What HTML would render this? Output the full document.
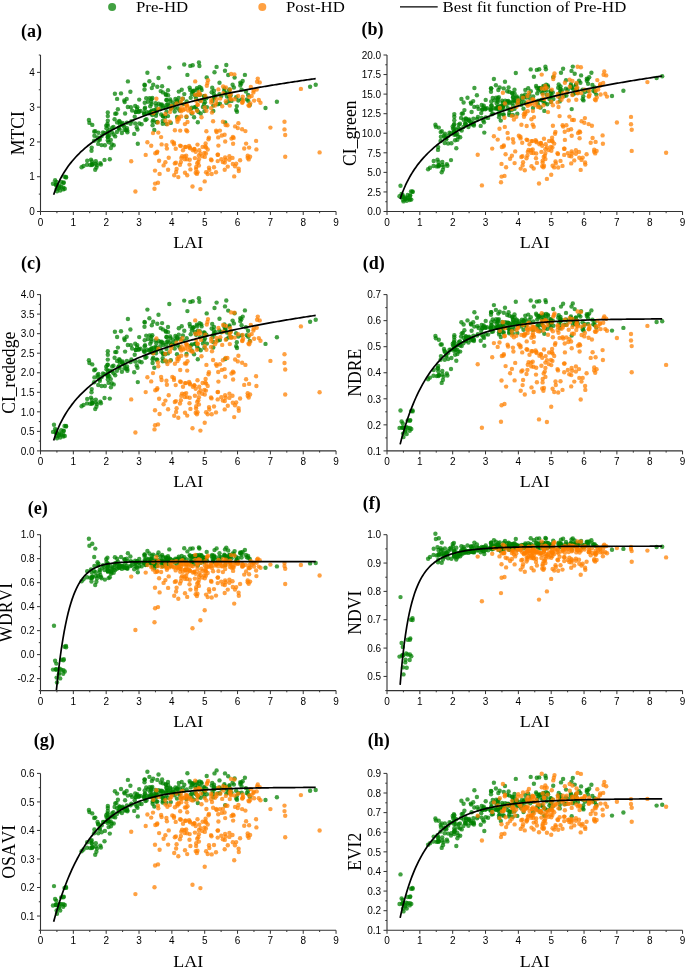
<!DOCTYPE html><html><head><meta charset="utf-8"><style>html,body{margin:0;padding:0;background:#fff;}svg{display:block;will-change:transform}text{font-family:"Liberation Sans",sans-serif;font-kerning:none}.s{font-family:"Liberation Serif",serif}</style></head><body>
<svg width="685" height="967" viewBox="0 0 685 967">
<rect width="685" height="967" fill="#fff"/>
<circle cx="112.1" cy="7.0" r="4" fill="rgba(0,128,0,0.74)"/>
<circle cx="262.3" cy="7.0" r="4" fill="rgba(255,128,0,0.74)"/>
<line x1="400" y1="6.9" x2="437.7" y2="6.9" stroke="#000" stroke-width="1.3"/>
<text class="s" transform="translate(136.0,12.4) scale(1,0.91)" font-size="16.8">Pre-HD</text>
<text class="s" transform="translate(286.0,12.4) scale(1,0.91)" font-size="16.8">Post-HD</text>
<text class="s" transform="translate(442.6,12.4) scale(1,0.91)" font-size="16.8">Best fit function of Pre-HD</text>
<g fill="rgba(0,128,0,0.74)"><circle cx="153.3" cy="120.1" r="2.2"/><circle cx="195.9" cy="106.9" r="2.2"/><circle cx="131.4" cy="121.3" r="2.2"/><circle cx="126.9" cy="122.7" r="2.2"/><circle cx="127.8" cy="107.0" r="2.2"/><circle cx="157.3" cy="86.8" r="2.2"/><circle cx="212.6" cy="101.0" r="2.2"/><circle cx="127.0" cy="128.1" r="2.2"/><circle cx="160.7" cy="104.9" r="2.2"/><circle cx="158.7" cy="103.7" r="2.2"/><circle cx="89.4" cy="122.9" r="2.2"/><circle cx="167.8" cy="104.3" r="2.2"/><circle cx="144.1" cy="112.5" r="2.2"/><circle cx="193.6" cy="91.2" r="2.2"/><circle cx="107.8" cy="125.8" r="2.2"/><circle cx="169.4" cy="105.2" r="2.2"/><circle cx="186.7" cy="101.5" r="2.2"/><circle cx="245.9" cy="91.5" r="2.2"/><circle cx="116.9" cy="132.0" r="2.2"/><circle cx="61.2" cy="186.7" r="2.2"/><circle cx="88.9" cy="120.0" r="2.2"/><circle cx="81.6" cy="167.2" r="2.2"/><circle cx="150.2" cy="106.2" r="2.2"/><circle cx="66.0" cy="176.9" r="2.2"/><circle cx="95.9" cy="163.8" r="2.2"/><circle cx="146.2" cy="98.2" r="2.2"/><circle cx="182.9" cy="98.7" r="2.2"/><circle cx="109.8" cy="129.8" r="2.2"/><circle cx="130.9" cy="107.3" r="2.2"/><circle cx="117.9" cy="109.3" r="2.2"/><circle cx="152.3" cy="98.0" r="2.2"/><circle cx="83.5" cy="166.0" r="2.2"/><circle cx="97.0" cy="165.3" r="2.2"/><circle cx="176.9" cy="100.4" r="2.2"/><circle cx="55.9" cy="184.6" r="2.2"/><circle cx="162.7" cy="120.9" r="2.2"/><circle cx="98.1" cy="140.2" r="2.2"/><circle cx="136.7" cy="127.2" r="2.2"/><circle cx="61.2" cy="181.9" r="2.2"/><circle cx="246.8" cy="99.4" r="2.2"/><circle cx="130.4" cy="91.8" r="2.2"/><circle cx="144.8" cy="85.2" r="2.2"/><circle cx="214.5" cy="72.2" r="2.2"/><circle cx="113.6" cy="134.5" r="2.2"/><circle cx="190.7" cy="109.1" r="2.2"/><circle cx="96.4" cy="167.6" r="2.2"/><circle cx="226.3" cy="65.0" r="2.2"/><circle cx="94.4" cy="135.8" r="2.2"/><circle cx="121.9" cy="133.0" r="2.2"/><circle cx="166.3" cy="124.0" r="2.2"/><circle cx="145.3" cy="120.0" r="2.2"/><circle cx="180.1" cy="102.1" r="2.2"/><circle cx="240.3" cy="82.6" r="2.2"/><circle cx="155.7" cy="109.6" r="2.2"/><circle cx="172.9" cy="102.5" r="2.2"/><circle cx="107.8" cy="140.3" r="2.2"/><circle cx="231.5" cy="100.9" r="2.2"/><circle cx="113.7" cy="145.3" r="2.2"/><circle cx="135.2" cy="123.4" r="2.2"/><circle cx="205.0" cy="102.2" r="2.2"/><circle cx="55.8" cy="184.7" r="2.2"/><circle cx="152.6" cy="125.3" r="2.2"/><circle cx="107.8" cy="120.8" r="2.2"/><circle cx="166.5" cy="99.7" r="2.2"/><circle cx="112.2" cy="127.7" r="2.2"/><circle cx="122.6" cy="122.9" r="2.2"/><circle cx="153.7" cy="110.1" r="2.2"/><circle cx="110.8" cy="140.0" r="2.2"/><circle cx="158.5" cy="78.0" r="2.2"/><circle cx="99.8" cy="139.8" r="2.2"/><circle cx="206.9" cy="107.1" r="2.2"/><circle cx="124.7" cy="102.1" r="2.2"/><circle cx="127.9" cy="81.4" r="2.2"/><circle cx="196.1" cy="98.2" r="2.2"/><circle cx="224.4" cy="88.5" r="2.2"/><circle cx="119.2" cy="120.9" r="2.2"/><circle cx="166.5" cy="105.0" r="2.2"/><circle cx="160.2" cy="109.0" r="2.2"/><circle cx="139.3" cy="123.5" r="2.2"/><circle cx="145.1" cy="107.7" r="2.2"/><circle cx="144.5" cy="84.8" r="2.2"/><circle cx="138.7" cy="112.0" r="2.2"/><circle cx="228.2" cy="75.0" r="2.2"/><circle cx="144.7" cy="102.7" r="2.2"/><circle cx="130.6" cy="123.8" r="2.2"/><circle cx="161.7" cy="104.5" r="2.2"/><circle cx="135.2" cy="105.9" r="2.2"/><circle cx="204.6" cy="96.3" r="2.2"/><circle cx="204.2" cy="99.1" r="2.2"/><circle cx="152.6" cy="121.5" r="2.2"/><circle cx="228.5" cy="101.3" r="2.2"/><circle cx="63.4" cy="187.6" r="2.2"/><circle cx="240.3" cy="85.5" r="2.2"/><circle cx="56.9" cy="185.0" r="2.2"/><circle cx="184.3" cy="94.1" r="2.2"/><circle cx="147.2" cy="112.1" r="2.2"/><circle cx="213.8" cy="97.2" r="2.2"/><circle cx="187.4" cy="74.9" r="2.2"/><circle cx="168.0" cy="90.2" r="2.2"/><circle cx="124.2" cy="126.4" r="2.2"/><circle cx="202.9" cy="106.9" r="2.2"/><circle cx="211.7" cy="92.3" r="2.2"/><circle cx="206.3" cy="98.2" r="2.2"/><circle cx="191.8" cy="93.9" r="2.2"/><circle cx="315.7" cy="84.8" r="2.2"/><circle cx="216.6" cy="66.9" r="2.2"/><circle cx="198.4" cy="112.0" r="2.2"/><circle cx="215.4" cy="96.0" r="2.2"/><circle cx="248.1" cy="95.0" r="2.2"/><circle cx="199.8" cy="94.9" r="2.2"/><circle cx="53.0" cy="183.8" r="2.2"/><circle cx="310.1" cy="86.7" r="2.2"/><circle cx="106.5" cy="128.2" r="2.2"/><circle cx="214.1" cy="98.2" r="2.2"/><circle cx="98.2" cy="143.9" r="2.2"/><circle cx="166.6" cy="100.2" r="2.2"/><circle cx="59.1" cy="187.5" r="2.2"/><circle cx="189.6" cy="87.6" r="2.2"/><circle cx="225.6" cy="92.9" r="2.2"/><circle cx="192.4" cy="91.8" r="2.2"/><circle cx="66.1" cy="177.5" r="2.2"/><circle cx="99.7" cy="138.1" r="2.2"/><circle cx="156.0" cy="115.7" r="2.2"/><circle cx="104.4" cy="133.2" r="2.2"/><circle cx="107.5" cy="132.8" r="2.2"/><circle cx="178.8" cy="91.6" r="2.2"/><circle cx="95.2" cy="169.7" r="2.2"/><circle cx="213.8" cy="94.1" r="2.2"/><circle cx="116.4" cy="113.5" r="2.2"/><circle cx="55.1" cy="180.2" r="2.2"/><circle cx="197.8" cy="122.3" r="2.2"/><circle cx="186.5" cy="117.0" r="2.2"/><circle cx="217.8" cy="104.2" r="2.2"/><circle cx="276.9" cy="101.7" r="2.2"/><circle cx="101.6" cy="145.1" r="2.2"/><circle cx="154.0" cy="113.6" r="2.2"/><circle cx="212.2" cy="87.8" r="2.2"/><circle cx="234.6" cy="77.6" r="2.2"/><circle cx="104.5" cy="159.9" r="2.2"/><circle cx="200.2" cy="100.6" r="2.2"/><circle cx="125.1" cy="113.5" r="2.2"/><circle cx="63.4" cy="182.9" r="2.2"/><circle cx="57.0" cy="191.3" r="2.2"/><circle cx="122.0" cy="124.1" r="2.2"/><circle cx="160.7" cy="91.1" r="2.2"/><circle cx="118.7" cy="127.9" r="2.2"/><circle cx="91.9" cy="165.0" r="2.2"/><circle cx="156.4" cy="113.1" r="2.2"/><circle cx="109.3" cy="135.5" r="2.2"/><circle cx="242.7" cy="81.0" r="2.2"/><circle cx="100.3" cy="163.1" r="2.2"/><circle cx="121.0" cy="93.4" r="2.2"/><circle cx="90.2" cy="165.0" r="2.2"/><circle cx="201.2" cy="88.1" r="2.2"/><circle cx="64.5" cy="176.7" r="2.2"/><circle cx="104.9" cy="145.2" r="2.2"/><circle cx="197.1" cy="110.0" r="2.2"/><circle cx="157.3" cy="122.0" r="2.2"/><circle cx="168.1" cy="95.2" r="2.2"/><circle cx="199.4" cy="66.0" r="2.2"/><circle cx="156.3" cy="105.9" r="2.2"/><circle cx="108.6" cy="142.3" r="2.2"/><circle cx="147.9" cy="101.7" r="2.2"/><circle cx="56.3" cy="182.0" r="2.2"/><circle cx="106.2" cy="125.6" r="2.2"/><circle cx="153.2" cy="84.8" r="2.2"/><circle cx="171.4" cy="107.5" r="2.2"/><circle cx="124.3" cy="100.5" r="2.2"/><circle cx="144.0" cy="113.9" r="2.2"/><circle cx="109.8" cy="159.2" r="2.2"/><circle cx="184.2" cy="64.5" r="2.2"/><circle cx="206.7" cy="77.4" r="2.2"/><circle cx="174.5" cy="107.7" r="2.2"/><circle cx="132.1" cy="110.6" r="2.2"/><circle cx="144.7" cy="108.7" r="2.2"/><circle cx="177.9" cy="108.3" r="2.2"/><circle cx="197.9" cy="94.3" r="2.2"/><circle cx="168.0" cy="116.1" r="2.2"/><circle cx="149.0" cy="113.0" r="2.2"/><circle cx="156.5" cy="122.2" r="2.2"/><circle cx="213.3" cy="105.6" r="2.2"/><circle cx="94.2" cy="131.5" r="2.2"/><circle cx="248.3" cy="100.9" r="2.2"/><circle cx="151.8" cy="88.1" r="2.2"/><circle cx="193.4" cy="90.7" r="2.2"/><circle cx="150.5" cy="112.0" r="2.2"/><circle cx="225.0" cy="93.6" r="2.2"/><circle cx="134.7" cy="116.7" r="2.2"/><circle cx="197.1" cy="89.9" r="2.2"/><circle cx="151.3" cy="101.8" r="2.2"/><circle cx="192.7" cy="65.2" r="2.2"/><circle cx="229.2" cy="96.9" r="2.2"/><circle cx="92.7" cy="164.3" r="2.2"/><circle cx="154.3" cy="130.0" r="2.2"/><circle cx="137.8" cy="143.7" r="2.2"/><circle cx="115.2" cy="113.7" r="2.2"/><circle cx="181.7" cy="89.8" r="2.2"/><circle cx="137.0" cy="109.3" r="2.2"/><circle cx="152.3" cy="115.1" r="2.2"/><circle cx="265.5" cy="108.0" r="2.2"/><circle cx="113.5" cy="126.9" r="2.2"/><circle cx="87.0" cy="164.7" r="2.2"/><circle cx="191.8" cy="107.7" r="2.2"/><circle cx="178.7" cy="97.9" r="2.2"/><circle cx="162.7" cy="123.7" r="2.2"/><circle cx="201.6" cy="90.1" r="2.2"/><circle cx="174.7" cy="111.5" r="2.2"/><circle cx="91.9" cy="161.5" r="2.2"/><circle cx="236.2" cy="110.0" r="2.2"/><circle cx="100.9" cy="164.5" r="2.2"/><circle cx="91.0" cy="159.6" r="2.2"/><circle cx="194.1" cy="117.3" r="2.2"/><circle cx="156.7" cy="111.4" r="2.2"/><circle cx="135.8" cy="112.1" r="2.2"/><circle cx="101.7" cy="136.0" r="2.2"/><circle cx="95.8" cy="161.3" r="2.2"/><circle cx="236.1" cy="97.3" r="2.2"/><circle cx="144.5" cy="89.5" r="2.2"/><circle cx="97.5" cy="137.5" r="2.2"/><circle cx="162.9" cy="92.4" r="2.2"/><circle cx="170.3" cy="101.1" r="2.2"/><circle cx="241.6" cy="89.6" r="2.2"/><circle cx="226.4" cy="102.9" r="2.2"/><circle cx="122.8" cy="125.3" r="2.2"/><circle cx="191.7" cy="113.6" r="2.2"/><circle cx="232.6" cy="84.8" r="2.2"/><circle cx="115.2" cy="136.4" r="2.2"/><circle cx="163.3" cy="116.3" r="2.2"/><circle cx="230.6" cy="95.6" r="2.2"/><circle cx="107.8" cy="137.3" r="2.2"/><circle cx="64.8" cy="188.8" r="2.2"/><circle cx="179.6" cy="110.5" r="2.2"/><circle cx="237.0" cy="111.8" r="2.2"/><circle cx="107.8" cy="116.1" r="2.2"/><circle cx="139.2" cy="99.6" r="2.2"/><circle cx="58.8" cy="188.2" r="2.2"/><circle cx="183.7" cy="104.1" r="2.2"/><circle cx="137.5" cy="129.6" r="2.2"/><circle cx="87.2" cy="160.7" r="2.2"/><circle cx="114.9" cy="93.7" r="2.2"/><circle cx="111.7" cy="144.2" r="2.2"/><circle cx="119.7" cy="124.0" r="2.2"/><circle cx="91.5" cy="150.8" r="2.2"/><circle cx="162.1" cy="86.2" r="2.2"/><circle cx="92.2" cy="164.1" r="2.2"/><circle cx="177.0" cy="117.0" r="2.2"/><circle cx="229.2" cy="90.7" r="2.2"/><circle cx="163.4" cy="107.7" r="2.2"/><circle cx="162.7" cy="105.8" r="2.2"/><circle cx="241.3" cy="83.6" r="2.2"/><circle cx="229.5" cy="89.4" r="2.2"/><circle cx="170.7" cy="108.7" r="2.2"/><circle cx="126.7" cy="98.9" r="2.2"/><circle cx="225.0" cy="70.7" r="2.2"/><circle cx="238.3" cy="100.5" r="2.2"/><circle cx="219.5" cy="82.8" r="2.2"/><circle cx="151.6" cy="110.6" r="2.2"/><circle cx="204.4" cy="111.1" r="2.2"/><circle cx="149.4" cy="81.3" r="2.2"/><circle cx="214.0" cy="90.8" r="2.2"/><circle cx="249.8" cy="104.9" r="2.2"/><circle cx="107.8" cy="135.7" r="2.2"/><circle cx="236.8" cy="106.1" r="2.2"/><circle cx="161.2" cy="114.4" r="2.2"/><circle cx="162.9" cy="116.3" r="2.2"/><circle cx="56.6" cy="188.9" r="2.2"/><circle cx="124.4" cy="129.9" r="2.2"/><circle cx="199.6" cy="86.9" r="2.2"/><circle cx="60.2" cy="190.6" r="2.2"/><circle cx="147.4" cy="72.7" r="2.2"/><circle cx="92.3" cy="124.9" r="2.2"/><circle cx="151.6" cy="111.6" r="2.2"/><circle cx="225.2" cy="122.4" r="2.2"/><circle cx="63.2" cy="189.4" r="2.2"/><circle cx="219.9" cy="103.8" r="2.2"/><circle cx="117.1" cy="122.4" r="2.2"/><circle cx="144.8" cy="114.0" r="2.2"/><circle cx="107.8" cy="131.8" r="2.2"/><circle cx="194.7" cy="107.2" r="2.2"/><circle cx="137.3" cy="107.3" r="2.2"/><circle cx="190.3" cy="65.9" r="2.2"/><circle cx="227.0" cy="96.5" r="2.2"/><circle cx="107.4" cy="123.9" r="2.2"/><circle cx="135.8" cy="112.1" r="2.2"/><circle cx="175.4" cy="99.0" r="2.2"/><circle cx="141.6" cy="124.3" r="2.2"/><circle cx="166.0" cy="94.9" r="2.2"/><circle cx="149.6" cy="98.1" r="2.2"/><circle cx="110.9" cy="148.0" r="2.2"/><circle cx="107.8" cy="136.9" r="2.2"/><circle cx="114.6" cy="119.2" r="2.2"/><circle cx="140.5" cy="111.0" r="2.2"/><circle cx="200.7" cy="113.5" r="2.2"/><circle cx="175.9" cy="103.5" r="2.2"/><circle cx="190.2" cy="90.0" r="2.2"/><circle cx="150.7" cy="113.5" r="2.2"/><circle cx="190.7" cy="97.7" r="2.2"/><circle cx="91.7" cy="147.6" r="2.2"/><circle cx="172.7" cy="105.9" r="2.2"/><circle cx="119.7" cy="129.5" r="2.2"/><circle cx="94.1" cy="140.7" r="2.2"/><circle cx="151.4" cy="99.3" r="2.2"/><circle cx="98.4" cy="132.7" r="2.2"/><circle cx="103.0" cy="132.5" r="2.2"/><circle cx="111.8" cy="132.3" r="2.2"/><circle cx="118.7" cy="128.0" r="2.2"/><circle cx="59.6" cy="185.7" r="2.2"/><circle cx="134.2" cy="133.9" r="2.2"/><circle cx="177.3" cy="101.7" r="2.2"/><circle cx="233.9" cy="87.5" r="2.2"/><circle cx="156.6" cy="110.4" r="2.2"/><circle cx="165.6" cy="94.0" r="2.2"/><circle cx="170.8" cy="122.9" r="2.2"/><circle cx="170.2" cy="99.4" r="2.2"/><circle cx="213.3" cy="110.9" r="2.2"/><circle cx="194.9" cy="95.5" r="2.2"/><circle cx="169.3" cy="67.6" r="2.2"/><circle cx="166.2" cy="107.5" r="2.2"/><circle cx="198.9" cy="62.5" r="2.2"/><circle cx="146.5" cy="119.3" r="2.2"/><circle cx="107.8" cy="112.5" r="2.2"/><circle cx="138.9" cy="111.3" r="2.2"/><circle cx="126.0" cy="130.1" r="2.2"/><circle cx="224.3" cy="90.7" r="2.2"/><circle cx="95.3" cy="131.3" r="2.2"/><circle cx="127.3" cy="130.4" r="2.2"/><circle cx="219.4" cy="94.3" r="2.2"/><circle cx="244.9" cy="74.9" r="2.2"/><circle cx="241.6" cy="99.4" r="2.2"/><circle cx="155.6" cy="103.2" r="2.2"/><circle cx="151.4" cy="104.1" r="2.2"/><circle cx="166.5" cy="111.7" r="2.2"/><circle cx="165.1" cy="117.0" r="2.2"/><circle cx="117.1" cy="98.9" r="2.2"/><circle cx="203.9" cy="96.1" r="2.2"/><circle cx="204.0" cy="104.0" r="2.2"/><circle cx="221.3" cy="96.1" r="2.2"/><circle cx="119.8" cy="121.7" r="2.2"/><circle cx="63.8" cy="182.5" r="2.2"/><circle cx="196.9" cy="88.3" r="2.2"/><circle cx="127.4" cy="132.3" r="2.2"/></g>
<g fill="rgba(255,128,0,0.74)"><circle cx="225.6" cy="159.6" r="2.2"/><circle cx="187.2" cy="106.5" r="2.2"/><circle cx="165.4" cy="120.8" r="2.2"/><circle cx="161.6" cy="144.4" r="2.2"/><circle cx="186.4" cy="116.4" r="2.2"/><circle cx="242.7" cy="96.7" r="2.2"/><circle cx="205.3" cy="95.8" r="2.2"/><circle cx="153.3" cy="113.2" r="2.2"/><circle cx="198.9" cy="159.3" r="2.2"/><circle cx="168.1" cy="169.7" r="2.2"/><circle cx="163.6" cy="165.4" r="2.2"/><circle cx="284.5" cy="129.4" r="2.2"/><circle cx="211.5" cy="160.3" r="2.2"/><circle cx="195.2" cy="81.4" r="2.2"/><circle cx="224.6" cy="134.8" r="2.2"/><circle cx="216.0" cy="172.3" r="2.2"/><circle cx="131.2" cy="161.3" r="2.2"/><circle cx="189.7" cy="159.8" r="2.2"/><circle cx="236.2" cy="163.7" r="2.2"/><circle cx="190.1" cy="148.2" r="2.2"/><circle cx="233.1" cy="143.8" r="2.2"/><circle cx="225.6" cy="125.1" r="2.2"/><circle cx="285.2" cy="135.0" r="2.2"/><circle cx="235.1" cy="126.4" r="2.2"/><circle cx="223.3" cy="93.2" r="2.2"/><circle cx="229.7" cy="95.2" r="2.2"/><circle cx="181.3" cy="158.1" r="2.2"/><circle cx="234.4" cy="74.4" r="2.2"/><circle cx="154.5" cy="188.7" r="2.2"/><circle cx="178.3" cy="177.1" r="2.2"/><circle cx="194.5" cy="149.2" r="2.2"/><circle cx="218.4" cy="89.4" r="2.2"/><circle cx="181.2" cy="111.2" r="2.2"/><circle cx="254.1" cy="100.6" r="2.2"/><circle cx="197.5" cy="172.3" r="2.2"/><circle cx="197.0" cy="110.8" r="2.2"/><circle cx="211.0" cy="159.4" r="2.2"/><circle cx="253.7" cy="90.5" r="2.2"/><circle cx="189.9" cy="108.4" r="2.2"/><circle cx="158.0" cy="182.8" r="2.2"/><circle cx="250.3" cy="103.5" r="2.2"/><circle cx="157.9" cy="122.5" r="2.2"/><circle cx="216.3" cy="103.0" r="2.2"/><circle cx="251.7" cy="96.0" r="2.2"/><circle cx="222.2" cy="106.3" r="2.2"/><circle cx="174.0" cy="144.3" r="2.2"/><circle cx="205.3" cy="146.5" r="2.2"/><circle cx="195.7" cy="151.8" r="2.2"/><circle cx="192.9" cy="150.3" r="2.2"/><circle cx="229.4" cy="156.2" r="2.2"/><circle cx="169.8" cy="121.6" r="2.2"/><circle cx="188.2" cy="110.6" r="2.2"/><circle cx="196.1" cy="169.1" r="2.2"/><circle cx="185.0" cy="109.0" r="2.2"/><circle cx="155.1" cy="183.6" r="2.2"/><circle cx="187.0" cy="105.3" r="2.2"/><circle cx="214.0" cy="167.3" r="2.2"/><circle cx="245.4" cy="131.1" r="2.2"/><circle cx="225.8" cy="101.2" r="2.2"/><circle cx="147.4" cy="142.2" r="2.2"/><circle cx="221.8" cy="135.5" r="2.2"/><circle cx="221.3" cy="159.3" r="2.2"/><circle cx="256.4" cy="149.4" r="2.2"/><circle cx="180.4" cy="109.7" r="2.2"/><circle cx="173.9" cy="142.7" r="2.2"/><circle cx="206.8" cy="85.8" r="2.2"/><circle cx="230.4" cy="98.5" r="2.2"/><circle cx="217.7" cy="161.1" r="2.2"/><circle cx="199.2" cy="150.2" r="2.2"/><circle cx="174.2" cy="175.3" r="2.2"/><circle cx="198.9" cy="155.4" r="2.2"/><circle cx="184.8" cy="159.2" r="2.2"/><circle cx="208.0" cy="80.3" r="2.2"/><circle cx="232.8" cy="163.9" r="2.2"/><circle cx="247.7" cy="157.8" r="2.2"/><circle cx="155.3" cy="153.3" r="2.2"/><circle cx="211.2" cy="99.9" r="2.2"/><circle cx="192.8" cy="112.7" r="2.2"/><circle cx="185.9" cy="104.8" r="2.2"/><circle cx="194.9" cy="158.1" r="2.2"/><circle cx="220.3" cy="98.6" r="2.2"/><circle cx="174.9" cy="130.3" r="2.2"/><circle cx="247.7" cy="155.7" r="2.2"/><circle cx="196.2" cy="167.0" r="2.2"/><circle cx="183.0" cy="150.2" r="2.2"/><circle cx="218.0" cy="154.7" r="2.2"/><circle cx="181.2" cy="116.4" r="2.2"/><circle cx="235.0" cy="166.2" r="2.2"/><circle cx="242.1" cy="129.3" r="2.2"/><circle cx="227.8" cy="166.6" r="2.2"/><circle cx="194.2" cy="148.9" r="2.2"/><circle cx="202.6" cy="146.9" r="2.2"/><circle cx="222.8" cy="162.1" r="2.2"/><circle cx="206.1" cy="172.3" r="2.2"/><circle cx="284.5" cy="121.8" r="2.2"/><circle cx="171.3" cy="108.7" r="2.2"/><circle cx="209.0" cy="167.8" r="2.2"/><circle cx="230.7" cy="93.7" r="2.2"/><circle cx="225.1" cy="157.5" r="2.2"/><circle cx="224.7" cy="169.7" r="2.2"/><circle cx="167.4" cy="124.3" r="2.2"/><circle cx="200.2" cy="94.3" r="2.2"/><circle cx="225.9" cy="87.5" r="2.2"/><circle cx="238.4" cy="123.2" r="2.2"/><circle cx="218.4" cy="145.6" r="2.2"/><circle cx="285.2" cy="156.7" r="2.2"/><circle cx="182.4" cy="98.8" r="2.2"/><circle cx="224.8" cy="162.6" r="2.2"/><circle cx="238.6" cy="168.6" r="2.2"/><circle cx="256.7" cy="89.6" r="2.2"/><circle cx="190.4" cy="169.4" r="2.2"/><circle cx="196.2" cy="100.7" r="2.2"/><circle cx="201.0" cy="101.0" r="2.2"/><circle cx="244.2" cy="148.5" r="2.2"/><circle cx="242.5" cy="102.2" r="2.2"/><circle cx="207.7" cy="174.0" r="2.2"/><circle cx="183.4" cy="110.1" r="2.2"/><circle cx="234.7" cy="99.2" r="2.2"/><circle cx="198.9" cy="165.5" r="2.2"/><circle cx="159.6" cy="173.9" r="2.2"/><circle cx="240.1" cy="160.3" r="2.2"/><circle cx="230.1" cy="89.6" r="2.2"/><circle cx="223.1" cy="86.5" r="2.2"/><circle cx="156.4" cy="98.7" r="2.2"/><circle cx="202.2" cy="156.2" r="2.2"/><circle cx="250.8" cy="86.9" r="2.2"/><circle cx="209.3" cy="169.9" r="2.2"/><circle cx="225.2" cy="141.5" r="2.2"/><circle cx="204.7" cy="181.4" r="2.2"/><circle cx="229.4" cy="159.8" r="2.2"/><circle cx="176.1" cy="172.0" r="2.2"/><circle cx="185.0" cy="147.0" r="2.2"/><circle cx="204.8" cy="156.9" r="2.2"/><circle cx="207.7" cy="149.5" r="2.2"/><circle cx="175.7" cy="148.8" r="2.2"/><circle cx="259.7" cy="82.4" r="2.2"/><circle cx="192.5" cy="186.5" r="2.2"/><circle cx="215.0" cy="105.5" r="2.2"/><circle cx="178.6" cy="117.5" r="2.2"/><circle cx="189.1" cy="146.0" r="2.2"/><circle cx="243.1" cy="100.3" r="2.2"/><circle cx="197.5" cy="144.6" r="2.2"/><circle cx="158.3" cy="132.6" r="2.2"/><circle cx="177.5" cy="121.7" r="2.2"/><circle cx="189.7" cy="147.4" r="2.2"/><circle cx="206.1" cy="147.4" r="2.2"/><circle cx="135.4" cy="191.5" r="2.2"/><circle cx="170.0" cy="112.1" r="2.2"/><circle cx="257.8" cy="78.6" r="2.2"/><circle cx="253.4" cy="92.4" r="2.2"/><circle cx="231.2" cy="99.5" r="2.2"/><circle cx="219.9" cy="130.6" r="2.2"/><circle cx="257.1" cy="81.7" r="2.2"/><circle cx="171.7" cy="106.1" r="2.2"/><circle cx="197.4" cy="104.4" r="2.2"/><circle cx="157.3" cy="151.6" r="2.2"/><circle cx="206.4" cy="131.3" r="2.2"/><circle cx="204.4" cy="152.9" r="2.2"/><circle cx="234.2" cy="176.4" r="2.2"/><circle cx="175.9" cy="162.7" r="2.2"/><circle cx="231.1" cy="74.0" r="2.2"/><circle cx="159.1" cy="160.7" r="2.2"/><circle cx="145.7" cy="154.9" r="2.2"/><circle cx="246.1" cy="143.6" r="2.2"/><circle cx="168.7" cy="157.7" r="2.2"/><circle cx="206.4" cy="110.8" r="2.2"/><circle cx="186.2" cy="155.7" r="2.2"/><circle cx="227.4" cy="125.2" r="2.2"/><circle cx="186.2" cy="130.2" r="2.2"/><circle cx="248.5" cy="105.3" r="2.2"/><circle cx="212.0" cy="112.5" r="2.2"/><circle cx="208.5" cy="139.3" r="2.2"/><circle cx="205.9" cy="153.5" r="2.2"/><circle cx="184.5" cy="156.4" r="2.2"/><circle cx="232.5" cy="157.9" r="2.2"/><circle cx="205.6" cy="143.5" r="2.2"/><circle cx="158.4" cy="108.9" r="2.2"/><circle cx="258.8" cy="100.0" r="2.2"/><circle cx="319.6" cy="152.4" r="2.2"/><circle cx="180.2" cy="130.6" r="2.2"/><circle cx="174.8" cy="163.4" r="2.2"/><circle cx="180.0" cy="164.8" r="2.2"/><circle cx="187.0" cy="159.2" r="2.2"/><circle cx="165.4" cy="162.3" r="2.2"/><circle cx="184.9" cy="124.1" r="2.2"/><circle cx="211.1" cy="108.1" r="2.2"/><circle cx="182.1" cy="156.2" r="2.2"/><circle cx="180.1" cy="145.6" r="2.2"/><circle cx="176.5" cy="103.4" r="2.2"/><circle cx="166.9" cy="148.6" r="2.2"/><circle cx="248.7" cy="159.4" r="2.2"/><circle cx="176.6" cy="168.9" r="2.2"/><circle cx="191.2" cy="112.1" r="2.2"/><circle cx="250.1" cy="156.8" r="2.2"/><circle cx="213.1" cy="121.2" r="2.2"/><circle cx="180.9" cy="146.1" r="2.2"/><circle cx="177.3" cy="119.3" r="2.2"/><circle cx="200.4" cy="189.1" r="2.2"/><circle cx="187.2" cy="131.3" r="2.2"/><circle cx="189.5" cy="164.6" r="2.2"/><circle cx="216.1" cy="130.7" r="2.2"/><circle cx="201.5" cy="117.3" r="2.2"/><circle cx="197.2" cy="163.3" r="2.2"/><circle cx="270.4" cy="127.6" r="2.2"/><circle cx="249.3" cy="97.0" r="2.2"/><circle cx="249.1" cy="147.6" r="2.2"/><circle cx="200.5" cy="153.5" r="2.2"/><circle cx="198.8" cy="92.3" r="2.2"/><circle cx="216.5" cy="99.3" r="2.2"/><circle cx="260.5" cy="102.7" r="2.2"/><circle cx="155.0" cy="170.6" r="2.2"/><circle cx="238.8" cy="171.0" r="2.2"/><circle cx="217.6" cy="154.8" r="2.2"/><circle cx="185.9" cy="147.0" r="2.2"/><circle cx="238.1" cy="96.0" r="2.2"/><circle cx="165.3" cy="114.0" r="2.2"/><circle cx="256.1" cy="140.9" r="2.2"/><circle cx="231.5" cy="138.6" r="2.2"/><circle cx="198.3" cy="162.0" r="2.2"/><circle cx="187.5" cy="122.0" r="2.2"/><circle cx="153.0" cy="133.1" r="2.2"/><circle cx="249.2" cy="106.1" r="2.2"/><circle cx="172.3" cy="141.7" r="2.2"/><circle cx="229.8" cy="105.6" r="2.2"/><circle cx="195.7" cy="172.7" r="2.2"/><circle cx="216.7" cy="132.0" r="2.2"/><circle cx="185.0" cy="172.8" r="2.2"/><circle cx="197.8" cy="104.9" r="2.2"/><circle cx="178.8" cy="119.3" r="2.2"/><circle cx="196.9" cy="173.9" r="2.2"/><circle cx="180.9" cy="101.8" r="2.2"/><circle cx="187.2" cy="175.2" r="2.2"/><circle cx="242.2" cy="102.7" r="2.2"/><circle cx="207.4" cy="83.1" r="2.2"/><circle cx="218.2" cy="137.4" r="2.2"/><circle cx="211.3" cy="102.5" r="2.2"/><circle cx="151.2" cy="145.7" r="2.2"/><circle cx="157.0" cy="152.7" r="2.2"/><circle cx="300.9" cy="88.9" r="2.2"/><circle cx="166.4" cy="145.1" r="2.2"/><circle cx="161.1" cy="137.1" r="2.2"/><circle cx="211.7" cy="174.0" r="2.2"/><circle cx="181.6" cy="107.2" r="2.2"/><circle cx="204.8" cy="107.4" r="2.2"/><circle cx="237.8" cy="128.1" r="2.2"/><circle cx="233.6" cy="137.9" r="2.2"/><circle cx="208.9" cy="137.6" r="2.2"/><circle cx="180.9" cy="162.0" r="2.2"/><circle cx="222.9" cy="121.7" r="2.2"/><circle cx="195.3" cy="94.7" r="2.2"/><circle cx="198.2" cy="94.9" r="2.2"/><circle cx="232.9" cy="137.0" r="2.2"/></g>
<polyline points="53.64,194.71 54.95,191.06 56.27,187.74 57.59,184.68 58.90,181.84 60.22,179.21 61.54,176.74 62.85,174.42 64.17,172.24 65.49,170.18 66.81,168.22 68.12,166.35 69.44,164.58 70.76,162.88 72.07,161.25 73.39,159.69 74.71,158.20 76.02,156.75 77.34,155.37 78.66,154.03 79.97,152.73 81.29,151.48 82.61,150.27 83.92,149.09 85.24,147.95 86.56,146.85 87.88,145.77 89.19,144.72 90.51,143.71 91.83,142.71 93.14,141.75 94.46,140.80 95.78,139.89 97.09,138.99 98.41,138.11 99.73,137.25 101.04,136.41 102.36,135.59 103.68,134.79 105.00,134.00 106.31,133.23 107.63,132.47 108.95,131.73 110.26,131.01 111.58,130.29 112.90,129.59 114.21,128.90 115.53,128.23 116.85,127.56 118.16,126.91 119.48,126.27 120.80,125.64 122.11,125.02 123.43,124.41 124.75,123.81 126.07,123.22 127.38,122.63 128.70,122.06 130.02,121.49 131.33,120.94 132.65,120.39 133.97,119.85 135.28,119.31 136.60,118.79 137.92,118.27 139.23,117.75 140.55,117.25 141.87,116.75 143.19,116.26 144.50,115.77 145.82,115.29 147.14,114.82 148.45,114.35 149.77,113.89 151.09,113.43 152.40,112.98 153.72,112.53 155.04,112.09 156.35,111.65 157.67,111.22 158.99,110.80 160.30,110.37 161.62,109.96 162.94,109.55 164.26,109.14 165.57,108.73 166.89,108.33 168.21,107.94 169.52,107.55 170.84,107.16 172.16,106.78 173.47,106.40 174.79,106.02 176.11,105.65 177.42,105.28 178.74,104.91 180.06,104.55 181.38,104.19 182.69,103.84 184.01,103.49 185.33,103.14 186.64,102.79 187.96,102.45 189.28,102.11 190.59,101.78 191.91,101.44 193.23,101.11 194.54,100.78 195.86,100.46 197.18,100.14 198.50,99.82 199.81,99.50 201.13,99.19 202.45,98.88 203.76,98.57 205.08,98.26 206.40,97.96 207.71,97.65 209.03,97.36 210.35,97.06 211.66,96.76 212.98,96.47 214.30,96.18 215.61,95.89 216.93,95.61 218.25,95.32 219.57,95.04 220.88,94.76 222.20,94.49 223.52,94.21 224.83,93.94 226.15,93.66 227.47,93.39 228.78,93.13 230.10,92.86 231.42,92.60 232.73,92.33 234.05,92.07 235.37,91.82 236.69,91.56 238.00,91.30 239.32,91.05 240.64,90.80 241.95,90.55 243.27,90.30 244.59,90.05 245.90,89.81 247.22,89.56 248.54,89.32 249.85,89.08 251.17,88.84 252.49,88.60 253.80,88.37 255.12,88.13 256.44,87.90 257.76,87.67 259.07,87.44 260.39,87.21 261.71,86.98 263.02,86.75 264.34,86.53 265.66,86.30 266.97,86.08 268.29,85.86 269.61,85.64 270.92,85.42 272.24,85.20 273.56,84.99 274.88,84.77 276.19,84.56 277.51,84.35 278.83,84.14 280.14,83.93 281.46,83.72 282.78,83.51 284.09,83.30 285.41,83.10 286.73,82.89 288.04,82.69 289.36,82.48 290.68,82.28 291.99,82.08 293.31,81.88 294.63,81.69 295.95,81.49 297.26,81.29 298.58,81.10 299.90,80.90 301.21,80.71 302.53,80.52 303.85,80.33 305.16,80.14 306.48,79.95 307.80,79.76 309.11,79.57 310.43,79.38 311.75,79.20 313.07,79.01 314.38,78.83 315.70,78.65" fill="none" stroke="#000" stroke-width="1.7" stroke-linejoin="round"/>
<path d="M40.5,55.0 V211.5 M40.5,211.5 H336.06000000000006" stroke="#333" stroke-width="1.1" fill="none"/>
<path d="M40.50,211.5 v3.5 M73.34,211.5 v3.5 M106.18,211.5 v3.5 M139.02,211.5 v3.5 M171.86,211.5 v3.5 M204.70,211.5 v3.5 M237.54,211.5 v3.5 M270.38,211.5 v3.5 M303.22,211.5 v3.5 M336.06,211.5 v3.5 M56.92,211.5 v1.7 M89.76,211.5 v1.7 M122.60,211.5 v1.7 M155.44,211.5 v1.7 M188.28,211.5 v1.7 M221.12,211.5 v1.7 M253.96,211.5 v1.7 M286.80,211.5 v1.7 M319.64,211.5 v1.7 M40.5,211.50 h-3.5 M40.5,194.11 h-1.7 M40.5,176.72 h-3.5 M40.5,159.33 h-1.7 M40.5,141.94 h-3.5 M40.5,124.56 h-1.7 M40.5,107.17 h-3.5 M40.5,89.78 h-1.7 M40.5,72.39 h-3.5 M40.5,55.00 h-1.7" stroke="#333" stroke-width="1.0" fill="none"/>
<text x="40.50" y="225.6" font-size="10.0" text-anchor="middle">0</text>
<text x="73.34" y="225.6" font-size="10.0" text-anchor="middle">1</text>
<text x="106.18" y="225.6" font-size="10.0" text-anchor="middle">2</text>
<text x="139.02" y="225.6" font-size="10.0" text-anchor="middle">3</text>
<text x="171.86" y="225.6" font-size="10.0" text-anchor="middle">4</text>
<text x="204.70" y="225.6" font-size="10.0" text-anchor="middle">5</text>
<text x="237.54" y="225.6" font-size="10.0" text-anchor="middle">6</text>
<text x="270.38" y="225.6" font-size="10.0" text-anchor="middle">7</text>
<text x="303.22" y="225.6" font-size="10.0" text-anchor="middle">8</text>
<text x="336.06" y="225.6" font-size="10.0" text-anchor="middle">9</text>
<text x="34.70" y="215.20" font-size="10.0" text-anchor="end">0</text>
<text x="34.70" y="180.42" font-size="10.0" text-anchor="end">1</text>
<text x="34.70" y="145.64" font-size="10.0" text-anchor="end">2</text>
<text x="34.70" y="110.87" font-size="10.0" text-anchor="end">3</text>
<text x="34.70" y="76.09" font-size="10.0" text-anchor="end">4</text>
<text class="s" transform="translate(188.3,247.8) scale(1,0.91)" font-size="18" text-anchor="middle">LAI</text>
<text class="s" transform="translate(23.6,133.2) rotate(-90) scale(1,1.07)" x="0" y="0" font-size="17.6" text-anchor="middle">MTCI</text>
<text class="s" x="21.1" y="36.6" font-size="18" font-weight="bold">(a)</text>
<g fill="rgba(0,128,0,0.74)"><circle cx="584.8" cy="92.0" r="2.2"/><circle cx="469.1" cy="119.4" r="2.2"/><circle cx="544.3" cy="110.9" r="2.2"/><circle cx="463.6" cy="119.8" r="2.2"/><circle cx="409.7" cy="200.0" r="2.2"/><circle cx="453.9" cy="124.9" r="2.2"/><circle cx="583.5" cy="100.4" r="2.2"/><circle cx="476.9" cy="95.3" r="2.2"/><circle cx="553.2" cy="77.1" r="2.2"/><circle cx="461.1" cy="117.9" r="2.2"/><circle cx="513.1" cy="97.3" r="2.2"/><circle cx="442.3" cy="161.9" r="2.2"/><circle cx="491.2" cy="101.5" r="2.2"/><circle cx="496.7" cy="103.5" r="2.2"/><circle cx="576.0" cy="84.4" r="2.2"/><circle cx="465.7" cy="118.4" r="2.2"/><circle cx="433.5" cy="166.0" r="2.2"/><circle cx="553.4" cy="99.0" r="2.2"/><circle cx="551.1" cy="91.2" r="2.2"/><circle cx="460.1" cy="129.3" r="2.2"/><circle cx="493.7" cy="108.2" r="2.2"/><circle cx="411.0" cy="191.4" r="2.2"/><circle cx="473.2" cy="101.1" r="2.2"/><circle cx="541.4" cy="91.4" r="2.2"/><circle cx="464.4" cy="110.1" r="2.2"/><circle cx="468.4" cy="127.0" r="2.2"/><circle cx="497.9" cy="98.3" r="2.2"/><circle cx="405.6" cy="198.7" r="2.2"/><circle cx="446.3" cy="139.3" r="2.2"/><circle cx="530.8" cy="91.2" r="2.2"/><circle cx="537.2" cy="93.4" r="2.2"/><circle cx="469.3" cy="121.1" r="2.2"/><circle cx="435.9" cy="126.8" r="2.2"/><circle cx="514.5" cy="108.9" r="2.2"/><circle cx="526.6" cy="97.5" r="2.2"/><circle cx="449.5" cy="132.7" r="2.2"/><circle cx="515.8" cy="73.0" r="2.2"/><circle cx="474.4" cy="88.0" r="2.2"/><circle cx="491.0" cy="91.8" r="2.2"/><circle cx="438.8" cy="127.6" r="2.2"/><circle cx="453.0" cy="128.7" r="2.2"/><circle cx="533.0" cy="107.9" r="2.2"/><circle cx="506.7" cy="104.5" r="2.2"/><circle cx="499.1" cy="117.3" r="2.2"/><circle cx="561.9" cy="90.2" r="2.2"/><circle cx="586.8" cy="78.7" r="2.2"/><circle cx="519.4" cy="98.4" r="2.2"/><circle cx="572.8" cy="66.6" r="2.2"/><circle cx="566.0" cy="80.2" r="2.2"/><circle cx="461.7" cy="113.7" r="2.2"/><circle cx="495.9" cy="85.2" r="2.2"/><circle cx="543.6" cy="87.0" r="2.2"/><circle cx="511.6" cy="109.9" r="2.2"/><circle cx="482.3" cy="109.6" r="2.2"/><circle cx="480.7" cy="125.9" r="2.2"/><circle cx="529.4" cy="94.7" r="2.2"/><circle cx="572.1" cy="87.3" r="2.2"/><circle cx="560.3" cy="91.2" r="2.2"/><circle cx="509.2" cy="101.9" r="2.2"/><circle cx="438.4" cy="162.0" r="2.2"/><circle cx="538.3" cy="90.4" r="2.2"/><circle cx="477.1" cy="118.9" r="2.2"/><circle cx="454.3" cy="128.4" r="2.2"/><circle cx="402.8" cy="195.1" r="2.2"/><circle cx="559.8" cy="101.4" r="2.2"/><circle cx="575.7" cy="85.4" r="2.2"/><circle cx="533.2" cy="96.5" r="2.2"/><circle cx="500.2" cy="106.0" r="2.2"/><circle cx="438.4" cy="166.4" r="2.2"/><circle cx="468.5" cy="120.3" r="2.2"/><circle cx="433.7" cy="161.0" r="2.2"/><circle cx="407.7" cy="198.2" r="2.2"/><circle cx="587.8" cy="79.3" r="2.2"/><circle cx="507.2" cy="91.2" r="2.2"/><circle cx="402.3" cy="196.9" r="2.2"/><circle cx="514.3" cy="100.2" r="2.2"/><circle cx="487.0" cy="108.2" r="2.2"/><circle cx="407.7" cy="194.9" r="2.2"/><circle cx="503.8" cy="114.4" r="2.2"/><circle cx="515.9" cy="100.8" r="2.2"/><circle cx="496.1" cy="97.6" r="2.2"/><circle cx="500.8" cy="120.6" r="2.2"/><circle cx="477.9" cy="116.9" r="2.2"/><circle cx="406.7" cy="200.8" r="2.2"/><circle cx="563.1" cy="68.7" r="2.2"/><circle cx="558.7" cy="84.4" r="2.2"/><circle cx="579.1" cy="80.8" r="2.2"/><circle cx="493.9" cy="79.0" r="2.2"/><circle cx="502.1" cy="100.7" r="2.2"/><circle cx="483.8" cy="105.8" r="2.2"/><circle cx="440.9" cy="136.8" r="2.2"/><circle cx="550.9" cy="102.1" r="2.2"/><circle cx="572.9" cy="94.6" r="2.2"/><circle cx="502.2" cy="105.4" r="2.2"/><circle cx="519.2" cy="101.0" r="2.2"/><circle cx="491.6" cy="105.2" r="2.2"/><circle cx="509.2" cy="115.1" r="2.2"/><circle cx="491.2" cy="105.9" r="2.2"/><circle cx="484.0" cy="122.3" r="2.2"/><circle cx="402.4" cy="196.8" r="2.2"/><circle cx="588.1" cy="83.7" r="2.2"/><circle cx="470.9" cy="124.3" r="2.2"/><circle cx="509.2" cy="113.0" r="2.2"/><circle cx="539.9" cy="87.9" r="2.2"/><circle cx="512.1" cy="92.9" r="2.2"/><circle cx="526.1" cy="103.7" r="2.2"/><circle cx="498.1" cy="106.6" r="2.2"/><circle cx="543.6" cy="101.9" r="2.2"/><circle cx="538.9" cy="88.8" r="2.2"/><circle cx="612.0" cy="96.0" r="2.2"/><circle cx="564.3" cy="96.1" r="2.2"/><circle cx="444.6" cy="137.2" r="2.2"/><circle cx="505.0" cy="81.8" r="2.2"/><circle cx="539.2" cy="69.2" r="2.2"/><circle cx="656.6" cy="78.0" r="2.2"/><circle cx="495.5" cy="108.6" r="2.2"/><circle cx="528.2" cy="88.2" r="2.2"/><circle cx="441.7" cy="172.3" r="2.2"/><circle cx="552.8" cy="92.5" r="2.2"/><circle cx="497.9" cy="101.8" r="2.2"/><circle cx="481.7" cy="105.0" r="2.2"/><circle cx="463.4" cy="127.0" r="2.2"/><circle cx="491.8" cy="114.2" r="2.2"/><circle cx="521.9" cy="95.6" r="2.2"/><circle cx="509.9" cy="103.1" r="2.2"/><circle cx="471.6" cy="112.0" r="2.2"/><circle cx="454.3" cy="124.0" r="2.2"/><circle cx="571.5" cy="87.8" r="2.2"/><circle cx="461.4" cy="99.0" r="2.2"/><circle cx="596.3" cy="94.6" r="2.2"/><circle cx="440.6" cy="141.0" r="2.2"/><circle cx="441.8" cy="131.1" r="2.2"/><circle cx="561.0" cy="72.7" r="2.2"/><circle cx="403.1" cy="199.7" r="2.2"/><circle cx="450.9" cy="133.2" r="2.2"/><circle cx="591.4" cy="72.7" r="2.2"/><circle cx="428.1" cy="169.2" r="2.2"/><circle cx="516.7" cy="96.4" r="2.2"/><circle cx="438.2" cy="147.1" r="2.2"/><circle cx="481.7" cy="118.0" r="2.2"/><circle cx="589.2" cy="77.3" r="2.2"/><circle cx="573.5" cy="89.8" r="2.2"/><circle cx="484.3" cy="132.6" r="2.2"/><circle cx="481.2" cy="113.1" r="2.2"/><circle cx="546.1" cy="84.7" r="2.2"/><circle cx="545.9" cy="69.2" r="2.2"/><circle cx="517.9" cy="102.3" r="2.2"/><circle cx="546.3" cy="90.5" r="2.2"/><circle cx="446.8" cy="164.1" r="2.2"/><circle cx="549.4" cy="99.1" r="2.2"/><circle cx="593.3" cy="90.7" r="2.2"/><circle cx="586.8" cy="80.8" r="2.2"/><circle cx="498.8" cy="97.2" r="2.2"/><circle cx="497.8" cy="100.1" r="2.2"/><circle cx="439.2" cy="165.5" r="2.2"/><circle cx="577.1" cy="88.9" r="2.2"/><circle cx="411.3" cy="199.6" r="2.2"/><circle cx="543.4" cy="85.9" r="2.2"/><circle cx="538.2" cy="105.0" r="2.2"/><circle cx="436.7" cy="166.4" r="2.2"/><circle cx="514.5" cy="89.8" r="2.2"/><circle cx="474.3" cy="106.9" r="2.2"/><circle cx="582.7" cy="99.2" r="2.2"/><circle cx="454.3" cy="116.8" r="2.2"/><circle cx="494.4" cy="100.4" r="2.2"/><circle cx="571.5" cy="70.9" r="2.2"/><circle cx="594.8" cy="91.7" r="2.2"/><circle cx="580.4" cy="82.7" r="2.2"/><circle cx="448.1" cy="143.5" r="2.2"/><circle cx="488.1" cy="117.9" r="2.2"/><circle cx="485.4" cy="108.6" r="2.2"/><circle cx="588.1" cy="91.0" r="2.2"/><circle cx="454.3" cy="132.4" r="2.2"/><circle cx="455.1" cy="140.3" r="2.2"/><circle cx="536.1" cy="86.0" r="2.2"/><circle cx="575.7" cy="90.0" r="2.2"/><circle cx="558.2" cy="87.7" r="2.2"/><circle cx="462.9" cy="113.4" r="2.2"/><circle cx="412.5" cy="191.5" r="2.2"/><circle cx="514.6" cy="93.5" r="2.2"/><circle cx="490.6" cy="108.9" r="2.2"/><circle cx="412.6" cy="191.9" r="2.2"/><circle cx="544.9" cy="103.3" r="2.2"/><circle cx="497.0" cy="107.7" r="2.2"/><circle cx="483.2" cy="120.6" r="2.2"/><circle cx="523.8" cy="97.4" r="2.2"/><circle cx="503.2" cy="106.6" r="2.2"/><circle cx="458.2" cy="136.8" r="2.2"/><circle cx="570.9" cy="84.1" r="2.2"/><circle cx="401.6" cy="193.9" r="2.2"/><circle cx="571.7" cy="109.1" r="2.2"/><circle cx="485.2" cy="109.2" r="2.2"/><circle cx="456.3" cy="148.2" r="2.2"/><circle cx="470.7" cy="121.7" r="2.2"/><circle cx="444.9" cy="133.6" r="2.2"/><circle cx="559.1" cy="94.1" r="2.2"/><circle cx="403.5" cy="201.4" r="2.2"/><circle cx="399.5" cy="196.3" r="2.2"/><circle cx="513.0" cy="100.8" r="2.2"/><circle cx="457.4" cy="139.8" r="2.2"/><circle cx="582.6" cy="89.8" r="2.2"/><circle cx="435.4" cy="124.7" r="2.2"/><circle cx="540.1" cy="88.3" r="2.2"/><circle cx="533.9" cy="76.8" r="2.2"/><circle cx="473.8" cy="124.3" r="2.2"/><circle cx="565.9" cy="88.7" r="2.2"/><circle cx="538.3" cy="100.6" r="2.2"/><circle cx="457.3" cy="133.9" r="2.2"/><circle cx="547.2" cy="104.2" r="2.2"/><circle cx="502.5" cy="109.9" r="2.2"/><circle cx="456.3" cy="129.7" r="2.2"/><circle cx="575.0" cy="93.2" r="2.2"/><circle cx="455.8" cy="134.5" r="2.2"/><circle cx="491.0" cy="88.3" r="2.2"/><circle cx="430.0" cy="167.7" r="2.2"/><circle cx="512.5" cy="93.4" r="2.2"/><circle cx="405.3" cy="199.2" r="2.2"/><circle cx="517.2" cy="103.2" r="2.2"/><circle cx="537.2" cy="101.7" r="2.2"/><circle cx="471.2" cy="103.7" r="2.2"/><circle cx="460.2" cy="137.3" r="2.2"/><circle cx="400.5" cy="185.7" r="2.2"/><circle cx="570.8" cy="85.7" r="2.2"/><circle cx="503.0" cy="114.6" r="2.2"/><circle cx="540.6" cy="107.5" r="2.2"/><circle cx="446.2" cy="138.0" r="2.2"/><circle cx="512.7" cy="102.8" r="2.2"/><circle cx="409.9" cy="198.8" r="2.2"/><circle cx="548.1" cy="86.9" r="2.2"/><circle cx="406.1" cy="197.5" r="2.2"/><circle cx="438.7" cy="165.3" r="2.2"/><circle cx="409.9" cy="195.6" r="2.2"/><circle cx="550.7" cy="93.3" r="2.2"/><circle cx="485.7" cy="99.9" r="2.2"/><circle cx="523.5" cy="108.8" r="2.2"/><circle cx="473.9" cy="125.6" r="2.2"/><circle cx="454.3" cy="132.1" r="2.2"/><circle cx="473.4" cy="118.6" r="2.2"/><circle cx="541.2" cy="100.0" r="2.2"/><circle cx="410.3" cy="195.4" r="2.2"/><circle cx="497.2" cy="108.8" r="2.2"/><circle cx="467.5" cy="97.8" r="2.2"/><circle cx="440.7" cy="132.1" r="2.2"/><circle cx="493.0" cy="113.6" r="2.2"/><circle cx="466.2" cy="124.7" r="2.2"/><circle cx="578.0" cy="92.8" r="2.2"/><circle cx="454.0" cy="132.4" r="2.2"/><circle cx="594.6" cy="87.4" r="2.2"/><circle cx="492.7" cy="98.0" r="2.2"/><circle cx="498.3" cy="90.0" r="2.2"/><circle cx="442.4" cy="164.9" r="2.2"/><circle cx="438.0" cy="149.9" r="2.2"/><circle cx="542.6" cy="93.3" r="2.2"/><circle cx="458.7" cy="124.6" r="2.2"/><circle cx="559.8" cy="97.4" r="2.2"/><circle cx="525.3" cy="89.9" r="2.2"/><circle cx="551.5" cy="95.5" r="2.2"/><circle cx="447.4" cy="165.8" r="2.2"/><circle cx="513.0" cy="105.8" r="2.2"/><circle cx="502.9" cy="107.9" r="2.2"/><circle cx="508.2" cy="101.0" r="2.2"/><circle cx="507.2" cy="101.4" r="2.2"/><circle cx="567.8" cy="89.8" r="2.2"/><circle cx="550.5" cy="96.9" r="2.2"/><circle cx="454.3" cy="134.7" r="2.2"/><circle cx="437.5" cy="159.6" r="2.2"/><circle cx="470.8" cy="102.6" r="2.2"/><circle cx="403.4" cy="197.1" r="2.2"/><circle cx="454.3" cy="131.3" r="2.2"/><circle cx="550.4" cy="91.1" r="2.2"/><circle cx="523.4" cy="96.5" r="2.2"/><circle cx="536.7" cy="87.7" r="2.2"/><circle cx="581.1" cy="75.4" r="2.2"/><circle cx="451.4" cy="143.2" r="2.2"/><circle cx="546.7" cy="94.7" r="2.2"/><circle cx="513.0" cy="97.0" r="2.2"/><circle cx="560.5" cy="86.4" r="2.2"/><circle cx="454.3" cy="120.3" r="2.2"/><circle cx="498.1" cy="107.3" r="2.2"/><circle cx="592.4" cy="84.9" r="2.2"/><circle cx="517.3" cy="113.7" r="2.2"/><circle cx="485.8" cy="117.5" r="2.2"/><circle cx="499.8" cy="113.4" r="2.2"/><circle cx="491.3" cy="109.9" r="2.2"/><circle cx="507.7" cy="108.3" r="2.2"/><circle cx="505.2" cy="100.7" r="2.2"/><circle cx="662.2" cy="76.3" r="2.2"/><circle cx="452.7" cy="126.5" r="2.2"/><circle cx="443.5" cy="166.8" r="2.2"/><circle cx="461.7" cy="130.5" r="2.2"/><circle cx="499.7" cy="87.4" r="2.2"/><circle cx="509.8" cy="109.6" r="2.2"/><circle cx="530.2" cy="98.6" r="2.2"/><circle cx="466.2" cy="120.6" r="2.2"/><circle cx="454.3" cy="114.1" r="2.2"/><circle cx="478.6" cy="108.9" r="2.2"/><circle cx="451.0" cy="160.1" r="2.2"/><circle cx="524.4" cy="102.3" r="2.2"/><circle cx="512.8" cy="115.0" r="2.2"/><circle cx="444.0" cy="135.5" r="2.2"/><circle cx="521.2" cy="104.9" r="2.2"/><circle cx="547.7" cy="85.4" r="2.2"/><circle cx="583.3" cy="96.2" r="2.2"/><circle cx="472.5" cy="124.2" r="2.2"/><circle cx="448.2" cy="135.8" r="2.2"/><circle cx="503.8" cy="88.4" r="2.2"/><circle cx="477.4" cy="106.6" r="2.2"/><circle cx="442.9" cy="169.7" r="2.2"/><circle cx="458.3" cy="128.0" r="2.2"/><circle cx="560.6" cy="91.9" r="2.2"/><circle cx="463.6" cy="102.5" r="2.2"/><circle cx="466.3" cy="118.9" r="2.2"/><circle cx="502.8" cy="102.6" r="2.2"/><circle cx="530.7" cy="69.4" r="2.2"/><circle cx="473.5" cy="122.6" r="2.2"/><circle cx="516.8" cy="97.7" r="2.2"/><circle cx="465.2" cy="123.7" r="2.2"/><circle cx="623.4" cy="90.7" r="2.2"/><circle cx="542.4" cy="99.7" r="2.2"/><circle cx="509.4" cy="109.6" r="2.2"/><circle cx="560.3" cy="88.9" r="2.2"/><circle cx="500.5" cy="108.5" r="2.2"/><circle cx="544.4" cy="90.2" r="2.2"/><circle cx="499.1" cy="114.5" r="2.2"/><circle cx="508.6" cy="87.5" r="2.2"/><circle cx="482.3" cy="109.6" r="2.2"/><circle cx="574.7" cy="73.8" r="2.2"/><circle cx="483.5" cy="107.4" r="2.2"/><circle cx="522.4" cy="98.9" r="2.2"/><circle cx="498.8" cy="109.8" r="2.2"/><circle cx="509.4" cy="91.9" r="2.2"/><circle cx="503.1" cy="105.9" r="2.2"/><circle cx="460.0" cy="123.8" r="2.2"/><circle cx="525.2" cy="94.5" r="2.2"/><circle cx="545.4" cy="66.7" r="2.2"/><circle cx="566.4" cy="95.6" r="2.2"/><circle cx="491.3" cy="88.6" r="2.2"/><circle cx="465.2" cy="123.7" r="2.2"/><circle cx="536.8" cy="69.9" r="2.2"/><circle cx="490.5" cy="109.9" r="2.2"/><circle cx="521.0" cy="102.1" r="2.2"/><circle cx="444.7" cy="143.0" r="2.2"/></g>
<g fill="rgba(255,128,0,0.74)"><circle cx="544.8" cy="155.7" r="2.2"/><circle cx="582.7" cy="157.6" r="2.2"/><circle cx="631.0" cy="124.3" r="2.2"/><circle cx="526.9" cy="104.2" r="2.2"/><circle cx="511.8" cy="108.8" r="2.2"/><circle cx="595.2" cy="153.4" r="2.2"/><circle cx="585.1" cy="162.4" r="2.2"/><circle cx="522.4" cy="156.3" r="2.2"/><circle cx="528.6" cy="150.0" r="2.2"/><circle cx="584.3" cy="122.8" r="2.2"/><circle cx="560.5" cy="160.9" r="2.2"/><circle cx="527.4" cy="155.6" r="2.2"/><circle cx="536.4" cy="102.8" r="2.2"/><circle cx="541.7" cy="74.6" r="2.2"/><circle cx="597.3" cy="80.1" r="2.2"/><circle cx="510.1" cy="158.8" r="2.2"/><circle cx="553.3" cy="79.1" r="2.2"/><circle cx="554.2" cy="167.4" r="2.2"/><circle cx="568.3" cy="130.0" r="2.2"/><circle cx="532.7" cy="124.6" r="2.2"/><circle cx="533.7" cy="168.5" r="2.2"/><circle cx="531.3" cy="152.9" r="2.2"/><circle cx="545.3" cy="86.0" r="2.2"/><circle cx="543.5" cy="105.2" r="2.2"/><circle cx="564.2" cy="154.9" r="2.2"/><circle cx="518.8" cy="135.8" r="2.2"/><circle cx="533.5" cy="153.0" r="2.2"/><circle cx="558.5" cy="107.0" r="2.2"/><circle cx="504.5" cy="175.9" r="2.2"/><circle cx="571.3" cy="156.4" r="2.2"/><circle cx="576.2" cy="88.9" r="2.2"/><circle cx="531.4" cy="119.2" r="2.2"/><circle cx="525.3" cy="114.3" r="2.2"/><circle cx="555.4" cy="132.0" r="2.2"/><circle cx="526.6" cy="139.6" r="2.2"/><circle cx="569.3" cy="155.9" r="2.2"/><circle cx="580.9" cy="67.2" r="2.2"/><circle cx="541.4" cy="151.9" r="2.2"/><circle cx="569.8" cy="86.8" r="2.2"/><circle cx="543.7" cy="157.0" r="2.2"/><circle cx="497.7" cy="139.6" r="2.2"/><circle cx="568.7" cy="100.5" r="2.2"/><circle cx="562.5" cy="165.9" r="2.2"/><circle cx="595.6" cy="141.9" r="2.2"/><circle cx="533.5" cy="99.6" r="2.2"/><circle cx="536.0" cy="158.2" r="2.2"/><circle cx="580.7" cy="169.9" r="2.2"/><circle cx="535.6" cy="140.1" r="2.2"/><circle cx="513.9" cy="119.5" r="2.2"/><circle cx="522.6" cy="165.4" r="2.2"/><circle cx="501.0" cy="182.2" r="2.2"/><circle cx="493.9" cy="136.2" r="2.2"/><circle cx="501.5" cy="163.9" r="2.2"/><circle cx="579.6" cy="138.2" r="2.2"/><circle cx="554.2" cy="143.6" r="2.2"/><circle cx="602.6" cy="135.4" r="2.2"/><circle cx="531.5" cy="103.5" r="2.2"/><circle cx="511.9" cy="115.9" r="2.2"/><circle cx="543.9" cy="98.6" r="2.2"/><circle cx="563.2" cy="126.6" r="2.2"/><circle cx="561.5" cy="99.7" r="2.2"/><circle cx="551.2" cy="174.7" r="2.2"/><circle cx="523.0" cy="97.6" r="2.2"/><circle cx="499.5" cy="128.8" r="2.2"/><circle cx="631.7" cy="150.9" r="2.2"/><circle cx="552.1" cy="137.7" r="2.2"/><circle cx="504.4" cy="117.7" r="2.2"/><circle cx="571.2" cy="163.4" r="2.2"/><circle cx="572.4" cy="80.9" r="2.2"/><circle cx="590.7" cy="142.7" r="2.2"/><circle cx="532.4" cy="141.1" r="2.2"/><circle cx="588.6" cy="124.1" r="2.2"/><circle cx="588.7" cy="96.6" r="2.2"/><circle cx="552.9" cy="105.2" r="2.2"/><circle cx="544.0" cy="165.8" r="2.2"/><circle cx="555.0" cy="133.7" r="2.2"/><circle cx="525.1" cy="112.3" r="2.2"/><circle cx="585.3" cy="164.6" r="2.2"/><circle cx="501.6" cy="176.6" r="2.2"/><circle cx="541.8" cy="88.5" r="2.2"/><circle cx="552.9" cy="125.8" r="2.2"/><circle cx="539.4" cy="144.3" r="2.2"/><circle cx="532.7" cy="149.5" r="2.2"/><circle cx="564.9" cy="139.9" r="2.2"/><circle cx="572.1" cy="119.9" r="2.2"/><circle cx="551.8" cy="89.6" r="2.2"/><circle cx="553.9" cy="76.3" r="2.2"/><circle cx="536.6" cy="142.2" r="2.2"/><circle cx="594.2" cy="151.8" r="2.2"/><circle cx="503.5" cy="146.5" r="2.2"/><circle cx="520.5" cy="138.4" r="2.2"/><circle cx="581.2" cy="93.1" r="2.2"/><circle cx="569.4" cy="116.6" r="2.2"/><circle cx="566.4" cy="125.2" r="2.2"/><circle cx="566.8" cy="92.4" r="2.2"/><circle cx="557.6" cy="102.4" r="2.2"/><circle cx="529.9" cy="104.6" r="2.2"/><circle cx="542.7" cy="94.7" r="2.2"/><circle cx="520.4" cy="136.8" r="2.2"/><circle cx="559.6" cy="116.1" r="2.2"/><circle cx="607.0" cy="96.6" r="2.2"/><circle cx="541.0" cy="143.2" r="2.2"/><circle cx="591.9" cy="125.8" r="2.2"/><circle cx="536.2" cy="153.5" r="2.2"/><circle cx="578.0" cy="133.1" r="2.2"/><circle cx="526.5" cy="158.3" r="2.2"/><circle cx="543.4" cy="167.3" r="2.2"/><circle cx="589.2" cy="90.4" r="2.2"/><circle cx="576.3" cy="99.7" r="2.2"/><circle cx="558.0" cy="154.1" r="2.2"/><circle cx="515.2" cy="151.4" r="2.2"/><circle cx="571.7" cy="135.8" r="2.2"/><circle cx="562.8" cy="97.1" r="2.2"/><circle cx="584.6" cy="89.7" r="2.2"/><circle cx="534.7" cy="105.1" r="2.2"/><circle cx="545.7" cy="144.2" r="2.2"/><circle cx="544.3" cy="99.1" r="2.2"/><circle cx="571.6" cy="151.4" r="2.2"/><circle cx="502.9" cy="92.8" r="2.2"/><circle cx="524.0" cy="116.7" r="2.2"/><circle cx="572.3" cy="95.1" r="2.2"/><circle cx="533.7" cy="126.7" r="2.2"/><circle cx="506.1" cy="167.2" r="2.2"/><circle cx="562.6" cy="125.3" r="2.2"/><circle cx="545.4" cy="159.1" r="2.2"/><circle cx="555.8" cy="163.4" r="2.2"/><circle cx="548.7" cy="150.1" r="2.2"/><circle cx="477.7" cy="154.8" r="2.2"/><circle cx="564.5" cy="148.7" r="2.2"/><circle cx="522.2" cy="142.7" r="2.2"/><circle cx="596.8" cy="97.5" r="2.2"/><circle cx="576.6" cy="83.0" r="2.2"/><circle cx="572.1" cy="153.5" r="2.2"/><circle cx="528.9" cy="92.8" r="2.2"/><circle cx="504.8" cy="126.9" r="2.2"/><circle cx="529.5" cy="144.2" r="2.2"/><circle cx="575.9" cy="150.2" r="2.2"/><circle cx="548.0" cy="112.1" r="2.2"/><circle cx="552.6" cy="165.8" r="2.2"/><circle cx="551.8" cy="140.7" r="2.2"/><circle cx="594.2" cy="149.8" r="2.2"/><circle cx="558.2" cy="167.5" r="2.2"/><circle cx="576.9" cy="92.3" r="2.2"/><circle cx="595.8" cy="90.7" r="2.2"/><circle cx="554.5" cy="73.4" r="2.2"/><circle cx="504.9" cy="103.5" r="2.2"/><circle cx="539.0" cy="183.5" r="2.2"/><circle cx="527.8" cy="151.9" r="2.2"/><circle cx="555.5" cy="161.4" r="2.2"/><circle cx="516.3" cy="116.7" r="2.2"/><circle cx="542.7" cy="160.6" r="2.2"/><circle cx="574.3" cy="160.4" r="2.2"/><circle cx="518.2" cy="100.5" r="2.2"/><circle cx="592.6" cy="138.0" r="2.2"/><circle cx="557.8" cy="96.5" r="2.2"/><circle cx="517.8" cy="103.2" r="2.2"/><circle cx="564.7" cy="131.8" r="2.2"/><circle cx="536.9" cy="162.9" r="2.2"/><circle cx="527.7" cy="105.8" r="2.2"/><circle cx="513.4" cy="142.5" r="2.2"/><circle cx="577.6" cy="66.7" r="2.2"/><circle cx="546.7" cy="88.1" r="2.2"/><circle cx="544.7" cy="88.7" r="2.2"/><circle cx="528.1" cy="101.6" r="2.2"/><circle cx="531.0" cy="150.2" r="2.2"/><circle cx="516.5" cy="106.7" r="2.2"/><circle cx="598.2" cy="89.6" r="2.2"/><circle cx="600.6" cy="94.5" r="2.2"/><circle cx="542.2" cy="145.8" r="2.2"/><circle cx="564.1" cy="148.8" r="2.2"/><circle cx="600.2" cy="83.9" r="2.2"/><circle cx="606.2" cy="75.4" r="2.2"/><circle cx="521.3" cy="157.0" r="2.2"/><circle cx="580.1" cy="132.3" r="2.2"/><circle cx="545.4" cy="153.1" r="2.2"/><circle cx="589.6" cy="94.2" r="2.2"/><circle cx="481.9" cy="185.4" r="2.2"/><circle cx="551.3" cy="150.7" r="2.2"/><circle cx="586.6" cy="154.2" r="2.2"/><circle cx="579.4" cy="131.5" r="2.2"/><circle cx="542.6" cy="162.6" r="2.2"/><circle cx="567.8" cy="153.1" r="2.2"/><circle cx="631.7" cy="129.8" r="2.2"/><circle cx="564.9" cy="82.8" r="2.2"/><circle cx="569.6" cy="79.8" r="2.2"/><circle cx="602.9" cy="143.7" r="2.2"/><circle cx="533.7" cy="100.9" r="2.2"/><circle cx="542.2" cy="166.2" r="2.2"/><circle cx="666.1" cy="152.8" r="2.2"/><circle cx="616.9" cy="122.5" r="2.2"/><circle cx="557.7" cy="93.9" r="2.2"/><circle cx="604.3" cy="71.4" r="2.2"/><circle cx="523.8" cy="114.2" r="2.2"/><circle cx="581.5" cy="159.9" r="2.2"/><circle cx="549.1" cy="141.0" r="2.2"/><circle cx="563.0" cy="93.2" r="2.2"/><circle cx="501.8" cy="147.0" r="2.2"/><circle cx="571.1" cy="129.3" r="2.2"/><circle cx="544.0" cy="138.7" r="2.2"/><circle cx="573.9" cy="120.0" r="2.2"/><circle cx="536.2" cy="141.4" r="2.2"/><circle cx="527.7" cy="111.2" r="2.2"/><circle cx="589.0" cy="96.2" r="2.2"/><circle cx="550.9" cy="146.9" r="2.2"/><circle cx="552.6" cy="141.5" r="2.2"/><circle cx="603.2" cy="82.9" r="2.2"/><circle cx="505.6" cy="154.3" r="2.2"/><circle cx="547.5" cy="95.0" r="2.2"/><circle cx="584.9" cy="118.1" r="2.2"/><circle cx="599.9" cy="85.8" r="2.2"/><circle cx="596.6" cy="150.9" r="2.2"/><circle cx="526.7" cy="126.0" r="2.2"/><circle cx="595.0" cy="99.4" r="2.2"/><circle cx="647.4" cy="82.1" r="2.2"/><circle cx="534.0" cy="117.1" r="2.2"/><circle cx="511.9" cy="155.8" r="2.2"/><circle cx="579.0" cy="151.9" r="2.2"/><circle cx="508.1" cy="138.4" r="2.2"/><circle cx="523.1" cy="162.3" r="2.2"/><circle cx="546.9" cy="178.9" r="2.2"/><circle cx="503.8" cy="145.4" r="2.2"/><circle cx="527.4" cy="96.0" r="2.2"/><circle cx="492.2" cy="148.6" r="2.2"/><circle cx="595.7" cy="100.2" r="2.2"/><circle cx="524.8" cy="170.3" r="2.2"/><circle cx="631.0" cy="116.9" r="2.2"/><circle cx="581.6" cy="121.2" r="2.2"/><circle cx="532.9" cy="111.1" r="2.2"/><circle cx="527.4" cy="140.1" r="2.2"/><circle cx="577.2" cy="87.3" r="2.2"/><circle cx="545.4" cy="149.3" r="2.2"/><circle cx="499.8" cy="108.0" r="2.2"/><circle cx="552.4" cy="147.5" r="2.2"/><circle cx="551.3" cy="101.7" r="2.2"/><circle cx="540.7" cy="142.9" r="2.2"/><circle cx="575.9" cy="153.7" r="2.2"/><circle cx="507.6" cy="132.9" r="2.2"/><circle cx="557.5" cy="153.2" r="2.2"/><circle cx="514.6" cy="163.1" r="2.2"/><circle cx="531.5" cy="166.2" r="2.2"/><circle cx="520.7" cy="168.6" r="2.2"/><circle cx="531.5" cy="141.1" r="2.2"/><circle cx="521.4" cy="124.7" r="2.2"/><circle cx="579.3" cy="157.8" r="2.2"/><circle cx="603.6" cy="74.7" r="2.2"/><circle cx="539.3" cy="107.3" r="2.2"/><circle cx="577.7" cy="93.3" r="2.2"/><circle cx="537.7" cy="106.7" r="2.2"/><circle cx="547.0" cy="147.4" r="2.2"/><circle cx="532.4" cy="99.1" r="2.2"/><circle cx="605.3" cy="93.8" r="2.2"/><circle cx="512.9" cy="139.1" r="2.2"/></g>
<polyline points="400.14,199.12 401.45,195.26 402.77,191.73 404.09,188.48 405.40,185.48 406.72,182.68 408.04,180.07 409.35,177.61 410.67,175.29 411.99,173.10 413.31,171.02 414.62,169.05 415.94,167.16 417.26,165.36 418.57,163.64 419.89,161.99 421.21,160.40 422.52,158.87 423.84,157.40 425.16,155.97 426.47,154.60 427.79,153.27 429.11,151.99 430.42,150.74 431.74,149.53 433.06,148.36 434.38,147.22 435.69,146.11 437.01,145.03 438.33,143.98 439.64,142.95 440.96,141.95 442.28,140.98 443.59,140.02 444.91,139.09 446.23,138.18 447.54,137.29 448.86,136.42 450.18,135.57 451.50,134.74 452.81,133.92 454.13,133.12 455.45,132.33 456.76,131.56 458.08,130.80 459.40,130.06 460.71,129.33 462.03,128.61 463.35,127.91 464.66,127.22 465.98,126.54 467.30,125.87 468.61,125.21 469.93,124.56 471.25,123.92 472.57,123.30 473.88,122.68 475.20,122.07 476.52,121.47 477.83,120.88 479.15,120.30 480.47,119.72 481.78,119.16 483.10,118.60 484.42,118.05 485.73,117.50 487.05,116.97 488.37,116.44 489.69,115.92 491.00,115.40 492.32,114.89 493.64,114.39 494.95,113.89 496.27,113.40 497.59,112.92 498.90,112.44 500.22,111.97 501.54,111.50 502.85,111.03 504.17,110.58 505.49,110.13 506.80,109.68 508.12,109.24 509.44,108.80 510.76,108.37 512.07,107.94 513.39,107.51 514.71,107.09 516.02,106.68 517.34,106.27 518.66,105.86 519.97,105.46 521.29,105.06 522.61,104.66 523.92,104.27 525.24,103.89 526.56,103.50 527.88,103.12 529.19,102.75 530.51,102.37 531.83,102.00 533.14,101.64 534.46,101.27 535.78,100.91 537.09,100.56 538.41,100.20 539.73,99.85 541.04,99.51 542.36,99.16 543.68,98.82 545.00,98.48 546.31,98.15 547.63,97.81 548.95,97.48 550.26,97.15 551.58,96.83 552.90,96.51 554.21,96.19 555.53,95.87 556.85,95.55 558.16,95.24 559.48,94.93 560.80,94.62 562.11,94.32 563.43,94.02 564.75,93.72 566.07,93.42 567.38,93.12 568.70,92.83 570.02,92.53 571.33,92.24 572.65,91.96 573.97,91.67 575.28,91.39 576.60,91.10 577.92,90.82 579.23,90.54 580.55,90.27 581.87,89.99 583.19,89.72 584.50,89.45 585.82,89.18 587.14,88.92 588.45,88.65 589.77,88.39 591.09,88.12 592.40,87.86 593.72,87.61 595.04,87.35 596.35,87.09 597.67,86.84 598.99,86.59 600.30,86.34 601.62,86.09 602.94,85.84 604.26,85.59 605.57,85.35 606.89,85.11 608.21,84.86 609.52,84.62 610.84,84.39 612.16,84.15 613.47,83.91 614.79,83.68 616.11,83.44 617.42,83.21 618.74,82.98 620.06,82.75 621.38,82.52 622.69,82.30 624.01,82.07 625.33,81.85 626.64,81.63 627.96,81.40 629.28,81.18 630.59,80.96 631.91,80.75 633.23,80.53 634.54,80.31 635.86,80.10 637.18,79.88 638.49,79.67 639.81,79.46 641.13,79.25 642.45,79.04 643.76,78.83 645.08,78.63 646.40,78.42 647.71,78.22 649.03,78.01 650.35,77.81 651.66,77.61 652.98,77.41 654.30,77.21 655.61,77.01 656.93,76.81 658.25,76.61 659.57,76.42 660.88,76.22 662.20,76.03" fill="none" stroke="#000" stroke-width="1.7" stroke-linejoin="round"/>
<path d="M387.0,55.0 V211.5 M387.0,211.5 H682.5600000000001" stroke="#333" stroke-width="1.1" fill="none"/>
<path d="M387.00,211.5 v3.5 M419.84,211.5 v3.5 M452.68,211.5 v3.5 M485.52,211.5 v3.5 M518.36,211.5 v3.5 M551.20,211.5 v3.5 M584.04,211.5 v3.5 M616.88,211.5 v3.5 M649.72,211.5 v3.5 M682.56,211.5 v3.5 M403.42,211.5 v1.7 M436.26,211.5 v1.7 M469.10,211.5 v1.7 M501.94,211.5 v1.7 M534.78,211.5 v1.7 M567.62,211.5 v1.7 M600.46,211.5 v1.7 M633.30,211.5 v1.7 M666.14,211.5 v1.7 M387.0,211.50 h-3.5 M387.0,201.72 h-1.7 M387.0,191.94 h-3.5 M387.0,182.16 h-1.7 M387.0,172.38 h-3.5 M387.0,162.59 h-1.7 M387.0,152.81 h-3.5 M387.0,143.03 h-1.7 M387.0,133.25 h-3.5 M387.0,123.47 h-1.7 M387.0,113.69 h-3.5 M387.0,103.91 h-1.7 M387.0,94.12 h-3.5 M387.0,84.34 h-1.7 M387.0,74.56 h-3.5 M387.0,64.78 h-1.7 M387.0,55.00 h-3.5" stroke="#333" stroke-width="1.0" fill="none"/>
<text x="387.00" y="225.6" font-size="10.0" text-anchor="middle">0</text>
<text x="419.84" y="225.6" font-size="10.0" text-anchor="middle">1</text>
<text x="452.68" y="225.6" font-size="10.0" text-anchor="middle">2</text>
<text x="485.52" y="225.6" font-size="10.0" text-anchor="middle">3</text>
<text x="518.36" y="225.6" font-size="10.0" text-anchor="middle">4</text>
<text x="551.20" y="225.6" font-size="10.0" text-anchor="middle">5</text>
<text x="584.04" y="225.6" font-size="10.0" text-anchor="middle">6</text>
<text x="616.88" y="225.6" font-size="10.0" text-anchor="middle">7</text>
<text x="649.72" y="225.6" font-size="10.0" text-anchor="middle">8</text>
<text x="682.56" y="225.6" font-size="10.0" text-anchor="middle">9</text>
<text x="381.20" y="215.20" font-size="10.0" text-anchor="end">0.0</text>
<text x="381.20" y="195.64" font-size="10.0" text-anchor="end">2.5</text>
<text x="381.20" y="176.07" font-size="10.0" text-anchor="end">5.0</text>
<text x="381.20" y="156.51" font-size="10.0" text-anchor="end">7.5</text>
<text x="381.20" y="136.95" font-size="10.0" text-anchor="end">10.0</text>
<text x="381.20" y="117.39" font-size="10.0" text-anchor="end">12.5</text>
<text x="381.20" y="97.83" font-size="10.0" text-anchor="end">15.0</text>
<text x="381.20" y="78.26" font-size="10.0" text-anchor="end">17.5</text>
<text x="381.20" y="58.70" font-size="10.0" text-anchor="end">20.0</text>
<text class="s" transform="translate(534.8,247.8) scale(1,0.91)" font-size="18" text-anchor="middle">LAI</text>
<text class="s" transform="translate(356.0,133.2) rotate(-90) scale(1,1.07)" x="0" y="0" font-size="17.6" text-anchor="middle">CI_green</text>
<text class="s" x="361.5" y="34.7" font-size="18" font-weight="bold">(b)</text>
<g fill="rgba(0,128,0,0.74)"><circle cx="241.6" cy="325.3" r="2.2"/><circle cx="145.3" cy="357.8" r="2.2"/><circle cx="221.3" cy="332.2" r="2.2"/><circle cx="155.7" cy="347.0" r="2.2"/><circle cx="215.4" cy="332.3" r="2.2"/><circle cx="106.2" cy="366.6" r="2.2"/><circle cx="117.9" cy="347.6" r="2.2"/><circle cx="166.5" cy="348.9" r="2.2"/><circle cx="192.4" cy="328.2" r="2.2"/><circle cx="126.9" cy="361.0" r="2.2"/><circle cx="214.5" cy="308.0" r="2.2"/><circle cx="108.6" cy="382.9" r="2.2"/><circle cx="229.2" cy="326.6" r="2.2"/><circle cx="127.0" cy="366.5" r="2.2"/><circle cx="219.5" cy="318.7" r="2.2"/><circle cx="199.6" cy="323.2" r="2.2"/><circle cx="97.5" cy="375.1" r="2.2"/><circle cx="165.6" cy="330.9" r="2.2"/><circle cx="214.1" cy="334.4" r="2.2"/><circle cx="91.9" cy="403.7" r="2.2"/><circle cx="236.8" cy="342.2" r="2.2"/><circle cx="201.6" cy="326.4" r="2.2"/><circle cx="126.7" cy="336.8" r="2.2"/><circle cx="195.9" cy="343.6" r="2.2"/><circle cx="162.9" cy="353.7" r="2.2"/><circle cx="211.7" cy="328.5" r="2.2"/><circle cx="192.7" cy="301.2" r="2.2"/><circle cx="63.2" cy="436.5" r="2.2"/><circle cx="219.4" cy="330.5" r="2.2"/><circle cx="117.1" cy="337.0" r="2.2"/><circle cx="213.3" cy="342.0" r="2.2"/><circle cx="97.0" cy="404.1" r="2.2"/><circle cx="154.3" cy="367.8" r="2.2"/><circle cx="204.4" cy="347.7" r="2.2"/><circle cx="167.8" cy="341.3" r="2.2"/><circle cx="144.8" cy="351.7" r="2.2"/><circle cx="57.0" cy="438.2" r="2.2"/><circle cx="107.8" cy="370.8" r="2.2"/><circle cx="56.9" cy="432.9" r="2.2"/><circle cx="115.2" cy="375.3" r="2.2"/><circle cx="203.9" cy="332.5" r="2.2"/><circle cx="132.1" cy="348.5" r="2.2"/><circle cx="193.6" cy="327.6" r="2.2"/><circle cx="184.2" cy="300.6" r="2.2"/><circle cx="162.7" cy="361.2" r="2.2"/><circle cx="150.5" cy="349.5" r="2.2"/><circle cx="160.7" cy="328.1" r="2.2"/><circle cx="56.3" cy="430.4" r="2.2"/><circle cx="171.4" cy="344.6" r="2.2"/><circle cx="151.3" cy="339.2" r="2.2"/><circle cx="98.1" cy="377.3" r="2.2"/><circle cx="217.8" cy="340.6" r="2.2"/><circle cx="83.5" cy="404.9" r="2.2"/><circle cx="100.9" cy="403.2" r="2.2"/><circle cx="236.1" cy="333.3" r="2.2"/><circle cx="190.2" cy="326.4" r="2.2"/><circle cx="63.4" cy="435.0" r="2.2"/><circle cx="191.8" cy="330.4" r="2.2"/><circle cx="161.2" cy="351.8" r="2.2"/><circle cx="99.8" cy="380.9" r="2.2"/><circle cx="144.0" cy="351.6" r="2.2"/><circle cx="156.6" cy="347.8" r="2.2"/><circle cx="191.8" cy="344.4" r="2.2"/><circle cx="160.2" cy="346.3" r="2.2"/><circle cx="130.6" cy="362.0" r="2.2"/><circle cx="152.3" cy="335.3" r="2.2"/><circle cx="140.5" cy="348.8" r="2.2"/><circle cx="156.5" cy="359.8" r="2.2"/><circle cx="245.9" cy="327.3" r="2.2"/><circle cx="163.4" cy="344.9" r="2.2"/><circle cx="265.5" cy="343.9" r="2.2"/><circle cx="150.7" cy="351.0" r="2.2"/><circle cx="107.8" cy="376.0" r="2.2"/><circle cx="87.0" cy="403.4" r="2.2"/><circle cx="216.6" cy="302.6" r="2.2"/><circle cx="139.2" cy="337.1" r="2.2"/><circle cx="61.2" cy="434.3" r="2.2"/><circle cx="194.9" cy="332.0" r="2.2"/><circle cx="153.3" cy="357.7" r="2.2"/><circle cx="116.4" cy="352.0" r="2.2"/><circle cx="137.5" cy="367.7" r="2.2"/><circle cx="226.3" cy="300.5" r="2.2"/><circle cx="91.0" cy="397.6" r="2.2"/><circle cx="107.8" cy="364.7" r="2.2"/><circle cx="127.4" cy="370.8" r="2.2"/><circle cx="238.3" cy="336.5" r="2.2"/><circle cx="157.3" cy="323.7" r="2.2"/><circle cx="225.6" cy="329.0" r="2.2"/><circle cx="175.4" cy="335.9" r="2.2"/><circle cx="60.2" cy="437.6" r="2.2"/><circle cx="206.9" cy="343.6" r="2.2"/><circle cx="87.2" cy="398.9" r="2.2"/><circle cx="107.8" cy="354.8" r="2.2"/><circle cx="242.7" cy="316.6" r="2.2"/><circle cx="91.9" cy="399.8" r="2.2"/><circle cx="136.7" cy="365.4" r="2.2"/><circle cx="147.4" cy="309.6" r="2.2"/><circle cx="170.3" cy="338.1" r="2.2"/><circle cx="153.2" cy="321.8" r="2.2"/><circle cx="66.0" cy="425.9" r="2.2"/><circle cx="196.1" cy="334.7" r="2.2"/><circle cx="177.0" cy="354.2" r="2.2"/><circle cx="146.5" cy="357.1" r="2.2"/><circle cx="160.7" cy="342.1" r="2.2"/><circle cx="111.7" cy="383.3" r="2.2"/><circle cx="248.1" cy="330.8" r="2.2"/><circle cx="54.0" cy="424.7" r="2.2"/><circle cx="63.8" cy="430.7" r="2.2"/><circle cx="227.0" cy="332.6" r="2.2"/><circle cx="178.7" cy="334.7" r="2.2"/><circle cx="103.0" cy="373.5" r="2.2"/><circle cx="169.4" cy="342.3" r="2.2"/><circle cx="174.5" cy="344.7" r="2.2"/><circle cx="130.9" cy="345.2" r="2.2"/><circle cx="176.9" cy="337.3" r="2.2"/><circle cx="145.1" cy="345.3" r="2.2"/><circle cx="214.0" cy="326.9" r="2.2"/><circle cx="166.5" cy="336.7" r="2.2"/><circle cx="166.5" cy="342.1" r="2.2"/><circle cx="228.5" cy="337.4" r="2.2"/><circle cx="134.2" cy="372.2" r="2.2"/><circle cx="126.0" cy="368.5" r="2.2"/><circle cx="113.7" cy="384.4" r="2.2"/><circle cx="91.5" cy="392.3" r="2.2"/><circle cx="127.8" cy="345.0" r="2.2"/><circle cx="122.8" cy="363.8" r="2.2"/><circle cx="121.0" cy="331.3" r="2.2"/><circle cx="112.2" cy="366.5" r="2.2"/><circle cx="193.4" cy="327.1" r="2.2"/><circle cx="197.1" cy="326.2" r="2.2"/><circle cx="169.3" cy="304.0" r="2.2"/><circle cx="213.3" cy="347.5" r="2.2"/><circle cx="94.2" cy="370.2" r="2.2"/><circle cx="225.0" cy="306.4" r="2.2"/><circle cx="63.4" cy="431.0" r="2.2"/><circle cx="107.8" cy="374.8" r="2.2"/><circle cx="180.1" cy="338.9" r="2.2"/><circle cx="113.6" cy="373.3" r="2.2"/><circle cx="124.4" cy="368.4" r="2.2"/><circle cx="56.6" cy="436.2" r="2.2"/><circle cx="162.7" cy="343.0" r="2.2"/><circle cx="162.7" cy="358.3" r="2.2"/><circle cx="204.0" cy="340.5" r="2.2"/><circle cx="204.6" cy="332.7" r="2.2"/><circle cx="104.9" cy="386.0" r="2.2"/><circle cx="240.3" cy="318.3" r="2.2"/><circle cx="197.8" cy="359.2" r="2.2"/><circle cx="131.4" cy="359.4" r="2.2"/><circle cx="88.9" cy="360.3" r="2.2"/><circle cx="248.3" cy="336.8" r="2.2"/><circle cx="205.0" cy="338.6" r="2.2"/><circle cx="183.7" cy="340.9" r="2.2"/><circle cx="106.5" cy="369.2" r="2.2"/><circle cx="121.9" cy="371.7" r="2.2"/><circle cx="95.3" cy="369.5" r="2.2"/><circle cx="191.7" cy="350.4" r="2.2"/><circle cx="59.6" cy="433.4" r="2.2"/><circle cx="96.4" cy="406.7" r="2.2"/><circle cx="172.9" cy="339.4" r="2.2"/><circle cx="186.7" cy="338.2" r="2.2"/><circle cx="107.8" cy="376.4" r="2.2"/><circle cx="206.3" cy="334.6" r="2.2"/><circle cx="200.2" cy="337.1" r="2.2"/><circle cx="166.2" cy="344.7" r="2.2"/><circle cx="158.5" cy="314.8" r="2.2"/><circle cx="231.5" cy="337.1" r="2.2"/><circle cx="113.5" cy="365.7" r="2.2"/><circle cx="95.9" cy="402.4" r="2.2"/><circle cx="155.6" cy="340.5" r="2.2"/><circle cx="233.9" cy="323.4" r="2.2"/><circle cx="135.2" cy="343.7" r="2.2"/><circle cx="146.2" cy="335.6" r="2.2"/><circle cx="153.7" cy="347.6" r="2.2"/><circle cx="114.9" cy="331.8" r="2.2"/><circle cx="179.6" cy="347.5" r="2.2"/><circle cx="184.3" cy="330.7" r="2.2"/><circle cx="190.7" cy="334.3" r="2.2"/><circle cx="198.9" cy="298.3" r="2.2"/><circle cx="81.6" cy="406.2" r="2.2"/><circle cx="186.5" cy="354.0" r="2.2"/><circle cx="107.8" cy="351.2" r="2.2"/><circle cx="178.8" cy="328.3" r="2.2"/><circle cx="104.4" cy="374.1" r="2.2"/><circle cx="125.1" cy="351.6" r="2.2"/><circle cx="144.1" cy="350.2" r="2.2"/><circle cx="202.9" cy="343.4" r="2.2"/><circle cx="95.8" cy="399.6" r="2.2"/><circle cx="92.7" cy="402.9" r="2.2"/><circle cx="90.2" cy="403.7" r="2.2"/><circle cx="66.1" cy="426.5" r="2.2"/><circle cx="116.9" cy="370.7" r="2.2"/><circle cx="156.4" cy="350.6" r="2.2"/><circle cx="151.4" cy="336.6" r="2.2"/><circle cx="139.3" cy="361.5" r="2.2"/><circle cx="110.8" cy="379.1" r="2.2"/><circle cx="119.7" cy="368.1" r="2.2"/><circle cx="111.8" cy="371.2" r="2.2"/><circle cx="194.7" cy="343.9" r="2.2"/><circle cx="55.9" cy="432.6" r="2.2"/><circle cx="124.7" cy="340.1" r="2.2"/><circle cx="152.6" cy="359.2" r="2.2"/><circle cx="197.1" cy="346.7" r="2.2"/><circle cx="89.4" cy="363.0" r="2.2"/><circle cx="107.4" cy="364.9" r="2.2"/><circle cx="119.2" cy="359.3" r="2.2"/><circle cx="151.6" cy="349.1" r="2.2"/><circle cx="156.7" cy="348.8" r="2.2"/><circle cx="189.6" cy="324.0" r="2.2"/><circle cx="187.4" cy="311.1" r="2.2"/><circle cx="149.4" cy="318.3" r="2.2"/><circle cx="200.7" cy="350.3" r="2.2"/><circle cx="138.7" cy="349.8" r="2.2"/><circle cx="249.8" cy="340.9" r="2.2"/><circle cx="213.8" cy="330.3" r="2.2"/><circle cx="104.5" cy="398.0" r="2.2"/><circle cx="219.9" cy="340.0" r="2.2"/><circle cx="166.6" cy="337.2" r="2.2"/><circle cx="246.8" cy="335.3" r="2.2"/><circle cx="117.1" cy="360.9" r="2.2"/><circle cx="151.8" cy="325.2" r="2.2"/><circle cx="190.7" cy="345.8" r="2.2"/><circle cx="101.7" cy="377.0" r="2.2"/><circle cx="147.2" cy="349.7" r="2.2"/><circle cx="234.6" cy="313.3" r="2.2"/><circle cx="174.7" cy="348.6" r="2.2"/><circle cx="170.2" cy="336.4" r="2.2"/><circle cx="156.0" cy="353.2" r="2.2"/><circle cx="212.6" cy="337.3" r="2.2"/><circle cx="58.8" cy="435.6" r="2.2"/><circle cx="98.4" cy="374.0" r="2.2"/><circle cx="53.0" cy="431.9" r="2.2"/><circle cx="177.9" cy="345.3" r="2.2"/><circle cx="162.1" cy="323.1" r="2.2"/><circle cx="190.3" cy="301.9" r="2.2"/><circle cx="156.3" cy="343.2" r="2.2"/><circle cx="94.1" cy="382.2" r="2.2"/><circle cx="206.7" cy="313.4" r="2.2"/><circle cx="149.0" cy="350.6" r="2.2"/><circle cx="101.6" cy="386.0" r="2.2"/><circle cx="124.2" cy="364.8" r="2.2"/><circle cx="122.0" cy="362.5" r="2.2"/><circle cx="152.3" cy="352.7" r="2.2"/><circle cx="107.5" cy="373.6" r="2.2"/><circle cx="147.9" cy="339.1" r="2.2"/><circle cx="225.0" cy="329.7" r="2.2"/><circle cx="55.1" cy="428.9" r="2.2"/><circle cx="92.2" cy="402.7" r="2.2"/><circle cx="95.2" cy="409.1" r="2.2"/><circle cx="127.9" cy="319.0" r="2.2"/><circle cx="198.4" cy="348.7" r="2.2"/><circle cx="107.8" cy="379.5" r="2.2"/><circle cx="225.2" cy="359.0" r="2.2"/><circle cx="154.0" cy="351.1" r="2.2"/><circle cx="134.7" cy="354.7" r="2.2"/><circle cx="197.9" cy="330.7" r="2.2"/><circle cx="55.8" cy="432.7" r="2.2"/><circle cx="144.5" cy="326.7" r="2.2"/><circle cx="149.6" cy="335.5" r="2.2"/><circle cx="64.5" cy="425.9" r="2.2"/><circle cx="229.5" cy="325.4" r="2.2"/><circle cx="201.2" cy="324.3" r="2.2"/><circle cx="194.1" cy="354.2" r="2.2"/><circle cx="241.3" cy="319.3" r="2.2"/><circle cx="150.2" cy="343.7" r="2.2"/><circle cx="199.4" cy="301.8" r="2.2"/><circle cx="168.1" cy="332.1" r="2.2"/><circle cx="166.3" cy="361.5" r="2.2"/><circle cx="94.4" cy="377.4" r="2.2"/><circle cx="109.8" cy="370.6" r="2.2"/><circle cx="158.7" cy="340.9" r="2.2"/><circle cx="135.8" cy="350.0" r="2.2"/><circle cx="168.0" cy="327.0" r="2.2"/><circle cx="236.2" cy="346.2" r="2.2"/><circle cx="165.1" cy="354.3" r="2.2"/><circle cx="130.4" cy="329.5" r="2.2"/><circle cx="244.9" cy="310.4" r="2.2"/><circle cx="115.2" cy="352.1" r="2.2"/><circle cx="213.8" cy="333.5" r="2.2"/><circle cx="118.7" cy="366.5" r="2.2"/><circle cx="99.7" cy="379.3" r="2.2"/><circle cx="232.6" cy="320.6" r="2.2"/><circle cx="151.4" cy="341.5" r="2.2"/><circle cx="91.7" cy="389.1" r="2.2"/><circle cx="64.8" cy="436.0" r="2.2"/><circle cx="162.9" cy="329.4" r="2.2"/><circle cx="212.2" cy="323.9" r="2.2"/><circle cx="114.6" cy="357.8" r="2.2"/><circle cx="110.9" cy="387.2" r="2.2"/><circle cx="196.9" cy="324.6" r="2.2"/><circle cx="157.3" cy="359.6" r="2.2"/><circle cx="168.0" cy="353.4" r="2.2"/><circle cx="310.1" cy="321.7" r="2.2"/><circle cx="276.9" cy="337.3" r="2.2"/><circle cx="100.3" cy="401.6" r="2.2"/><circle cx="237.0" cy="348.0" r="2.2"/><circle cx="109.3" cy="376.2" r="2.2"/><circle cx="137.3" cy="345.1" r="2.2"/><circle cx="124.3" cy="338.5" r="2.2"/><circle cx="181.7" cy="326.3" r="2.2"/><circle cx="135.8" cy="350.0" r="2.2"/><circle cx="204.2" cy="335.5" r="2.2"/><circle cx="98.2" cy="385.0" r="2.2"/><circle cx="166.0" cy="331.8" r="2.2"/><circle cx="119.7" cy="362.5" r="2.2"/><circle cx="161.7" cy="341.7" r="2.2"/><circle cx="144.8" cy="322.4" r="2.2"/><circle cx="224.4" cy="324.5" r="2.2"/><circle cx="170.8" cy="360.3" r="2.2"/><circle cx="127.3" cy="368.9" r="2.2"/><circle cx="172.7" cy="342.9" r="2.2"/><circle cx="152.6" cy="363.0" r="2.2"/><circle cx="177.3" cy="338.6" r="2.2"/><circle cx="144.7" cy="346.3" r="2.2"/><circle cx="170.7" cy="345.8" r="2.2"/><circle cx="92.3" cy="364.4" r="2.2"/><circle cx="199.8" cy="331.3" r="2.2"/><circle cx="230.6" cy="331.6" r="2.2"/><circle cx="107.8" cy="359.6" r="2.2"/><circle cx="182.9" cy="335.4" r="2.2"/><circle cx="137.8" cy="382.1" r="2.2"/><circle cx="224.3" cy="326.7" r="2.2"/><circle cx="144.5" cy="321.9" r="2.2"/><circle cx="122.6" cy="361.4" r="2.2"/><circle cx="175.9" cy="340.4" r="2.2"/><circle cx="241.6" cy="335.4" r="2.2"/><circle cx="141.6" cy="362.3" r="2.2"/><circle cx="109.8" cy="398.6" r="2.2"/><circle cx="138.9" cy="349.1" r="2.2"/><circle cx="315.7" cy="319.7" r="2.2"/><circle cx="163.3" cy="353.7" r="2.2"/><circle cx="119.8" cy="360.2" r="2.2"/><circle cx="135.2" cy="361.5" r="2.2"/><circle cx="229.2" cy="333.0" r="2.2"/><circle cx="228.2" cy="310.6" r="2.2"/><circle cx="151.6" cy="348.1" r="2.2"/><circle cx="118.7" cy="366.6" r="2.2"/><circle cx="144.7" cy="340.2" r="2.2"/><circle cx="226.4" cy="339.1" r="2.2"/><circle cx="137.0" cy="347.1" r="2.2"/><circle cx="59.1" cy="435.0" r="2.2"/><circle cx="61.2" cy="430.2" r="2.2"/><circle cx="240.3" cy="321.2" r="2.2"/></g>
<g fill="rgba(255,128,0,0.74)"><circle cx="177.3" cy="358.7" r="2.2"/><circle cx="204.8" cy="346.3" r="2.2"/><circle cx="168.1" cy="409.2" r="2.2"/><circle cx="253.4" cy="330.5" r="2.2"/><circle cx="198.9" cy="392.8" r="2.2"/><circle cx="200.4" cy="430.6" r="2.2"/><circle cx="257.8" cy="316.6" r="2.2"/><circle cx="221.8" cy="369.9" r="2.2"/><circle cx="208.5" cy="374.3" r="2.2"/><circle cx="284.5" cy="363.0" r="2.2"/><circle cx="235.1" cy="359.5" r="2.2"/><circle cx="205.6" cy="379.0" r="2.2"/><circle cx="197.8" cy="343.9" r="2.2"/><circle cx="238.8" cy="410.8" r="2.2"/><circle cx="231.1" cy="312.4" r="2.2"/><circle cx="194.5" cy="385.6" r="2.2"/><circle cx="175.9" cy="401.1" r="2.2"/><circle cx="248.5" cy="343.6" r="2.2"/><circle cx="183.0" cy="386.7" r="2.2"/><circle cx="163.6" cy="404.2" r="2.2"/><circle cx="186.4" cy="355.6" r="2.2"/><circle cx="184.5" cy="393.9" r="2.2"/><circle cx="240.1" cy="398.5" r="2.2"/><circle cx="256.4" cy="386.0" r="2.2"/><circle cx="243.1" cy="338.6" r="2.2"/><circle cx="174.2" cy="415.7" r="2.2"/><circle cx="197.2" cy="401.9" r="2.2"/><circle cx="227.8" cy="405.8" r="2.2"/><circle cx="205.9" cy="390.6" r="2.2"/><circle cx="224.7" cy="409.4" r="2.2"/><circle cx="213.1" cy="360.0" r="2.2"/><circle cx="172.3" cy="376.9" r="2.2"/><circle cx="153.0" cy="373.1" r="2.2"/><circle cx="259.7" cy="320.4" r="2.2"/><circle cx="176.6" cy="408.3" r="2.2"/><circle cx="198.3" cy="400.3" r="2.2"/><circle cx="180.1" cy="381.4" r="2.2"/><circle cx="217.7" cy="399.4" r="2.2"/><circle cx="231.5" cy="373.5" r="2.2"/><circle cx="211.0" cy="397.4" r="2.2"/><circle cx="209.0" cy="407.1" r="2.2"/><circle cx="256.7" cy="327.7" r="2.2"/><circle cx="222.8" cy="400.6" r="2.2"/><circle cx="230.4" cy="337.0" r="2.2"/><circle cx="154.5" cy="429.4" r="2.2"/><circle cx="247.7" cy="395.7" r="2.2"/><circle cx="194.2" cy="385.3" r="2.2"/><circle cx="199.2" cy="386.7" r="2.2"/><circle cx="182.4" cy="338.1" r="2.2"/><circle cx="207.7" cy="414.2" r="2.2"/><circle cx="249.3" cy="335.2" r="2.2"/><circle cx="195.7" cy="412.8" r="2.2"/><circle cx="165.3" cy="353.7" r="2.2"/><circle cx="214.0" cy="406.5" r="2.2"/><circle cx="131.2" cy="399.4" r="2.2"/><circle cx="166.9" cy="384.8" r="2.2"/><circle cx="183.4" cy="349.4" r="2.2"/><circle cx="191.2" cy="351.3" r="2.2"/><circle cx="247.7" cy="393.2" r="2.2"/><circle cx="155.3" cy="390.2" r="2.2"/><circle cx="232.9" cy="371.7" r="2.2"/><circle cx="204.4" cy="389.9" r="2.2"/><circle cx="182.1" cy="393.6" r="2.2"/><circle cx="216.0" cy="412.4" r="2.2"/><circle cx="197.5" cy="380.3" r="2.2"/><circle cx="218.0" cy="392.0" r="2.2"/><circle cx="189.1" cy="381.9" r="2.2"/><circle cx="258.8" cy="338.1" r="2.2"/><circle cx="206.8" cy="324.6" r="2.2"/><circle cx="180.2" cy="370.0" r="2.2"/><circle cx="211.1" cy="346.9" r="2.2"/><circle cx="187.2" cy="345.7" r="2.2"/><circle cx="216.7" cy="365.8" r="2.2"/><circle cx="237.8" cy="361.4" r="2.2"/><circle cx="225.9" cy="326.0" r="2.2"/><circle cx="224.8" cy="401.1" r="2.2"/><circle cx="147.4" cy="377.3" r="2.2"/><circle cx="189.7" cy="397.8" r="2.2"/><circle cx="233.1" cy="379.5" r="2.2"/><circle cx="206.4" cy="364.9" r="2.2"/><circle cx="245.4" cy="364.9" r="2.2"/><circle cx="238.4" cy="355.8" r="2.2"/><circle cx="155.0" cy="410.2" r="2.2"/><circle cx="159.1" cy="398.8" r="2.2"/><circle cx="175.7" cy="385.1" r="2.2"/><circle cx="196.1" cy="408.6" r="2.2"/><circle cx="189.7" cy="383.5" r="2.2"/><circle cx="206.4" cy="349.7" r="2.2"/><circle cx="187.0" cy="397.1" r="2.2"/><circle cx="211.7" cy="414.3" r="2.2"/><circle cx="284.5" cy="354.3" r="2.2"/><circle cx="249.1" cy="383.9" r="2.2"/><circle cx="180.0" cy="403.5" r="2.2"/><circle cx="244.2" cy="384.9" r="2.2"/><circle cx="190.1" cy="384.4" r="2.2"/><circle cx="242.1" cy="362.8" r="2.2"/><circle cx="253.7" cy="328.6" r="2.2"/><circle cx="216.3" cy="341.7" r="2.2"/><circle cx="171.7" cy="345.6" r="2.2"/><circle cx="285.2" cy="369.5" r="2.2"/><circle cx="248.7" cy="397.5" r="2.2"/><circle cx="157.9" cy="362.4" r="2.2"/><circle cx="221.3" cy="397.3" r="2.2"/><circle cx="158.4" cy="348.8" r="2.2"/><circle cx="186.2" cy="393.1" r="2.2"/><circle cx="254.1" cy="338.8" r="2.2"/><circle cx="234.7" cy="337.6" r="2.2"/><circle cx="202.2" cy="393.7" r="2.2"/><circle cx="238.6" cy="408.1" r="2.2"/><circle cx="270.4" cy="360.9" r="2.2"/><circle cx="197.4" cy="343.4" r="2.2"/><circle cx="204.8" cy="394.5" r="2.2"/><circle cx="189.9" cy="347.5" r="2.2"/><circle cx="250.1" cy="394.5" r="2.2"/><circle cx="170.0" cy="351.7" r="2.2"/><circle cx="232.5" cy="395.7" r="2.2"/><circle cx="173.9" cy="378.0" r="2.2"/><circle cx="161.1" cy="377.0" r="2.2"/><circle cx="186.2" cy="363.6" r="2.2"/><circle cx="216.5" cy="338.0" r="2.2"/><circle cx="225.8" cy="339.7" r="2.2"/><circle cx="176.1" cy="411.9" r="2.2"/><circle cx="167.4" cy="364.0" r="2.2"/><circle cx="197.0" cy="349.8" r="2.2"/><circle cx="192.8" cy="351.8" r="2.2"/><circle cx="220.3" cy="337.2" r="2.2"/><circle cx="196.2" cy="406.2" r="2.2"/><circle cx="192.5" cy="428.2" r="2.2"/><circle cx="242.5" cy="340.5" r="2.2"/><circle cx="231.2" cy="337.9" r="2.2"/><circle cx="232.8" cy="402.7" r="2.2"/><circle cx="209.3" cy="409.5" r="2.2"/><circle cx="135.4" cy="432.5" r="2.2"/><circle cx="180.9" cy="400.3" r="2.2"/><circle cx="195.3" cy="333.8" r="2.2"/><circle cx="211.2" cy="338.7" r="2.2"/><circle cx="319.6" cy="392.3" r="2.2"/><circle cx="234.2" cy="417.1" r="2.2"/><circle cx="201.5" cy="356.3" r="2.2"/><circle cx="225.1" cy="395.3" r="2.2"/><circle cx="195.7" cy="388.7" r="2.2"/><circle cx="180.9" cy="341.1" r="2.2"/><circle cx="185.0" cy="348.3" r="2.2"/><circle cx="157.0" cy="389.6" r="2.2"/><circle cx="230.7" cy="332.1" r="2.2"/><circle cx="225.6" cy="397.7" r="2.2"/><circle cx="171.3" cy="348.3" r="2.2"/><circle cx="151.2" cy="381.4" r="2.2"/><circle cx="225.6" cy="357.9" r="2.2"/><circle cx="174.8" cy="402.0" r="2.2"/><circle cx="206.1" cy="383.6" r="2.2"/><circle cx="246.1" cy="379.3" r="2.2"/><circle cx="185.9" cy="344.0" r="2.2"/><circle cx="223.1" cy="325.0" r="2.2"/><circle cx="156.4" cy="338.5" r="2.2"/><circle cx="235.0" cy="405.3" r="2.2"/><circle cx="227.4" cy="358.0" r="2.2"/><circle cx="190.4" cy="408.9" r="2.2"/><circle cx="180.9" cy="382.0" r="2.2"/><circle cx="184.8" cy="397.1" r="2.2"/><circle cx="222.9" cy="360.3" r="2.2"/><circle cx="208.0" cy="319.1" r="2.2"/><circle cx="229.4" cy="393.8" r="2.2"/><circle cx="260.5" cy="340.8" r="2.2"/><circle cx="153.3" cy="353.2" r="2.2"/><circle cx="236.2" cy="402.5" r="2.2"/><circle cx="242.2" cy="341.0" r="2.2"/><circle cx="157.3" cy="388.3" r="2.2"/><circle cx="174.9" cy="363.7" r="2.2"/><circle cx="187.2" cy="415.6" r="2.2"/><circle cx="249.2" cy="344.3" r="2.2"/><circle cx="169.8" cy="361.2" r="2.2"/><circle cx="208.9" cy="372.3" r="2.2"/><circle cx="174.0" cy="379.9" r="2.2"/><circle cx="165.4" cy="400.6" r="2.2"/><circle cx="177.5" cy="361.1" r="2.2"/><circle cx="205.3" cy="334.7" r="2.2"/><circle cx="181.3" cy="395.9" r="2.2"/><circle cx="257.1" cy="319.8" r="2.2"/><circle cx="176.5" cy="342.8" r="2.2"/><circle cx="224.6" cy="369.1" r="2.2"/><circle cx="185.0" cy="383.1" r="2.2"/><circle cx="218.2" cy="372.0" r="2.2"/><circle cx="180.4" cy="349.1" r="2.2"/><circle cx="155.1" cy="425.2" r="2.2"/><circle cx="165.4" cy="360.5" r="2.2"/><circle cx="206.1" cy="412.3" r="2.2"/><circle cx="185.0" cy="412.8" r="2.2"/><circle cx="229.8" cy="344.1" r="2.2"/><circle cx="300.9" cy="326.4" r="2.2"/><circle cx="218.4" cy="328.0" r="2.2"/><circle cx="250.8" cy="325.0" r="2.2"/><circle cx="205.3" cy="382.5" r="2.2"/><circle cx="212.0" cy="351.3" r="2.2"/><circle cx="198.9" cy="404.4" r="2.2"/><circle cx="197.5" cy="412.3" r="2.2"/><circle cx="216.1" cy="364.3" r="2.2"/><circle cx="233.6" cy="372.6" r="2.2"/><circle cx="202.6" cy="383.0" r="2.2"/><circle cx="159.6" cy="414.0" r="2.2"/><circle cx="185.9" cy="383.1" r="2.2"/><circle cx="161.6" cy="380.0" r="2.2"/><circle cx="168.7" cy="395.3" r="2.2"/><circle cx="194.9" cy="395.8" r="2.2"/><circle cx="178.6" cy="356.9" r="2.2"/><circle cx="181.2" cy="350.6" r="2.2"/><circle cx="189.5" cy="403.3" r="2.2"/><circle cx="198.8" cy="331.3" r="2.2"/><circle cx="184.9" cy="363.4" r="2.2"/><circle cx="215.0" cy="344.3" r="2.2"/><circle cx="178.3" cy="417.8" r="2.2"/><circle cx="229.4" cy="397.9" r="2.2"/><circle cx="192.9" cy="386.8" r="2.2"/><circle cx="200.2" cy="333.3" r="2.2"/><circle cx="251.7" cy="334.1" r="2.2"/><circle cx="187.0" cy="344.5" r="2.2"/><circle cx="145.7" cy="392.1" r="2.2"/><circle cx="181.2" cy="355.8" r="2.2"/><circle cx="195.2" cy="320.4" r="2.2"/><circle cx="211.3" cy="341.2" r="2.2"/><circle cx="230.1" cy="328.1" r="2.2"/><circle cx="222.2" cy="344.9" r="2.2"/><circle cx="201.0" cy="339.9" r="2.2"/><circle cx="225.2" cy="376.8" r="2.2"/><circle cx="218.4" cy="381.6" r="2.2"/><circle cx="217.6" cy="392.1" r="2.2"/><circle cx="187.2" cy="370.6" r="2.2"/><circle cx="211.5" cy="398.4" r="2.2"/><circle cx="285.2" cy="394.5" r="2.2"/><circle cx="178.8" cy="358.8" r="2.2"/><circle cx="196.2" cy="339.7" r="2.2"/><circle cx="242.7" cy="335.0" r="2.2"/><circle cx="229.7" cy="333.7" r="2.2"/><circle cx="207.7" cy="386.0" r="2.2"/><circle cx="196.9" cy="414.2" r="2.2"/><circle cx="200.5" cy="390.5" r="2.2"/><circle cx="234.4" cy="312.8" r="2.2"/><circle cx="198.2" cy="333.9" r="2.2"/><circle cx="207.4" cy="321.9" r="2.2"/><circle cx="166.4" cy="380.8" r="2.2"/><circle cx="187.5" cy="361.3" r="2.2"/><circle cx="181.6" cy="346.5" r="2.2"/><circle cx="219.9" cy="364.2" r="2.2"/><circle cx="158.3" cy="366.3" r="2.2"/><circle cx="238.1" cy="334.3" r="2.2"/><circle cx="188.2" cy="349.8" r="2.2"/><circle cx="223.3" cy="331.7" r="2.2"/><circle cx="256.1" cy="376.2" r="2.2"/><circle cx="198.9" cy="397.3" r="2.2"/><circle cx="158.0" cy="424.4" r="2.2"/><circle cx="204.7" cy="422.8" r="2.2"/><circle cx="250.3" cy="341.7" r="2.2"/></g>
<polyline points="53.64,440.43 54.95,436.50 56.27,432.91 57.59,429.62 58.90,426.56 60.22,423.72 61.54,421.07 62.85,418.57 64.17,416.22 65.49,413.99 66.81,411.88 68.12,409.87 69.44,407.96 70.76,406.13 72.07,404.38 73.39,402.70 74.71,401.08 76.02,399.53 77.34,398.03 78.66,396.59 79.97,395.20 81.29,393.85 82.61,392.54 83.92,391.28 85.24,390.05 86.56,388.85 87.88,387.70 89.19,386.57 90.51,385.47 91.83,384.40 93.14,383.36 94.46,382.35 95.78,381.35 97.09,380.39 98.41,379.44 99.73,378.52 101.04,377.61 102.36,376.73 103.68,375.86 105.00,375.01 106.31,374.18 107.63,373.37 108.95,372.57 110.26,371.79 111.58,371.02 112.90,370.26 114.21,369.52 115.53,368.80 116.85,368.08 118.16,367.38 119.48,366.69 120.80,366.01 122.11,365.34 123.43,364.68 124.75,364.03 126.07,363.39 127.38,362.77 128.70,362.15 130.02,361.54 131.33,360.94 132.65,360.35 133.97,359.76 135.28,359.19 136.60,358.62 137.92,358.06 139.23,357.51 140.55,356.96 141.87,356.43 143.19,355.90 144.50,355.37 145.82,354.86 147.14,354.34 148.45,353.84 149.77,353.34 151.09,352.85 152.40,352.36 153.72,351.88 155.04,351.41 156.35,350.94 157.67,350.47 158.99,350.01 160.30,349.56 161.62,349.11 162.94,348.66 164.26,348.22 165.57,347.79 166.89,347.36 168.21,346.93 169.52,346.51 170.84,346.09 172.16,345.68 173.47,345.27 174.79,344.87 176.11,344.47 177.42,344.07 178.74,343.67 180.06,343.28 181.38,342.90 182.69,342.52 184.01,342.14 185.33,341.76 186.64,341.39 187.96,341.02 189.28,340.66 190.59,340.29 191.91,339.93 193.23,339.58 194.54,339.23 195.86,338.88 197.18,338.53 198.50,338.18 199.81,337.84 201.13,337.50 202.45,337.17 203.76,336.84 205.08,336.51 206.40,336.18 207.71,335.85 209.03,335.53 210.35,335.21 211.66,334.89 212.98,334.58 214.30,334.27 215.61,333.96 216.93,333.65 218.25,333.34 219.57,333.04 220.88,332.74 222.20,332.44 223.52,332.14 224.83,331.85 226.15,331.55 227.47,331.26 228.78,330.97 230.10,330.69 231.42,330.40 232.73,330.12 234.05,329.84 235.37,329.56 236.69,329.28 238.00,329.01 239.32,328.74 240.64,328.47 241.95,328.20 243.27,327.93 244.59,327.66 245.90,327.40 247.22,327.13 248.54,326.87 249.85,326.61 251.17,326.36 252.49,326.10 253.80,325.85 255.12,325.59 256.44,325.34 257.76,325.09 259.07,324.84 260.39,324.60 261.71,324.35 263.02,324.11 264.34,323.86 265.66,323.62 266.97,323.38 268.29,323.14 269.61,322.91 270.92,322.67 272.24,322.44 273.56,322.20 274.88,321.97 276.19,321.74 277.51,321.51 278.83,321.29 280.14,321.06 281.46,320.83 282.78,320.61 284.09,320.39 285.41,320.17 286.73,319.95 288.04,319.73 289.36,319.51 290.68,319.29 291.99,319.08 293.31,318.86 294.63,318.65 295.95,318.43 297.26,318.22 298.58,318.01 299.90,317.80 301.21,317.60 302.53,317.39 303.85,317.18 305.16,316.98 306.48,316.77 307.80,316.57 309.11,316.37 310.43,316.17 311.75,315.97 313.07,315.77 314.38,315.57 315.70,315.37" fill="none" stroke="#000" stroke-width="1.7" stroke-linejoin="round"/>
<path d="M40.5,294.6 V450.9 M40.5,450.9 H336.06000000000006" stroke="#333" stroke-width="1.1" fill="none"/>
<path d="M40.50,450.9 v3.5 M73.34,450.9 v3.5 M106.18,450.9 v3.5 M139.02,450.9 v3.5 M171.86,450.9 v3.5 M204.70,450.9 v3.5 M237.54,450.9 v3.5 M270.38,450.9 v3.5 M303.22,450.9 v3.5 M336.06,450.9 v3.5 M56.92,450.9 v1.7 M89.76,450.9 v1.7 M122.60,450.9 v1.7 M155.44,450.9 v1.7 M188.28,450.9 v1.7 M221.12,450.9 v1.7 M253.96,450.9 v1.7 M286.80,450.9 v1.7 M319.64,450.9 v1.7 M40.5,450.90 h-3.5 M40.5,441.13 h-1.7 M40.5,431.36 h-3.5 M40.5,421.59 h-1.7 M40.5,411.82 h-3.5 M40.5,402.06 h-1.7 M40.5,392.29 h-3.5 M40.5,382.52 h-1.7 M40.5,372.75 h-3.5 M40.5,362.98 h-1.7 M40.5,353.21 h-3.5 M40.5,343.44 h-1.7 M40.5,333.68 h-3.5 M40.5,323.91 h-1.7 M40.5,314.14 h-3.5 M40.5,304.37 h-1.7 M40.5,294.60 h-3.5" stroke="#333" stroke-width="1.0" fill="none"/>
<text x="40.50" y="465.0" font-size="10.0" text-anchor="middle">0</text>
<text x="73.34" y="465.0" font-size="10.0" text-anchor="middle">1</text>
<text x="106.18" y="465.0" font-size="10.0" text-anchor="middle">2</text>
<text x="139.02" y="465.0" font-size="10.0" text-anchor="middle">3</text>
<text x="171.86" y="465.0" font-size="10.0" text-anchor="middle">4</text>
<text x="204.70" y="465.0" font-size="10.0" text-anchor="middle">5</text>
<text x="237.54" y="465.0" font-size="10.0" text-anchor="middle">6</text>
<text x="270.38" y="465.0" font-size="10.0" text-anchor="middle">7</text>
<text x="303.22" y="465.0" font-size="10.0" text-anchor="middle">8</text>
<text x="336.06" y="465.0" font-size="10.0" text-anchor="middle">9</text>
<text x="34.70" y="454.60" font-size="10.0" text-anchor="end">0.0</text>
<text x="34.70" y="435.06" font-size="10.0" text-anchor="end">0.5</text>
<text x="34.70" y="415.52" font-size="10.0" text-anchor="end">1.0</text>
<text x="34.70" y="395.99" font-size="10.0" text-anchor="end">1.5</text>
<text x="34.70" y="376.45" font-size="10.0" text-anchor="end">2.0</text>
<text x="34.70" y="356.91" font-size="10.0" text-anchor="end">2.5</text>
<text x="34.70" y="337.38" font-size="10.0" text-anchor="end">3.0</text>
<text x="34.70" y="317.84" font-size="10.0" text-anchor="end">3.5</text>
<text x="34.70" y="298.30" font-size="10.0" text-anchor="end">4.0</text>
<text class="s" transform="translate(188.3,487.2) scale(1,0.91)" font-size="18" text-anchor="middle">LAI</text>
<text class="s" transform="translate(14.9,372.8) rotate(-90) scale(1,1.07)" x="0" y="0" font-size="17.6" text-anchor="middle">CI_rededge</text>
<text class="s" x="21.1" y="268.5" font-size="18" font-weight="bold">(c)</text>
<g fill="rgba(0,128,0,0.74)"><circle cx="502.1" cy="322.0" r="2.2"/><circle cx="512.5" cy="317.1" r="2.2"/><circle cx="563.1" cy="303.8" r="2.2"/><circle cx="500.5" cy="327.8" r="2.2"/><circle cx="576.0" cy="317.4" r="2.2"/><circle cx="512.7" cy="324.3" r="2.2"/><circle cx="491.6" cy="325.0" r="2.2"/><circle cx="530.7" cy="300.5" r="2.2"/><circle cx="521.2" cy="326.6" r="2.2"/><circle cx="540.1" cy="316.0" r="2.2"/><circle cx="509.2" cy="333.3" r="2.2"/><circle cx="440.7" cy="344.5" r="2.2"/><circle cx="483.5" cy="326.6" r="2.2"/><circle cx="460.0" cy="341.3" r="2.2"/><circle cx="407.7" cy="420.5" r="2.2"/><circle cx="517.9" cy="324.3" r="2.2"/><circle cx="509.8" cy="329.2" r="2.2"/><circle cx="437.5" cy="368.5" r="2.2"/><circle cx="589.2" cy="313.6" r="2.2"/><circle cx="560.3" cy="320.6" r="2.2"/><circle cx="451.4" cy="358.0" r="2.2"/><circle cx="570.8" cy="317.7" r="2.2"/><circle cx="490.5" cy="328.5" r="2.2"/><circle cx="447.4" cy="375.5" r="2.2"/><circle cx="438.4" cy="371.2" r="2.2"/><circle cx="502.5" cy="329.0" r="2.2"/><circle cx="583.5" cy="330.5" r="2.2"/><circle cx="403.4" cy="427.6" r="2.2"/><circle cx="594.6" cy="321.9" r="2.2"/><circle cx="454.3" cy="350.9" r="2.2"/><circle cx="485.4" cy="327.5" r="2.2"/><circle cx="458.3" cy="344.9" r="2.2"/><circle cx="503.2" cy="326.5" r="2.2"/><circle cx="400.5" cy="410.5" r="2.2"/><circle cx="623.4" cy="327.9" r="2.2"/><circle cx="497.0" cy="327.1" r="2.2"/><circle cx="406.7" cy="434.1" r="2.2"/><circle cx="476.9" cy="317.7" r="2.2"/><circle cx="503.1" cy="326.0" r="2.2"/><circle cx="567.8" cy="320.5" r="2.2"/><circle cx="497.8" cy="321.3" r="2.2"/><circle cx="473.4" cy="335.6" r="2.2"/><circle cx="572.8" cy="303.4" r="2.2"/><circle cx="577.1" cy="320.9" r="2.2"/><circle cx="444.0" cy="349.0" r="2.2"/><circle cx="473.9" cy="341.0" r="2.2"/><circle cx="485.2" cy="327.9" r="2.2"/><circle cx="548.1" cy="315.8" r="2.2"/><circle cx="495.5" cy="327.7" r="2.2"/><circle cx="575.0" cy="323.9" r="2.2"/><circle cx="401.6" cy="421.4" r="2.2"/><circle cx="411.3" cy="429.0" r="2.2"/><circle cx="454.3" cy="337.3" r="2.2"/><circle cx="566.4" cy="324.7" r="2.2"/><circle cx="470.7" cy="338.2" r="2.2"/><circle cx="592.4" cy="319.8" r="2.2"/><circle cx="594.8" cy="325.3" r="2.2"/><circle cx="466.3" cy="336.6" r="2.2"/><circle cx="491.2" cy="325.5" r="2.2"/><circle cx="503.0" cy="332.6" r="2.2"/><circle cx="584.8" cy="324.2" r="2.2"/><circle cx="468.4" cy="342.5" r="2.2"/><circle cx="543.6" cy="326.7" r="2.2"/><circle cx="402.8" cy="423.5" r="2.2"/><circle cx="538.3" cy="317.4" r="2.2"/><circle cx="433.5" cy="375.7" r="2.2"/><circle cx="538.2" cy="328.4" r="2.2"/><circle cx="482.3" cy="328.3" r="2.2"/><circle cx="461.7" cy="333.4" r="2.2"/><circle cx="438.7" cy="374.9" r="2.2"/><circle cx="503.8" cy="312.7" r="2.2"/><circle cx="582.7" cy="329.4" r="2.2"/><circle cx="525.3" cy="315.6" r="2.2"/><circle cx="440.9" cy="356.1" r="2.2"/><circle cx="442.3" cy="371.0" r="2.2"/><circle cx="446.8" cy="373.5" r="2.2"/><circle cx="454.0" cy="348.4" r="2.2"/><circle cx="483.8" cy="325.4" r="2.2"/><circle cx="467.5" cy="320.4" r="2.2"/><circle cx="543.6" cy="315.4" r="2.2"/><circle cx="588.1" cy="323.9" r="2.2"/><circle cx="493.0" cy="331.4" r="2.2"/><circle cx="541.4" cy="318.4" r="2.2"/><circle cx="451.0" cy="369.0" r="2.2"/><circle cx="511.6" cy="329.6" r="2.2"/><circle cx="441.7" cy="382.9" r="2.2"/><circle cx="526.6" cy="321.5" r="2.2"/><circle cx="549.4" cy="325.3" r="2.2"/><circle cx="453.0" cy="345.5" r="2.2"/><circle cx="560.6" cy="321.2" r="2.2"/><circle cx="402.3" cy="427.8" r="2.2"/><circle cx="519.4" cy="321.5" r="2.2"/><circle cx="509.4" cy="315.8" r="2.2"/><circle cx="454.3" cy="348.3" r="2.2"/><circle cx="438.8" cy="339.7" r="2.2"/><circle cx="460.1" cy="345.5" r="2.2"/><circle cx="477.4" cy="326.3" r="2.2"/><circle cx="454.3" cy="349.2" r="2.2"/><circle cx="502.9" cy="327.5" r="2.2"/><circle cx="483.2" cy="336.7" r="2.2"/><circle cx="530.8" cy="317.2" r="2.2"/><circle cx="550.5" cy="323.8" r="2.2"/><circle cx="439.2" cy="375.2" r="2.2"/><circle cx="469.3" cy="337.9" r="2.2"/><circle cx="409.9" cy="428.0" r="2.2"/><circle cx="586.8" cy="314.3" r="2.2"/><circle cx="514.6" cy="317.3" r="2.2"/><circle cx="503.8" cy="332.5" r="2.2"/><circle cx="505.2" cy="322.1" r="2.2"/><circle cx="470.8" cy="323.7" r="2.2"/><circle cx="506.7" cy="325.1" r="2.2"/><circle cx="409.7" cy="430.7" r="2.2"/><circle cx="450.9" cy="349.7" r="2.2"/><circle cx="523.5" cy="329.8" r="2.2"/><circle cx="449.5" cy="349.7" r="2.2"/><circle cx="578.0" cy="324.0" r="2.2"/><circle cx="517.2" cy="325.0" r="2.2"/><circle cx="558.7" cy="315.2" r="2.2"/><circle cx="474.3" cy="326.6" r="2.2"/><circle cx="474.4" cy="312.3" r="2.2"/><circle cx="572.9" cy="324.7" r="2.2"/><circle cx="499.8" cy="331.5" r="2.2"/><circle cx="481.7" cy="334.8" r="2.2"/><circle cx="464.4" cy="330.2" r="2.2"/><circle cx="471.6" cy="330.8" r="2.2"/><circle cx="553.2" cy="309.0" r="2.2"/><circle cx="453.9" cy="342.2" r="2.2"/><circle cx="581.1" cy="311.1" r="2.2"/><circle cx="550.9" cy="327.8" r="2.2"/><circle cx="472.5" cy="339.9" r="2.2"/><circle cx="454.3" cy="346.1" r="2.2"/><circle cx="399.5" cy="427.9" r="2.2"/><circle cx="596.3" cy="327.6" r="2.2"/><circle cx="406.1" cy="427.1" r="2.2"/><circle cx="457.4" cy="354.1" r="2.2"/><circle cx="454.3" cy="335.3" r="2.2"/><circle cx="550.7" cy="321.0" r="2.2"/><circle cx="500.2" cy="325.9" r="2.2"/><circle cx="574.7" cy="309.1" r="2.2"/><circle cx="448.2" cy="352.7" r="2.2"/><circle cx="465.7" cy="336.3" r="2.2"/><circle cx="570.9" cy="316.5" r="2.2"/><circle cx="435.4" cy="336.0" r="2.2"/><circle cx="523.8" cy="321.2" r="2.2"/><circle cx="559.8" cy="328.3" r="2.2"/><circle cx="514.5" cy="314.5" r="2.2"/><circle cx="551.5" cy="322.8" r="2.2"/><circle cx="513.1" cy="320.1" r="2.2"/><circle cx="460.2" cy="351.6" r="2.2"/><circle cx="478.6" cy="328.0" r="2.2"/><circle cx="545.4" cy="300.1" r="2.2"/><circle cx="440.6" cy="359.7" r="2.2"/><circle cx="438.4" cy="376.1" r="2.2"/><circle cx="566.0" cy="312.9" r="2.2"/><circle cx="512.1" cy="316.7" r="2.2"/><circle cx="456.3" cy="360.7" r="2.2"/><circle cx="533.9" cy="306.5" r="2.2"/><circle cx="591.4" cy="310.4" r="2.2"/><circle cx="525.2" cy="319.1" r="2.2"/><circle cx="455.8" cy="349.7" r="2.2"/><circle cx="438.0" cy="368.3" r="2.2"/><circle cx="571.5" cy="306.5" r="2.2"/><circle cx="583.3" cy="327.3" r="2.2"/><circle cx="546.3" cy="318.4" r="2.2"/><circle cx="442.4" cy="374.5" r="2.2"/><circle cx="435.9" cy="338.2" r="2.2"/><circle cx="513.0" cy="319.8" r="2.2"/><circle cx="546.7" cy="321.6" r="2.2"/><circle cx="524.4" cy="324.9" r="2.2"/><circle cx="463.6" cy="337.7" r="2.2"/><circle cx="477.9" cy="334.1" r="2.2"/><circle cx="561.0" cy="306.6" r="2.2"/><circle cx="491.0" cy="312.1" r="2.2"/><circle cx="508.2" cy="322.6" r="2.2"/><circle cx="588.1" cy="318.4" r="2.2"/><circle cx="454.3" cy="340.0" r="2.2"/><circle cx="552.8" cy="320.7" r="2.2"/><circle cx="436.7" cy="376.1" r="2.2"/><circle cx="551.1" cy="319.5" r="2.2"/><circle cx="559.8" cy="325.3" r="2.2"/><circle cx="523.4" cy="320.5" r="2.2"/><circle cx="498.1" cy="326.2" r="2.2"/><circle cx="575.7" cy="321.6" r="2.2"/><circle cx="433.7" cy="370.1" r="2.2"/><circle cx="491.8" cy="331.9" r="2.2"/><circle cx="463.6" cy="324.5" r="2.2"/><circle cx="546.1" cy="313.9" r="2.2"/><circle cx="542.6" cy="320.0" r="2.2"/><circle cx="579.1" cy="315.0" r="2.2"/><circle cx="491.3" cy="312.3" r="2.2"/><circle cx="484.0" cy="337.9" r="2.2"/><circle cx="454.3" cy="349.0" r="2.2"/><circle cx="571.5" cy="319.4" r="2.2"/><circle cx="522.4" cy="322.1" r="2.2"/><circle cx="536.8" cy="301.6" r="2.2"/><circle cx="498.8" cy="328.7" r="2.2"/><circle cx="582.6" cy="322.3" r="2.2"/><circle cx="560.3" cy="318.9" r="2.2"/><circle cx="481.7" cy="324.9" r="2.2"/><circle cx="444.9" cy="351.9" r="2.2"/><circle cx="507.2" cy="315.0" r="2.2"/><circle cx="497.9" cy="322.6" r="2.2"/><circle cx="587.8" cy="315.0" r="2.2"/><circle cx="481.2" cy="331.0" r="2.2"/><circle cx="509.4" cy="329.2" r="2.2"/><circle cx="509.2" cy="331.7" r="2.2"/><circle cx="402.4" cy="427.6" r="2.2"/><circle cx="509.9" cy="324.3" r="2.2"/><circle cx="538.3" cy="325.1" r="2.2"/><circle cx="466.2" cy="337.9" r="2.2"/><circle cx="465.2" cy="340.4" r="2.2"/><circle cx="539.2" cy="301.3" r="2.2"/><circle cx="550.4" cy="319.3" r="2.2"/><circle cx="526.1" cy="326.2" r="2.2"/><circle cx="412.5" cy="410.4" r="2.2"/><circle cx="499.7" cy="311.7" r="2.2"/><circle cx="403.5" cy="437.1" r="2.2"/><circle cx="443.5" cy="376.6" r="2.2"/><circle cx="491.0" cy="314.8" r="2.2"/><circle cx="498.3" cy="313.6" r="2.2"/><circle cx="470.9" cy="340.2" r="2.2"/><circle cx="505.0" cy="307.7" r="2.2"/><circle cx="573.5" cy="321.1" r="2.2"/><circle cx="491.2" cy="322.2" r="2.2"/><circle cx="471.2" cy="324.5" r="2.2"/><circle cx="461.4" cy="322.2" r="2.2"/><circle cx="498.1" cy="326.8" r="2.2"/><circle cx="456.3" cy="345.6" r="2.2"/><circle cx="494.4" cy="321.4" r="2.2"/><circle cx="458.7" cy="342.2" r="2.2"/><circle cx="516.8" cy="320.7" r="2.2"/><circle cx="515.8" cy="301.8" r="2.2"/><circle cx="405.6" cy="430.1" r="2.2"/><circle cx="461.7" cy="346.1" r="2.2"/><circle cx="444.6" cy="351.0" r="2.2"/><circle cx="452.7" cy="343.8" r="2.2"/><circle cx="492.7" cy="319.5" r="2.2"/><circle cx="412.6" cy="411.4" r="2.2"/><circle cx="612.0" cy="330.6" r="2.2"/><circle cx="586.8" cy="316.0" r="2.2"/><circle cx="498.8" cy="319.1" r="2.2"/><circle cx="485.8" cy="334.3" r="2.2"/><circle cx="428.1" cy="379.3" r="2.2"/><circle cx="536.7" cy="315.1" r="2.2"/><circle cx="469.1" cy="336.6" r="2.2"/><circle cx="499.1" cy="332.3" r="2.2"/><circle cx="547.2" cy="328.9" r="2.2"/><circle cx="495.9" cy="309.9" r="2.2"/><circle cx="529.4" cy="319.7" r="2.2"/><circle cx="473.2" cy="322.3" r="2.2"/><circle cx="458.2" cy="351.6" r="2.2"/><circle cx="499.1" cy="334.4" r="2.2"/><circle cx="500.8" cy="337.0" r="2.2"/><circle cx="411.0" cy="411.1" r="2.2"/><circle cx="502.8" cy="323.4" r="2.2"/><circle cx="497.2" cy="327.9" r="2.2"/><circle cx="493.7" cy="327.3" r="2.2"/><circle cx="482.3" cy="328.3" r="2.2"/><circle cx="410.3" cy="420.1" r="2.2"/><circle cx="513.0" cy="322.8" r="2.2"/><circle cx="521.9" cy="319.6" r="2.2"/><circle cx="528.2" cy="314.6" r="2.2"/><circle cx="488.1" cy="334.6" r="2.2"/><circle cx="515.9" cy="323.0" r="2.2"/><circle cx="575.7" cy="318.0" r="2.2"/><circle cx="517.3" cy="332.9" r="2.2"/><circle cx="461.1" cy="336.6" r="2.2"/><circle cx="544.4" cy="317.9" r="2.2"/><circle cx="462.9" cy="332.9" r="2.2"/><circle cx="463.4" cy="343.2" r="2.2"/><circle cx="487.0" cy="327.2" r="2.2"/><circle cx="455.1" cy="354.7" r="2.2"/><circle cx="553.4" cy="325.7" r="2.2"/><circle cx="468.5" cy="337.4" r="2.2"/><circle cx="537.2" cy="319.5" r="2.2"/><circle cx="444.7" cy="359.8" r="2.2"/><circle cx="405.3" cy="431.4" r="2.2"/><circle cx="407.7" cy="427.7" r="2.2"/><circle cx="484.3" cy="345.8" r="2.2"/><circle cx="547.7" cy="314.7" r="2.2"/><circle cx="580.4" cy="316.6" r="2.2"/><circle cx="662.2" cy="321.3" r="2.2"/><circle cx="409.9" cy="420.8" r="2.2"/><circle cx="593.3" cy="324.3" r="2.2"/><circle cx="656.6" cy="322.0" r="2.2"/><circle cx="465.2" cy="340.4" r="2.2"/><circle cx="507.7" cy="328.1" r="2.2"/><circle cx="477.1" cy="335.6" r="2.2"/><circle cx="565.9" cy="319.4" r="2.2"/><circle cx="513.0" cy="326.6" r="2.2"/><circle cx="473.5" cy="338.7" r="2.2"/><circle cx="454.3" cy="342.8" r="2.2"/><circle cx="446.3" cy="356.2" r="2.2"/><circle cx="533.2" cy="321.4" r="2.2"/><circle cx="537.2" cy="325.9" r="2.2"/><circle cx="493.9" cy="305.1" r="2.2"/><circle cx="496.7" cy="323.8" r="2.2"/><circle cx="442.9" cy="379.9" r="2.2"/><circle cx="480.7" cy="340.8" r="2.2"/><circle cx="541.2" cy="325.0" r="2.2"/><circle cx="519.2" cy="323.4" r="2.2"/><circle cx="438.2" cy="365.9" r="2.2"/><circle cx="507.2" cy="322.8" r="2.2"/><circle cx="497.9" cy="319.9" r="2.2"/><circle cx="502.2" cy="325.5" r="2.2"/><circle cx="446.2" cy="355.1" r="2.2"/><circle cx="530.2" cy="322.7" r="2.2"/><circle cx="514.3" cy="322.4" r="2.2"/><circle cx="509.2" cy="323.3" r="2.2"/><circle cx="561.9" cy="320.1" r="2.2"/><circle cx="485.7" cy="320.9" r="2.2"/><circle cx="545.9" cy="302.1" r="2.2"/><circle cx="448.1" cy="359.1" r="2.2"/><circle cx="403.1" cy="433.6" r="2.2"/><circle cx="543.4" cy="314.5" r="2.2"/><circle cx="559.1" cy="322.6" r="2.2"/><circle cx="441.8" cy="344.5" r="2.2"/><circle cx="538.9" cy="316.2" r="2.2"/><circle cx="508.6" cy="312.3" r="2.2"/><circle cx="542.4" cy="324.9" r="2.2"/><circle cx="457.3" cy="349.6" r="2.2"/><circle cx="512.8" cy="333.5" r="2.2"/><circle cx="491.3" cy="328.5" r="2.2"/><circle cx="514.5" cy="329.1" r="2.2"/><circle cx="466.2" cy="341.0" r="2.2"/><circle cx="572.1" cy="319.1" r="2.2"/><circle cx="490.6" cy="327.7" r="2.2"/><circle cx="533.0" cy="330.1" r="2.2"/><circle cx="558.2" cy="317.7" r="2.2"/><circle cx="539.9" cy="315.7" r="2.2"/><circle cx="430.0" cy="377.6" r="2.2"/><circle cx="496.1" cy="319.3" r="2.2"/><circle cx="516.7" cy="319.7" r="2.2"/><circle cx="540.6" cy="330.7" r="2.2"/><circle cx="473.8" cy="339.9" r="2.2"/><circle cx="536.1" cy="313.8" r="2.2"/><circle cx="571.7" cy="335.6" r="2.2"/><circle cx="544.9" cy="327.9" r="2.2"/><circle cx="560.5" cy="317.0" r="2.2"/><circle cx="564.3" cy="324.8" r="2.2"/><circle cx="521.0" cy="324.5" r="2.2"/><circle cx="544.3" cy="333.7" r="2.2"/></g>
<g fill="rgba(255,128,0,0.74)"><circle cx="542.2" cy="357.8" r="2.2"/><circle cx="531.3" cy="366.4" r="2.2"/><circle cx="525.1" cy="333.6" r="2.2"/><circle cx="505.6" cy="366.1" r="2.2"/><circle cx="571.6" cy="367.9" r="2.2"/><circle cx="557.5" cy="369.1" r="2.2"/><circle cx="554.2" cy="392.0" r="2.2"/><circle cx="508.1" cy="346.5" r="2.2"/><circle cx="521.3" cy="371.5" r="2.2"/><circle cx="575.9" cy="371.5" r="2.2"/><circle cx="527.4" cy="369.9" r="2.2"/><circle cx="529.9" cy="329.5" r="2.2"/><circle cx="536.0" cy="374.6" r="2.2"/><circle cx="607.0" cy="330.8" r="2.2"/><circle cx="542.7" cy="379.0" r="2.2"/><circle cx="520.7" cy="390.7" r="2.2"/><circle cx="545.4" cy="362.6" r="2.2"/><circle cx="513.4" cy="351.5" r="2.2"/><circle cx="501.6" cy="405.3" r="2.2"/><circle cx="527.4" cy="349.8" r="2.2"/><circle cx="522.2" cy="352.4" r="2.2"/><circle cx="555.0" cy="344.8" r="2.2"/><circle cx="602.9" cy="360.0" r="2.2"/><circle cx="559.6" cy="337.9" r="2.2"/><circle cx="564.9" cy="319.6" r="2.2"/><circle cx="574.3" cy="381.6" r="2.2"/><circle cx="571.1" cy="341.5" r="2.2"/><circle cx="580.1" cy="345.2" r="2.2"/><circle cx="492.2" cy="357.2" r="2.2"/><circle cx="531.5" cy="351.2" r="2.2"/><circle cx="549.1" cy="352.5" r="2.2"/><circle cx="596.6" cy="369.2" r="2.2"/><circle cx="555.8" cy="385.0" r="2.2"/><circle cx="577.6" cy="311.5" r="2.2"/><circle cx="543.4" cy="390.7" r="2.2"/><circle cx="507.6" cy="344.8" r="2.2"/><circle cx="515.2" cy="362.9" r="2.2"/><circle cx="532.7" cy="335.3" r="2.2"/><circle cx="631.7" cy="346.1" r="2.2"/><circle cx="535.6" cy="350.4" r="2.2"/><circle cx="598.2" cy="326.1" r="2.2"/><circle cx="527.7" cy="330.0" r="2.2"/><circle cx="589.2" cy="325.8" r="2.2"/><circle cx="516.5" cy="330.1" r="2.2"/><circle cx="545.7" cy="356.1" r="2.2"/><circle cx="526.6" cy="349.2" r="2.2"/><circle cx="526.7" cy="341.4" r="2.2"/><circle cx="533.5" cy="326.8" r="2.2"/><circle cx="580.9" cy="312.0" r="2.2"/><circle cx="532.4" cy="326.5" r="2.2"/><circle cx="577.7" cy="326.5" r="2.2"/><circle cx="595.2" cy="372.7" r="2.2"/><circle cx="566.8" cy="325.1" r="2.2"/><circle cx="563.2" cy="338.5" r="2.2"/><circle cx="631.0" cy="334.0" r="2.2"/><circle cx="572.4" cy="319.0" r="2.2"/><circle cx="533.7" cy="327.5" r="2.2"/><circle cx="603.2" cy="322.8" r="2.2"/><circle cx="541.7" cy="313.2" r="2.2"/><circle cx="571.3" cy="375.1" r="2.2"/><circle cx="504.8" cy="335.7" r="2.2"/><circle cx="511.9" cy="368.9" r="2.2"/><circle cx="588.7" cy="329.3" r="2.2"/><circle cx="532.7" cy="361.8" r="2.2"/><circle cx="552.1" cy="348.9" r="2.2"/><circle cx="569.8" cy="322.2" r="2.2"/><circle cx="516.3" cy="335.7" r="2.2"/><circle cx="552.4" cy="360.9" r="2.2"/><circle cx="511.9" cy="335.2" r="2.2"/><circle cx="616.9" cy="338.0" r="2.2"/><circle cx="548.7" cy="364.1" r="2.2"/><circle cx="524.0" cy="336.0" r="2.2"/><circle cx="631.0" cy="340.5" r="2.2"/><circle cx="569.3" cy="374.2" r="2.2"/><circle cx="572.1" cy="333.6" r="2.2"/><circle cx="564.5" cy="363.5" r="2.2"/><circle cx="531.5" cy="387.4" r="2.2"/><circle cx="579.4" cy="344.3" r="2.2"/><circle cx="600.6" cy="329.1" r="2.2"/><circle cx="504.9" cy="328.2" r="2.2"/><circle cx="528.9" cy="322.8" r="2.2"/><circle cx="571.7" cy="348.3" r="2.2"/><circle cx="554.5" cy="313.4" r="2.2"/><circle cx="544.0" cy="387.9" r="2.2"/><circle cx="562.8" cy="327.4" r="2.2"/><circle cx="597.3" cy="320.7" r="2.2"/><circle cx="585.1" cy="386.0" r="2.2"/><circle cx="569.6" cy="318.2" r="2.2"/><circle cx="528.6" cy="362.1" r="2.2"/><circle cx="532.9" cy="333.3" r="2.2"/><circle cx="647.4" cy="325.9" r="2.2"/><circle cx="546.7" cy="321.2" r="2.2"/><circle cx="506.1" cy="386.6" r="2.2"/><circle cx="666.1" cy="364.9" r="2.2"/><circle cx="531.5" cy="328.9" r="2.2"/><circle cx="572.1" cy="370.8" r="2.2"/><circle cx="576.2" cy="323.9" r="2.2"/><circle cx="539.4" cy="355.7" r="2.2"/><circle cx="525.3" cy="334.7" r="2.2"/><circle cx="514.6" cy="380.4" r="2.2"/><circle cx="576.6" cy="320.6" r="2.2"/><circle cx="523.8" cy="334.6" r="2.2"/><circle cx="551.3" cy="365.1" r="2.2"/><circle cx="558.0" cy="370.4" r="2.2"/><circle cx="520.4" cy="345.6" r="2.2"/><circle cx="518.8" cy="344.5" r="2.2"/><circle cx="576.3" cy="330.0" r="2.2"/><circle cx="568.7" cy="329.8" r="2.2"/><circle cx="550.9" cy="359.9" r="2.2"/><circle cx="504.5" cy="404.0" r="2.2"/><circle cx="595.8" cy="326.5" r="2.2"/><circle cx="536.2" cy="367.7" r="2.2"/><circle cx="578.0" cy="345.8" r="2.2"/><circle cx="546.9" cy="422.0" r="2.2"/><circle cx="581.5" cy="381.6" r="2.2"/><circle cx="499.8" cy="330.8" r="2.2"/><circle cx="563.0" cy="325.2" r="2.2"/><circle cx="501.5" cy="380.5" r="2.2"/><circle cx="579.6" cy="351.5" r="2.2"/><circle cx="575.9" cy="366.5" r="2.2"/><circle cx="603.6" cy="318.2" r="2.2"/><circle cx="545.4" cy="376.9" r="2.2"/><circle cx="595.7" cy="331.9" r="2.2"/><circle cx="536.2" cy="352.0" r="2.2"/><circle cx="529.5" cy="354.7" r="2.2"/><circle cx="545.4" cy="367.9" r="2.2"/><circle cx="541.4" cy="365.8" r="2.2"/><circle cx="544.8" cy="371.6" r="2.2"/><circle cx="564.2" cy="372.3" r="2.2"/><circle cx="501.8" cy="356.0" r="2.2"/><circle cx="501.0" cy="421.7" r="2.2"/><circle cx="588.6" cy="337.7" r="2.2"/><circle cx="552.6" cy="388.8" r="2.2"/><circle cx="602.6" cy="350.1" r="2.2"/><circle cx="547.5" cy="325.1" r="2.2"/><circle cx="493.9" cy="343.1" r="2.2"/><circle cx="557.6" cy="330.0" r="2.2"/><circle cx="592.6" cy="352.3" r="2.2"/><circle cx="579.3" cy="377.9" r="2.2"/><circle cx="533.5" cy="366.7" r="2.2"/><circle cx="577.2" cy="323.1" r="2.2"/><circle cx="518.2" cy="326.7" r="2.2"/><circle cx="541.8" cy="321.1" r="2.2"/><circle cx="562.6" cy="337.3" r="2.2"/><circle cx="527.8" cy="364.7" r="2.2"/><circle cx="605.3" cy="329.1" r="2.2"/><circle cx="566.4" cy="337.5" r="2.2"/><circle cx="542.6" cy="382.4" r="2.2"/><circle cx="527.7" cy="333.1" r="2.2"/><circle cx="534.7" cy="330.0" r="2.2"/><circle cx="521.4" cy="334.9" r="2.2"/><circle cx="555.4" cy="343.1" r="2.2"/><circle cx="503.5" cy="355.5" r="2.2"/><circle cx="526.9" cy="329.1" r="2.2"/><circle cx="554.2" cy="356.0" r="2.2"/><circle cx="552.9" cy="331.3" r="2.2"/><circle cx="497.7" cy="346.9" r="2.2"/><circle cx="564.9" cy="352.4" r="2.2"/><circle cx="557.7" cy="325.2" r="2.2"/><circle cx="604.3" cy="316.4" r="2.2"/><circle cx="600.2" cy="323.1" r="2.2"/><circle cx="572.3" cy="327.1" r="2.2"/><circle cx="580.7" cy="399.5" r="2.2"/><circle cx="528.1" cy="327.7" r="2.2"/><circle cx="555.5" cy="381.5" r="2.2"/><circle cx="531.0" cy="362.7" r="2.2"/><circle cx="589.0" cy="329.1" r="2.2"/><circle cx="540.7" cy="354.1" r="2.2"/><circle cx="527.4" cy="324.5" r="2.2"/><circle cx="590.7" cy="357.9" r="2.2"/><circle cx="557.8" cy="326.7" r="2.2"/><circle cx="520.5" cy="347.3" r="2.2"/><circle cx="477.7" cy="364.2" r="2.2"/><circle cx="569.4" cy="338.9" r="2.2"/><circle cx="481.9" cy="427.7" r="2.2"/><circle cx="564.1" cy="363.6" r="2.2"/><circle cx="567.8" cy="370.0" r="2.2"/><circle cx="551.2" cy="406.8" r="2.2"/><circle cx="544.3" cy="327.2" r="2.2"/><circle cx="584.6" cy="325.0" r="2.2"/><circle cx="576.9" cy="325.9" r="2.2"/><circle cx="552.9" cy="337.2" r="2.2"/><circle cx="568.3" cy="342.0" r="2.2"/><circle cx="536.6" cy="353.0" r="2.2"/><circle cx="523.1" cy="380.0" r="2.2"/><circle cx="534.0" cy="336.7" r="2.2"/><circle cx="531.4" cy="337.8" r="2.2"/><circle cx="542.7" cy="324.6" r="2.2"/><circle cx="591.9" cy="339.5" r="2.2"/><circle cx="606.2" cy="318.8" r="2.2"/><circle cx="526.5" cy="374.0" r="2.2"/><circle cx="595.0" cy="331.4" r="2.2"/><circle cx="536.9" cy="382.3" r="2.2"/><circle cx="584.3" cy="336.4" r="2.2"/><circle cx="585.3" cy="389.9" r="2.2"/><circle cx="551.8" cy="352.3" r="2.2"/><circle cx="595.6" cy="357.2" r="2.2"/><circle cx="558.5" cy="332.7" r="2.2"/><circle cx="510.1" cy="373.2" r="2.2"/><circle cx="589.6" cy="328.0" r="2.2"/><circle cx="596.8" cy="330.4" r="2.2"/><circle cx="552.6" cy="353.4" r="2.2"/><circle cx="571.2" cy="386.4" r="2.2"/><circle cx="599.9" cy="324.1" r="2.2"/><circle cx="512.9" cy="347.6" r="2.2"/><circle cx="553.3" cy="316.6" r="2.2"/><circle cx="522.4" cy="370.5" r="2.2"/><circle cx="533.7" cy="342.1" r="2.2"/><circle cx="544.0" cy="349.5" r="2.2"/><circle cx="543.7" cy="373.4" r="2.2"/><circle cx="584.9" cy="332.9" r="2.2"/><circle cx="511.8" cy="331.2" r="2.2"/><circle cx="543.5" cy="330.6" r="2.2"/><circle cx="533.7" cy="392.0" r="2.2"/><circle cx="581.6" cy="335.0" r="2.2"/><circle cx="537.7" cy="331.1" r="2.2"/><circle cx="558.2" cy="392.5" r="2.2"/><circle cx="561.5" cy="328.8" r="2.2"/><circle cx="562.5" cy="389.9" r="2.2"/><circle cx="560.5" cy="381.2" r="2.2"/><circle cx="542.2" cy="388.5" r="2.2"/><circle cx="536.4" cy="328.8" r="2.2"/><circle cx="586.6" cy="373.2" r="2.2"/><circle cx="502.9" cy="322.2" r="2.2"/><circle cx="548.0" cy="334.8" r="2.2"/><circle cx="517.8" cy="328.2" r="2.2"/><circle cx="524.8" cy="394.5" r="2.2"/><circle cx="594.2" cy="367.4" r="2.2"/><circle cx="582.7" cy="377.9" r="2.2"/><circle cx="544.7" cy="321.4" r="2.2"/><circle cx="539.3" cy="331.5" r="2.2"/><circle cx="579.0" cy="369.1" r="2.2"/><circle cx="504.4" cy="336.2" r="2.2"/><circle cx="522.6" cy="385.1" r="2.2"/><circle cx="594.2" cy="370.4" r="2.2"/><circle cx="551.3" cy="329.2" r="2.2"/><circle cx="553.9" cy="315.0" r="2.2"/><circle cx="631.7" cy="372.2" r="2.2"/><circle cx="541.0" cy="354.5" r="2.2"/><circle cx="499.5" cy="342.5" r="2.2"/><circle cx="539.0" cy="419.4" r="2.2"/><circle cx="581.2" cy="326.6" r="2.2"/><circle cx="547.0" cy="360.3" r="2.2"/><circle cx="532.4" cy="351.3" r="2.2"/><circle cx="545.3" cy="319.9" r="2.2"/><circle cx="564.7" cy="343.5" r="2.2"/><circle cx="503.8" cy="354.2" r="2.2"/><circle cx="551.8" cy="322.4" r="2.2"/><circle cx="523.0" cy="325.2" r="2.2"/><circle cx="513.9" cy="337.3" r="2.2"/><circle cx="573.9" cy="333.7" r="2.2"/><circle cx="543.9" cy="326.9" r="2.2"/></g>
<polyline points="400.14,444.37 401.45,439.30 402.77,434.50 404.09,429.95 405.40,425.62 406.72,421.50 408.04,417.58 409.35,413.84 410.67,410.27 411.99,406.86 413.31,403.61 414.62,400.49 415.94,397.51 417.26,394.66 418.57,391.93 419.89,389.31 421.21,386.80 422.52,384.39 423.84,382.08 425.16,379.86 426.47,377.73 427.79,375.68 429.11,373.71 430.42,371.82 431.74,370.00 433.06,368.25 434.38,366.57 435.69,364.95 437.01,363.39 438.33,361.89 439.64,360.45 440.96,359.06 442.28,357.72 443.59,356.42 444.91,355.18 446.23,353.98 447.54,352.82 448.86,351.71 450.18,350.63 451.50,349.59 452.81,348.59 454.13,347.62 455.45,346.69 456.76,345.79 458.08,344.92 459.40,344.08 460.71,343.27 462.03,342.49 463.35,341.73 464.66,341.00 465.98,340.30 467.30,339.62 468.61,338.96 469.93,338.32 471.25,337.71 472.57,337.11 473.88,336.54 475.20,335.98 476.52,335.44 477.83,334.92 479.15,334.42 480.47,333.93 481.78,333.46 483.10,333.01 484.42,332.57 485.73,332.14 487.05,331.73 488.37,331.33 489.69,330.94 491.00,330.57 492.32,330.21 493.64,329.86 494.95,329.52 496.27,329.19 497.59,328.87 498.90,328.56 500.22,328.27 501.54,327.98 502.85,327.70 504.17,327.43 505.49,327.16 506.80,326.91 508.12,326.66 509.44,326.43 510.76,326.19 512.07,325.97 513.39,325.75 514.71,325.54 516.02,325.34 517.34,325.14 518.66,324.95 519.97,324.76 521.29,324.58 522.61,324.41 523.92,324.24 525.24,324.08 526.56,323.92 527.88,323.76 529.19,323.61 530.51,323.47 531.83,323.33 533.14,323.19 534.46,323.06 535.78,322.93 537.09,322.81 538.41,322.68 539.73,322.57 541.04,322.45 542.36,322.34 543.68,322.24 545.00,322.13 546.31,322.03 547.63,321.93 548.95,321.84 550.26,321.75 551.58,321.66 552.90,321.57 554.21,321.49 555.53,321.40 556.85,321.33 558.16,321.25 559.48,321.17 560.80,321.10 562.11,321.03 563.43,320.96 564.75,320.90 566.07,320.83 567.38,320.77 568.70,320.71 570.02,320.65 571.33,320.59 572.65,320.54 573.97,320.48 575.28,320.43 576.60,320.38 577.92,320.33 579.23,320.28 580.55,320.23 581.87,320.19 583.19,320.14 584.50,320.10 585.82,320.06 587.14,320.02 588.45,319.98 589.77,319.94 591.09,319.90 592.40,319.87 593.72,319.83 595.04,319.80 596.35,319.77 597.67,319.73 598.99,319.70 600.30,319.67 601.62,319.64 602.94,319.61 604.26,319.59 605.57,319.56 606.89,319.53 608.21,319.51 609.52,319.48 610.84,319.46 612.16,319.44 613.47,319.41 614.79,319.39 616.11,319.37 617.42,319.35 618.74,319.33 620.06,319.31 621.38,319.29 622.69,319.27 624.01,319.25 625.33,319.23 626.64,319.22 627.96,319.20 629.28,319.18 630.59,319.17 631.91,319.15 633.23,319.14 634.54,319.12 635.86,319.11 637.18,319.09 638.49,319.08 639.81,319.07 641.13,319.06 642.45,319.04 643.76,319.03 645.08,319.02 646.40,319.01 647.71,319.00 649.03,318.99 650.35,318.98 651.66,318.97 652.98,318.96 654.30,318.95 655.61,318.94 656.93,318.93 658.25,318.92 659.57,318.91 660.88,318.90 662.20,318.89" fill="none" stroke="#000" stroke-width="1.7" stroke-linejoin="round"/>
<path d="M387.0,294.6 V450.9 M387.0,450.9 H682.5600000000001" stroke="#333" stroke-width="1.1" fill="none"/>
<path d="M387.00,450.9 v3.5 M419.84,450.9 v3.5 M452.68,450.9 v3.5 M485.52,450.9 v3.5 M518.36,450.9 v3.5 M551.20,450.9 v3.5 M584.04,450.9 v3.5 M616.88,450.9 v3.5 M649.72,450.9 v3.5 M682.56,450.9 v3.5 M403.42,450.9 v1.7 M436.26,450.9 v1.7 M469.10,450.9 v1.7 M501.94,450.9 v1.7 M534.78,450.9 v1.7 M567.62,450.9 v1.7 M600.46,450.9 v1.7 M633.30,450.9 v1.7 M666.14,450.9 v1.7 M387.0,450.90 h-3.5 M387.0,437.88 h-1.7 M387.0,424.85 h-3.5 M387.0,411.82 h-1.7 M387.0,398.80 h-3.5 M387.0,385.77 h-1.7 M387.0,372.75 h-3.5 M387.0,359.72 h-1.7 M387.0,346.70 h-3.5 M387.0,333.67 h-1.7 M387.0,320.65 h-3.5 M387.0,307.62 h-1.7 M387.0,294.60 h-3.5" stroke="#333" stroke-width="1.0" fill="none"/>
<text x="387.00" y="465.0" font-size="10.0" text-anchor="middle">0</text>
<text x="419.84" y="465.0" font-size="10.0" text-anchor="middle">1</text>
<text x="452.68" y="465.0" font-size="10.0" text-anchor="middle">2</text>
<text x="485.52" y="465.0" font-size="10.0" text-anchor="middle">3</text>
<text x="518.36" y="465.0" font-size="10.0" text-anchor="middle">4</text>
<text x="551.20" y="465.0" font-size="10.0" text-anchor="middle">5</text>
<text x="584.04" y="465.0" font-size="10.0" text-anchor="middle">6</text>
<text x="616.88" y="465.0" font-size="10.0" text-anchor="middle">7</text>
<text x="649.72" y="465.0" font-size="10.0" text-anchor="middle">8</text>
<text x="682.56" y="465.0" font-size="10.0" text-anchor="middle">9</text>
<text x="381.20" y="454.60" font-size="10.0" text-anchor="end">0.1</text>
<text x="381.20" y="428.55" font-size="10.0" text-anchor="end">0.2</text>
<text x="381.20" y="402.50" font-size="10.0" text-anchor="end">0.3</text>
<text x="381.20" y="376.45" font-size="10.0" text-anchor="end">0.4</text>
<text x="381.20" y="350.40" font-size="10.0" text-anchor="end">0.5</text>
<text x="381.20" y="324.35" font-size="10.0" text-anchor="end">0.6</text>
<text x="381.20" y="298.30" font-size="10.0" text-anchor="end">0.7</text>
<text class="s" transform="translate(534.8,487.2) scale(1,0.91)" font-size="18" text-anchor="middle">LAI</text>
<text class="s" transform="translate(361.3,372.8) rotate(-90) scale(1,1.07)" x="0" y="0" font-size="17.6" text-anchor="middle">NDRE</text>
<text class="s" x="362.7" y="268.5" font-size="18" font-weight="bold">(d)</text>
<g fill="rgba(0,128,0,0.74)"><circle cx="202.9" cy="560.8" r="2.2"/><circle cx="150.2" cy="561.0" r="2.2"/><circle cx="136.7" cy="567.2" r="2.2"/><circle cx="106.5" cy="562.0" r="2.2"/><circle cx="135.8" cy="562.6" r="2.2"/><circle cx="83.5" cy="579.3" r="2.2"/><circle cx="98.2" cy="575.7" r="2.2"/><circle cx="165.6" cy="557.4" r="2.2"/><circle cx="186.5" cy="564.2" r="2.2"/><circle cx="192.4" cy="556.5" r="2.2"/><circle cx="110.8" cy="571.4" r="2.2"/><circle cx="98.1" cy="565.6" r="2.2"/><circle cx="149.4" cy="553.5" r="2.2"/><circle cx="55.8" cy="669.6" r="2.2"/><circle cx="144.5" cy="555.9" r="2.2"/><circle cx="121.0" cy="557.0" r="2.2"/><circle cx="61.2" cy="669.7" r="2.2"/><circle cx="127.4" cy="568.7" r="2.2"/><circle cx="139.2" cy="558.9" r="2.2"/><circle cx="232.6" cy="553.4" r="2.2"/><circle cx="104.4" cy="566.5" r="2.2"/><circle cx="95.3" cy="548.6" r="2.2"/><circle cx="200.7" cy="562.9" r="2.2"/><circle cx="91.7" cy="578.0" r="2.2"/><circle cx="151.6" cy="562.6" r="2.2"/><circle cx="91.0" cy="569.4" r="2.2"/><circle cx="172.7" cy="560.9" r="2.2"/><circle cx="160.7" cy="556.5" r="2.2"/><circle cx="191.8" cy="557.1" r="2.2"/><circle cx="114.9" cy="557.2" r="2.2"/><circle cx="94.4" cy="565.9" r="2.2"/><circle cx="204.2" cy="558.4" r="2.2"/><circle cx="229.2" cy="557.1" r="2.2"/><circle cx="140.5" cy="562.4" r="2.2"/><circle cx="177.3" cy="559.6" r="2.2"/><circle cx="192.7" cy="548.4" r="2.2"/><circle cx="156.0" cy="563.9" r="2.2"/><circle cx="206.3" cy="558.1" r="2.2"/><circle cx="175.4" cy="558.8" r="2.2"/><circle cx="130.6" cy="566.1" r="2.2"/><circle cx="107.8" cy="570.9" r="2.2"/><circle cx="95.2" cy="585.0" r="2.2"/><circle cx="144.5" cy="554.5" r="2.2"/><circle cx="166.3" cy="566.4" r="2.2"/><circle cx="63.2" cy="673.8" r="2.2"/><circle cx="91.9" cy="572.4" r="2.2"/><circle cx="66.1" cy="647.2" r="2.2"/><circle cx="225.6" cy="556.0" r="2.2"/><circle cx="112.2" cy="567.6" r="2.2"/><circle cx="213.3" cy="560.2" r="2.2"/><circle cx="135.2" cy="560.8" r="2.2"/><circle cx="91.9" cy="577.7" r="2.2"/><circle cx="111.8" cy="569.0" r="2.2"/><circle cx="152.6" cy="566.8" r="2.2"/><circle cx="122.0" cy="566.2" r="2.2"/><circle cx="236.8" cy="559.7" r="2.2"/><circle cx="197.1" cy="555.8" r="2.2"/><circle cx="113.5" cy="567.3" r="2.2"/><circle cx="179.6" cy="562.3" r="2.2"/><circle cx="117.1" cy="565.8" r="2.2"/><circle cx="127.9" cy="553.3" r="2.2"/><circle cx="155.6" cy="560.1" r="2.2"/><circle cx="56.9" cy="669.4" r="2.2"/><circle cx="113.6" cy="569.6" r="2.2"/><circle cx="162.9" cy="556.9" r="2.2"/><circle cx="57.0" cy="682.4" r="2.2"/><circle cx="169.3" cy="549.4" r="2.2"/><circle cx="118.7" cy="567.4" r="2.2"/><circle cx="63.4" cy="670.1" r="2.2"/><circle cx="170.8" cy="566.1" r="2.2"/><circle cx="153.7" cy="562.2" r="2.2"/><circle cx="92.2" cy="576.4" r="2.2"/><circle cx="130.4" cy="556.5" r="2.2"/><circle cx="63.4" cy="660.2" r="2.2"/><circle cx="137.5" cy="567.9" r="2.2"/><circle cx="241.6" cy="557.5" r="2.2"/><circle cx="184.3" cy="557.3" r="2.2"/><circle cx="158.5" cy="552.5" r="2.2"/><circle cx="119.7" cy="566.2" r="2.2"/><circle cx="58.8" cy="674.6" r="2.2"/><circle cx="64.5" cy="646.8" r="2.2"/><circle cx="87.0" cy="577.2" r="2.2"/><circle cx="56.6" cy="677.6" r="2.2"/><circle cx="219.4" cy="556.6" r="2.2"/><circle cx="177.9" cy="561.6" r="2.2"/><circle cx="147.9" cy="559.6" r="2.2"/><circle cx="119.2" cy="565.3" r="2.2"/><circle cx="122.8" cy="566.6" r="2.2"/><circle cx="184.2" cy="548.3" r="2.2"/><circle cx="213.3" cy="561.8" r="2.2"/><circle cx="221.3" cy="557.1" r="2.2"/><circle cx="144.8" cy="554.6" r="2.2"/><circle cx="149.6" cy="558.6" r="2.2"/><circle cx="204.6" cy="557.6" r="2.2"/><circle cx="139.3" cy="566.1" r="2.2"/><circle cx="149.0" cy="563.0" r="2.2"/><circle cx="214.5" cy="550.1" r="2.2"/><circle cx="215.4" cy="557.3" r="2.2"/><circle cx="226.4" cy="559.0" r="2.2"/><circle cx="156.7" cy="562.6" r="2.2"/><circle cx="126.7" cy="558.6" r="2.2"/><circle cx="240.3" cy="553.3" r="2.2"/><circle cx="163.3" cy="564.1" r="2.2"/><circle cx="154.0" cy="563.2" r="2.2"/><circle cx="153.2" cy="554.6" r="2.2"/><circle cx="155.7" cy="562.1" r="2.2"/><circle cx="183.7" cy="560.3" r="2.2"/><circle cx="64.8" cy="671.5" r="2.2"/><circle cx="214.0" cy="555.7" r="2.2"/><circle cx="174.5" cy="561.5" r="2.2"/><circle cx="217.8" cy="559.7" r="2.2"/><circle cx="124.7" cy="559.6" r="2.2"/><circle cx="244.9" cy="550.0" r="2.2"/><circle cx="170.3" cy="559.5" r="2.2"/><circle cx="203.9" cy="557.5" r="2.2"/><circle cx="165.1" cy="564.3" r="2.2"/><circle cx="118.7" cy="567.5" r="2.2"/><circle cx="238.3" cy="557.9" r="2.2"/><circle cx="168.0" cy="564.0" r="2.2"/><circle cx="116.9" cy="568.7" r="2.2"/><circle cx="153.3" cy="565.2" r="2.2"/><circle cx="214.1" cy="557.9" r="2.2"/><circle cx="122.6" cy="565.9" r="2.2"/><circle cx="135.2" cy="566.1" r="2.2"/><circle cx="55.1" cy="660.8" r="2.2"/><circle cx="249.8" cy="558.9" r="2.2"/><circle cx="99.8" cy="571.8" r="2.2"/><circle cx="151.4" cy="558.9" r="2.2"/><circle cx="167.8" cy="560.5" r="2.2"/><circle cx="88.9" cy="538.7" r="2.2"/><circle cx="107.8" cy="570.4" r="2.2"/><circle cx="141.6" cy="566.4" r="2.2"/><circle cx="213.8" cy="556.7" r="2.2"/><circle cx="144.8" cy="563.3" r="2.2"/><circle cx="200.2" cy="559.0" r="2.2"/><circle cx="107.8" cy="563.4" r="2.2"/><circle cx="124.4" cy="568.0" r="2.2"/><circle cx="121.9" cy="568.9" r="2.2"/><circle cx="107.8" cy="571.8" r="2.2"/><circle cx="178.8" cy="556.6" r="2.2"/><circle cx="126.9" cy="565.8" r="2.2"/><circle cx="116.4" cy="563.1" r="2.2"/><circle cx="114.6" cy="564.9" r="2.2"/><circle cx="124.2" cy="566.9" r="2.2"/><circle cx="137.3" cy="561.2" r="2.2"/><circle cx="92.7" cy="576.7" r="2.2"/><circle cx="310.1" cy="563.4" r="2.2"/><circle cx="195.9" cy="561.0" r="2.2"/><circle cx="204.4" cy="562.1" r="2.2"/><circle cx="91.5" cy="581.5" r="2.2"/><circle cx="138.9" cy="562.4" r="2.2"/><circle cx="161.2" cy="563.5" r="2.2"/><circle cx="98.4" cy="563.7" r="2.2"/><circle cx="199.8" cy="557.3" r="2.2"/><circle cx="108.6" cy="578.1" r="2.2"/><circle cx="156.6" cy="562.3" r="2.2"/><circle cx="172.9" cy="559.9" r="2.2"/><circle cx="229.5" cy="554.9" r="2.2"/><circle cx="107.5" cy="567.3" r="2.2"/><circle cx="106.2" cy="559.1" r="2.2"/><circle cx="212.6" cy="558.8" r="2.2"/><circle cx="127.8" cy="561.1" r="2.2"/><circle cx="191.7" cy="563.0" r="2.2"/><circle cx="107.8" cy="564.5" r="2.2"/><circle cx="229.2" cy="555.3" r="2.2"/><circle cx="117.1" cy="558.7" r="2.2"/><circle cx="144.7" cy="561.7" r="2.2"/><circle cx="151.8" cy="555.6" r="2.2"/><circle cx="117.9" cy="561.8" r="2.2"/><circle cx="94.2" cy="557.0" r="2.2"/><circle cx="225.0" cy="549.4" r="2.2"/><circle cx="107.8" cy="565.9" r="2.2"/><circle cx="181.7" cy="556.0" r="2.2"/><circle cx="163.4" cy="561.5" r="2.2"/><circle cx="171.4" cy="561.4" r="2.2"/><circle cx="248.1" cy="555.9" r="2.2"/><circle cx="224.4" cy="554.8" r="2.2"/><circle cx="135.8" cy="562.7" r="2.2"/><circle cx="162.1" cy="555.0" r="2.2"/><circle cx="175.9" cy="560.2" r="2.2"/><circle cx="197.8" cy="565.6" r="2.2"/><circle cx="97.0" cy="578.3" r="2.2"/><circle cx="90.2" cy="577.7" r="2.2"/><circle cx="225.0" cy="556.3" r="2.2"/><circle cx="138.7" cy="562.7" r="2.2"/><circle cx="115.2" cy="570.1" r="2.2"/><circle cx="265.5" cy="567.8" r="2.2"/><circle cx="194.9" cy="557.5" r="2.2"/><circle cx="66.0" cy="645.9" r="2.2"/><circle cx="101.7" cy="568.4" r="2.2"/><circle cx="109.8" cy="577.3" r="2.2"/><circle cx="56.3" cy="663.6" r="2.2"/><circle cx="230.6" cy="556.7" r="2.2"/><circle cx="96.4" cy="581.8" r="2.2"/><circle cx="246.8" cy="557.3" r="2.2"/><circle cx="228.2" cy="550.5" r="2.2"/><circle cx="115.2" cy="563.2" r="2.2"/><circle cx="156.4" cy="563.1" r="2.2"/><circle cx="92.3" cy="543.8" r="2.2"/><circle cx="126.0" cy="568.0" r="2.2"/><circle cx="219.5" cy="553.2" r="2.2"/><circle cx="204.0" cy="559.9" r="2.2"/><circle cx="156.3" cy="560.9" r="2.2"/><circle cx="54.0" cy="625.8" r="2.2"/><circle cx="228.5" cy="558.5" r="2.2"/><circle cx="276.9" cy="566.4" r="2.2"/><circle cx="166.5" cy="559.1" r="2.2"/><circle cx="178.7" cy="558.5" r="2.2"/><circle cx="162.9" cy="564.1" r="2.2"/><circle cx="224.3" cy="555.4" r="2.2"/><circle cx="240.3" cy="552.5" r="2.2"/><circle cx="216.6" cy="548.4" r="2.2"/><circle cx="212.2" cy="554.9" r="2.2"/><circle cx="176.9" cy="559.2" r="2.2"/><circle cx="190.2" cy="555.9" r="2.2"/><circle cx="161.7" cy="560.5" r="2.2"/><circle cx="170.2" cy="559.0" r="2.2"/><circle cx="186.7" cy="559.5" r="2.2"/><circle cx="89.4" cy="545.7" r="2.2"/><circle cx="125.1" cy="563.0" r="2.2"/><circle cx="150.5" cy="562.7" r="2.2"/><circle cx="248.3" cy="557.7" r="2.2"/><circle cx="87.2" cy="571.2" r="2.2"/><circle cx="137.8" cy="572.2" r="2.2"/><circle cx="99.7" cy="570.0" r="2.2"/><circle cx="236.1" cy="557.0" r="2.2"/><circle cx="236.2" cy="560.9" r="2.2"/><circle cx="144.7" cy="559.9" r="2.2"/><circle cx="234.6" cy="551.1" r="2.2"/><circle cx="107.8" cy="569.2" r="2.2"/><circle cx="226.3" cy="547.6" r="2.2"/><circle cx="95.8" cy="572.2" r="2.2"/><circle cx="55.9" cy="669.2" r="2.2"/><circle cx="201.6" cy="555.8" r="2.2"/><circle cx="152.3" cy="563.7" r="2.2"/><circle cx="190.7" cy="558.3" r="2.2"/><circle cx="174.7" cy="562.6" r="2.2"/><circle cx="107.8" cy="570.7" r="2.2"/><circle cx="104.5" cy="570.0" r="2.2"/><circle cx="166.6" cy="559.2" r="2.2"/><circle cx="151.3" cy="559.7" r="2.2"/><circle cx="225.2" cy="565.0" r="2.2"/><circle cx="177.0" cy="564.3" r="2.2"/><circle cx="190.3" cy="548.7" r="2.2"/><circle cx="237.0" cy="561.4" r="2.2"/><circle cx="127.3" cy="568.1" r="2.2"/><circle cx="154.3" cy="568.2" r="2.2"/><circle cx="113.7" cy="572.8" r="2.2"/><circle cx="109.8" cy="565.2" r="2.2"/><circle cx="60.2" cy="678.4" r="2.2"/><circle cx="194.1" cy="564.1" r="2.2"/><circle cx="53.0" cy="669.6" r="2.2"/><circle cx="160.2" cy="561.9" r="2.2"/><circle cx="134.2" cy="569.2" r="2.2"/><circle cx="151.4" cy="560.4" r="2.2"/><circle cx="145.3" cy="565.1" r="2.2"/><circle cx="119.7" cy="567.9" r="2.2"/><circle cx="196.1" cy="558.3" r="2.2"/><circle cx="145.1" cy="561.4" r="2.2"/><circle cx="241.6" cy="554.5" r="2.2"/><circle cx="59.1" cy="672.9" r="2.2"/><circle cx="109.3" cy="571.1" r="2.2"/><circle cx="103.0" cy="565.2" r="2.2"/><circle cx="219.9" cy="559.5" r="2.2"/><circle cx="127.0" cy="567.4" r="2.2"/><circle cx="147.4" cy="550.9" r="2.2"/><circle cx="201.2" cy="555.2" r="2.2"/><circle cx="147.2" cy="562.7" r="2.2"/><circle cx="81.6" cy="581.2" r="2.2"/><circle cx="59.6" cy="668.7" r="2.2"/><circle cx="132.1" cy="562.2" r="2.2"/><circle cx="189.6" cy="555.2" r="2.2"/><circle cx="130.9" cy="561.1" r="2.2"/><circle cx="131.4" cy="565.4" r="2.2"/><circle cx="315.7" cy="563.0" r="2.2"/><circle cx="111.7" cy="572.6" r="2.2"/><circle cx="146.2" cy="558.5" r="2.2"/><circle cx="162.7" cy="560.9" r="2.2"/><circle cx="193.4" cy="556.1" r="2.2"/><circle cx="107.4" cy="557.7" r="2.2"/><circle cx="198.4" cy="562.5" r="2.2"/><circle cx="151.6" cy="562.3" r="2.2"/><circle cx="197.1" cy="561.9" r="2.2"/><circle cx="95.9" cy="575.9" r="2.2"/><circle cx="206.9" cy="560.8" r="2.2"/><circle cx="134.7" cy="564.0" r="2.2"/><circle cx="166.2" cy="561.4" r="2.2"/><circle cx="100.3" cy="574.9" r="2.2"/><circle cx="101.6" cy="578.2" r="2.2"/><circle cx="152.3" cy="558.5" r="2.2"/><circle cx="213.8" cy="557.7" r="2.2"/><circle cx="119.8" cy="565.5" r="2.2"/><circle cx="107.8" cy="567.4" r="2.2"/><circle cx="182.9" cy="558.7" r="2.2"/><circle cx="160.7" cy="560.6" r="2.2"/><circle cx="205.0" cy="559.4" r="2.2"/><circle cx="158.7" cy="560.3" r="2.2"/><circle cx="170.7" cy="561.8" r="2.2"/><circle cx="166.5" cy="560.7" r="2.2"/><circle cx="110.9" cy="573.8" r="2.2"/><circle cx="137.0" cy="561.8" r="2.2"/><circle cx="94.1" cy="571.1" r="2.2"/><circle cx="168.1" cy="557.7" r="2.2"/><circle cx="227.0" cy="557.1" r="2.2"/><circle cx="166.5" cy="562.7" r="2.2"/><circle cx="168.0" cy="556.2" r="2.2"/><circle cx="199.6" cy="554.9" r="2.2"/><circle cx="169.4" cy="560.7" r="2.2"/><circle cx="144.1" cy="562.9" r="2.2"/><circle cx="61.2" cy="659.7" r="2.2"/><circle cx="152.6" cy="565.6" r="2.2"/><circle cx="241.3" cy="552.7" r="2.2"/><circle cx="63.8" cy="659.3" r="2.2"/><circle cx="146.5" cy="564.9" r="2.2"/><circle cx="198.9" cy="547.5" r="2.2"/><circle cx="191.8" cy="561.3" r="2.2"/><circle cx="245.9" cy="555.0" r="2.2"/><circle cx="162.7" cy="566.3" r="2.2"/><circle cx="211.7" cy="556.2" r="2.2"/><circle cx="231.5" cy="558.3" r="2.2"/><circle cx="97.5" cy="562.3" r="2.2"/><circle cx="206.7" cy="551.9" r="2.2"/><circle cx="187.4" cy="551.4" r="2.2"/><circle cx="124.3" cy="559.1" r="2.2"/><circle cx="199.4" cy="548.5" r="2.2"/><circle cx="162.7" cy="565.5" r="2.2"/><circle cx="194.7" cy="561.1" r="2.2"/><circle cx="104.9" cy="579.6" r="2.2"/><circle cx="150.7" cy="563.2" r="2.2"/><circle cx="144.0" cy="563.3" r="2.2"/><circle cx="100.9" cy="577.0" r="2.2"/><circle cx="242.7" cy="551.9" r="2.2"/><circle cx="157.3" cy="565.8" r="2.2"/><circle cx="197.9" cy="557.1" r="2.2"/><circle cx="193.6" cy="556.2" r="2.2"/><circle cx="190.7" cy="561.7" r="2.2"/><circle cx="156.5" cy="565.9" r="2.2"/><circle cx="180.1" cy="559.7" r="2.2"/><circle cx="196.9" cy="555.3" r="2.2"/><circle cx="233.9" cy="554.2" r="2.2"/><circle cx="157.3" cy="555.2" r="2.2"/><circle cx="166.0" cy="557.6" r="2.2"/></g>
<g fill="rgba(255,128,0,0.74)"><circle cx="216.0" cy="595.6" r="2.2"/><circle cx="171.7" cy="561.8" r="2.2"/><circle cx="284.5" cy="563.1" r="2.2"/><circle cx="155.3" cy="572.1" r="2.2"/><circle cx="200.5" cy="575.3" r="2.2"/><circle cx="230.1" cy="560.8" r="2.2"/><circle cx="180.9" cy="581.0" r="2.2"/><circle cx="190.1" cy="571.0" r="2.2"/><circle cx="131.2" cy="576.6" r="2.2"/><circle cx="216.7" cy="564.0" r="2.2"/><circle cx="285.2" cy="568.8" r="2.2"/><circle cx="246.1" cy="571.5" r="2.2"/><circle cx="174.0" cy="567.6" r="2.2"/><circle cx="185.9" cy="562.7" r="2.2"/><circle cx="174.9" cy="561.8" r="2.2"/><circle cx="208.0" cy="555.7" r="2.2"/><circle cx="217.7" cy="583.1" r="2.2"/><circle cx="240.1" cy="584.0" r="2.2"/><circle cx="159.6" cy="592.4" r="2.2"/><circle cx="217.6" cy="577.6" r="2.2"/><circle cx="197.4" cy="563.6" r="2.2"/><circle cx="189.1" cy="569.5" r="2.2"/><circle cx="158.0" cy="607.1" r="2.2"/><circle cx="154.5" cy="622.2" r="2.2"/><circle cx="155.1" cy="608.3" r="2.2"/><circle cx="225.9" cy="559.7" r="2.2"/><circle cx="206.1" cy="571.5" r="2.2"/><circle cx="173.9" cy="566.7" r="2.2"/><circle cx="227.8" cy="589.6" r="2.2"/><circle cx="165.3" cy="564.0" r="2.2"/><circle cx="192.8" cy="566.3" r="2.2"/><circle cx="186.2" cy="576.0" r="2.2"/><circle cx="157.3" cy="571.1" r="2.2"/><circle cx="157.9" cy="566.3" r="2.2"/><circle cx="227.4" cy="562.1" r="2.2"/><circle cx="198.8" cy="559.3" r="2.2"/><circle cx="206.4" cy="563.2" r="2.2"/><circle cx="205.9" cy="575.8" r="2.2"/><circle cx="187.2" cy="596.9" r="2.2"/><circle cx="158.3" cy="561.8" r="2.2"/><circle cx="234.7" cy="564.7" r="2.2"/><circle cx="151.2" cy="567.0" r="2.2"/><circle cx="224.7" cy="593.0" r="2.2"/><circle cx="206.1" cy="594.6" r="2.2"/><circle cx="187.2" cy="563.5" r="2.2"/><circle cx="208.5" cy="566.9" r="2.2"/><circle cx="207.4" cy="556.6" r="2.2"/><circle cx="180.9" cy="561.1" r="2.2"/><circle cx="208.9" cy="566.1" r="2.2"/><circle cx="230.4" cy="564.1" r="2.2"/><circle cx="178.8" cy="567.4" r="2.2"/><circle cx="159.1" cy="578.2" r="2.2"/><circle cx="180.1" cy="568.7" r="2.2"/><circle cx="229.4" cy="579.6" r="2.2"/><circle cx="229.7" cy="562.9" r="2.2"/><circle cx="204.4" cy="575.2" r="2.2"/><circle cx="189.7" cy="570.4" r="2.2"/><circle cx="209.3" cy="591.7" r="2.2"/><circle cx="196.2" cy="587.3" r="2.2"/><circle cx="218.4" cy="571.1" r="2.2"/><circle cx="232.8" cy="587.0" r="2.2"/><circle cx="204.7" cy="610.2" r="2.2"/><circle cx="174.2" cy="595.7" r="2.2"/><circle cx="211.0" cy="580.9" r="2.2"/><circle cx="218.0" cy="577.5" r="2.2"/><circle cx="194.5" cy="571.9" r="2.2"/><circle cx="175.9" cy="581.3" r="2.2"/><circle cx="222.9" cy="572.1" r="2.2"/><circle cx="242.1" cy="564.1" r="2.2"/><circle cx="176.1" cy="591.5" r="2.2"/><circle cx="184.5" cy="576.5" r="2.2"/><circle cx="195.7" cy="594.2" r="2.2"/><circle cx="184.9" cy="569.7" r="2.2"/><circle cx="202.2" cy="577.6" r="2.2"/><circle cx="183.4" cy="564.4" r="2.2"/><circle cx="168.1" cy="587.9" r="2.2"/><circle cx="222.8" cy="584.4" r="2.2"/><circle cx="147.4" cy="565.0" r="2.2"/><circle cx="206.8" cy="557.6" r="2.2"/><circle cx="198.3" cy="582.4" r="2.2"/><circle cx="257.8" cy="558.7" r="2.2"/><circle cx="177.5" cy="568.1" r="2.2"/><circle cx="195.3" cy="559.9" r="2.2"/><circle cx="214.0" cy="589.1" r="2.2"/><circle cx="186.2" cy="562.1" r="2.2"/><circle cx="232.5" cy="581.2" r="2.2"/><circle cx="182.1" cy="576.1" r="2.2"/><circle cx="209.0" cy="589.2" r="2.2"/><circle cx="254.1" cy="566.6" r="2.2"/><circle cx="251.7" cy="564.7" r="2.2"/><circle cx="225.6" cy="582.3" r="2.2"/><circle cx="249.1" cy="574.3" r="2.2"/><circle cx="176.5" cy="561.2" r="2.2"/><circle cx="253.4" cy="563.5" r="2.2"/><circle cx="183.0" cy="571.8" r="2.2"/><circle cx="200.2" cy="560.2" r="2.2"/><circle cx="220.3" cy="563.4" r="2.2"/><circle cx="182.4" cy="560.2" r="2.2"/><circle cx="212.0" cy="567.9" r="2.2"/><circle cx="190.4" cy="589.6" r="2.2"/><circle cx="194.2" cy="571.7" r="2.2"/><circle cx="155.0" cy="587.8" r="2.2"/><circle cx="260.5" cy="567.8" r="2.2"/><circle cx="253.7" cy="562.8" r="2.2"/><circle cx="180.4" cy="564.0" r="2.2"/><circle cx="231.2" cy="564.6" r="2.2"/><circle cx="200.4" cy="620.2" r="2.2"/><circle cx="207.7" cy="597.1" r="2.2"/><circle cx="180.2" cy="571.7" r="2.2"/><circle cx="215.0" cy="565.5" r="2.2"/><circle cx="172.3" cy="566.1" r="2.2"/><circle cx="229.4" cy="582.7" r="2.2"/><circle cx="196.1" cy="589.7" r="2.2"/><circle cx="242.5" cy="566.4" r="2.2"/><circle cx="242.7" cy="564.4" r="2.2"/><circle cx="218.4" cy="559.9" r="2.2"/><circle cx="177.3" cy="567.2" r="2.2"/><circle cx="223.1" cy="559.1" r="2.2"/><circle cx="242.2" cy="566.5" r="2.2"/><circle cx="205.6" cy="569.0" r="2.2"/><circle cx="211.3" cy="564.1" r="2.2"/><circle cx="256.4" cy="576.1" r="2.2"/><circle cx="181.2" cy="566.6" r="2.2"/><circle cx="185.9" cy="569.9" r="2.2"/><circle cx="153.0" cy="569.6" r="2.2"/><circle cx="211.7" cy="597.5" r="2.2"/><circle cx="236.2" cy="587.1" r="2.2"/><circle cx="237.8" cy="563.4" r="2.2"/><circle cx="232.9" cy="567.1" r="2.2"/><circle cx="225.8" cy="564.8" r="2.2"/><circle cx="207.7" cy="573.0" r="2.2"/><circle cx="250.1" cy="581.6" r="2.2"/><circle cx="235.1" cy="562.7" r="2.2"/><circle cx="157.0" cy="571.8" r="2.2"/><circle cx="188.2" cy="565.1" r="2.2"/><circle cx="233.1" cy="570.9" r="2.2"/><circle cx="202.6" cy="570.9" r="2.2"/><circle cx="189.7" cy="579.7" r="2.2"/><circle cx="156.4" cy="557.3" r="2.2"/><circle cx="198.9" cy="576.7" r="2.2"/><circle cx="187.0" cy="579.0" r="2.2"/><circle cx="243.1" cy="565.7" r="2.2"/><circle cx="197.5" cy="569.2" r="2.2"/><circle cx="257.1" cy="559.8" r="2.2"/><circle cx="204.8" cy="578.3" r="2.2"/><circle cx="231.1" cy="555.1" r="2.2"/><circle cx="197.2" cy="583.5" r="2.2"/><circle cx="319.6" cy="575.5" r="2.2"/><circle cx="284.5" cy="566.1" r="2.2"/><circle cx="244.2" cy="574.6" r="2.2"/><circle cx="238.1" cy="563.8" r="2.2"/><circle cx="187.2" cy="572.6" r="2.2"/><circle cx="145.7" cy="572.6" r="2.2"/><circle cx="198.9" cy="580.0" r="2.2"/><circle cx="195.2" cy="554.9" r="2.2"/><circle cx="158.4" cy="561.3" r="2.2"/><circle cx="194.9" cy="578.6" r="2.2"/><circle cx="249.2" cy="568.3" r="2.2"/><circle cx="205.3" cy="561.1" r="2.2"/><circle cx="211.5" cy="581.8" r="2.2"/><circle cx="196.9" cy="596.0" r="2.2"/><circle cx="161.1" cy="572.0" r="2.2"/><circle cx="191.2" cy="565.9" r="2.2"/><circle cx="135.4" cy="630.0" r="2.2"/><circle cx="225.1" cy="580.4" r="2.2"/><circle cx="196.2" cy="562.1" r="2.2"/><circle cx="248.5" cy="567.9" r="2.2"/><circle cx="235.0" cy="589.6" r="2.2"/><circle cx="225.6" cy="562.0" r="2.2"/><circle cx="199.2" cy="572.9" r="2.2"/><circle cx="201.5" cy="568.8" r="2.2"/><circle cx="186.4" cy="567.0" r="2.2"/><circle cx="211.1" cy="566.2" r="2.2"/><circle cx="163.6" cy="582.9" r="2.2"/><circle cx="168.7" cy="576.4" r="2.2"/><circle cx="181.3" cy="577.7" r="2.2"/><circle cx="166.4" cy="567.6" r="2.2"/><circle cx="153.3" cy="562.3" r="2.2"/><circle cx="180.9" cy="569.1" r="2.2"/><circle cx="219.9" cy="563.6" r="2.2"/><circle cx="181.6" cy="563.2" r="2.2"/><circle cx="184.8" cy="578.8" r="2.2"/><circle cx="198.2" cy="560.2" r="2.2"/><circle cx="216.1" cy="563.4" r="2.2"/><circle cx="221.3" cy="581.6" r="2.2"/><circle cx="197.8" cy="563.8" r="2.2"/><circle cx="175.7" cy="570.4" r="2.2"/><circle cx="256.7" cy="562.7" r="2.2"/><circle cx="185.0" cy="564.2" r="2.2"/><circle cx="245.4" cy="564.9" r="2.2"/><circle cx="187.5" cy="569.2" r="2.2"/><circle cx="234.4" cy="555.5" r="2.2"/><circle cx="201.0" cy="562.7" r="2.2"/><circle cx="250.8" cy="561.3" r="2.2"/><circle cx="300.9" cy="565.0" r="2.2"/><circle cx="161.6" cy="566.9" r="2.2"/><circle cx="185.0" cy="593.3" r="2.2"/><circle cx="176.6" cy="587.7" r="2.2"/><circle cx="195.7" cy="573.8" r="2.2"/><circle cx="225.2" cy="569.0" r="2.2"/><circle cx="181.2" cy="564.6" r="2.2"/><circle cx="222.2" cy="566.4" r="2.2"/><circle cx="165.4" cy="566.5" r="2.2"/><circle cx="213.1" cy="571.2" r="2.2"/><circle cx="216.5" cy="563.4" r="2.2"/><circle cx="170.0" cy="563.8" r="2.2"/><circle cx="198.9" cy="585.9" r="2.2"/><circle cx="247.7" cy="582.3" r="2.2"/><circle cx="285.2" cy="584.0" r="2.2"/><circle cx="197.5" cy="593.8" r="2.2"/><circle cx="224.6" cy="565.6" r="2.2"/><circle cx="206.4" cy="566.8" r="2.2"/><circle cx="167.4" cy="568.0" r="2.2"/><circle cx="174.8" cy="581.9" r="2.2"/><circle cx="250.3" cy="567.4" r="2.2"/><circle cx="178.3" cy="598.8" r="2.2"/><circle cx="224.8" cy="585.0" r="2.2"/><circle cx="178.6" cy="566.7" r="2.2"/><circle cx="223.3" cy="561.6" r="2.2"/><circle cx="218.2" cy="566.4" r="2.2"/><circle cx="187.0" cy="563.0" r="2.2"/><circle cx="185.0" cy="569.9" r="2.2"/><circle cx="211.2" cy="563.2" r="2.2"/><circle cx="233.6" cy="567.5" r="2.2"/><circle cx="238.6" cy="592.8" r="2.2"/><circle cx="216.3" cy="564.7" r="2.2"/><circle cx="189.5" cy="584.2" r="2.2"/><circle cx="169.8" cy="567.3" r="2.2"/><circle cx="204.8" cy="565.4" r="2.2"/><circle cx="192.9" cy="572.5" r="2.2"/><circle cx="234.2" cy="603.6" r="2.2"/><circle cx="249.3" cy="564.9" r="2.2"/><circle cx="238.4" cy="561.9" r="2.2"/><circle cx="171.3" cy="562.7" r="2.2"/><circle cx="166.9" cy="569.7" r="2.2"/><circle cx="189.9" cy="564.4" r="2.2"/><circle cx="229.8" cy="566.7" r="2.2"/><circle cx="270.4" cy="564.6" r="2.2"/><circle cx="230.7" cy="562.4" r="2.2"/><circle cx="238.8" cy="595.8" r="2.2"/><circle cx="259.7" cy="560.2" r="2.2"/><circle cx="231.5" cy="567.8" r="2.2"/><circle cx="221.8" cy="565.7" r="2.2"/><circle cx="248.7" cy="583.8" r="2.2"/><circle cx="258.8" cy="566.6" r="2.2"/><circle cx="205.3" cy="570.8" r="2.2"/><circle cx="165.4" cy="580.1" r="2.2"/><circle cx="197.0" cy="565.9" r="2.2"/><circle cx="180.0" cy="583.6" r="2.2"/><circle cx="256.1" cy="570.5" r="2.2"/><circle cx="247.7" cy="580.4" r="2.2"/><circle cx="192.5" cy="628.2" r="2.2"/></g>
<polyline points="56.36,690.60 57.59,678.82 58.90,667.36 60.22,657.01 61.54,647.68 62.85,639.26 64.17,631.66 65.49,624.81 66.81,618.62 68.12,613.04 69.44,608.01 70.76,603.47 72.07,599.37 73.39,595.67 74.71,592.34 76.02,589.33 77.34,586.61 78.66,584.16 79.97,581.95 81.29,579.96 82.61,578.16 83.92,576.54 85.24,575.07 86.56,573.75 87.88,572.56 89.19,571.49 90.51,570.52 91.83,569.64 93.14,568.85 94.46,568.14 95.78,567.49 97.09,566.91 98.41,566.39 99.73,565.92 101.04,565.49 102.36,565.11 103.68,564.76 105.00,564.45 106.31,564.17 107.63,563.91 108.95,563.68 110.26,563.48 111.58,563.29 112.90,563.12 114.21,562.97 115.53,562.83 116.85,562.71 118.16,562.59 119.48,562.49 120.80,562.40 122.11,562.32 123.43,562.25 124.75,562.18 126.07,562.12 127.38,562.06 128.70,562.02 130.02,561.97 131.33,561.93 132.65,561.90 133.97,561.86 135.28,561.83 136.60,561.81 137.92,561.78 139.23,561.76 140.55,561.74 141.87,561.72 143.19,561.71 144.50,561.69 145.82,561.68 147.14,561.67 148.45,561.66 149.77,561.65 151.09,561.64 152.40,561.63 153.72,561.63 155.04,561.62 156.35,561.61 157.67,561.61 158.99,561.61 160.30,561.60 161.62,561.60 162.94,561.59 164.26,561.59 165.57,561.59 166.89,561.59 168.21,561.58 169.52,561.58 170.84,561.58 172.16,561.58 173.47,561.58 174.79,561.58 176.11,561.57 177.42,561.57 178.74,561.57 180.06,561.57 181.38,561.57 182.69,561.57 184.01,561.57 185.33,561.57 186.64,561.57 187.96,561.57 189.28,561.57 190.59,561.57 191.91,561.57 193.23,561.57 194.54,561.57 195.86,561.57 197.18,561.56 198.50,561.56 199.81,561.56 201.13,561.56 202.45,561.56 203.76,561.56 205.08,561.56 206.40,561.56 207.71,561.56 209.03,561.56 210.35,561.56 211.66,561.56 212.98,561.56 214.30,561.56 215.61,561.56 216.93,561.56 218.25,561.56 219.57,561.56 220.88,561.56 222.20,561.56 223.52,561.56 224.83,561.56 226.15,561.56 227.47,561.56 228.78,561.56 230.10,561.56 231.42,561.56 232.73,561.56 234.05,561.56 235.37,561.56 236.69,561.56 238.00,561.56 239.32,561.56 240.64,561.56 241.95,561.56 243.27,561.56 244.59,561.56 245.90,561.56 247.22,561.56 248.54,561.56 249.85,561.56 251.17,561.56 252.49,561.56 253.80,561.56 255.12,561.56 256.44,561.56 257.76,561.56 259.07,561.56 260.39,561.56 261.71,561.56 263.02,561.56 264.34,561.56 265.66,561.56 266.97,561.56 268.29,561.56 269.61,561.56 270.92,561.56 272.24,561.56 273.56,561.56 274.88,561.56 276.19,561.56 277.51,561.56 278.83,561.56 280.14,561.56 281.46,561.56 282.78,561.56 284.09,561.56 285.41,561.56 286.73,561.56 288.04,561.56 289.36,561.56 290.68,561.56 291.99,561.56 293.31,561.56 294.63,561.56 295.95,561.56 297.26,561.56 298.58,561.56 299.90,561.56 301.21,561.56 302.53,561.56 303.85,561.56 305.16,561.56 306.48,561.56 307.80,561.56 309.11,561.56 310.43,561.56 311.75,561.56 313.07,561.56 314.38,561.56 315.70,561.56" fill="none" stroke="#000" stroke-width="1.7" stroke-linejoin="round"/>
<path d="M40.5,534.7 V690.6 M40.5,690.6 H336.06000000000006" stroke="#333" stroke-width="1.1" fill="none"/>
<path d="M40.50,690.6 v3.5 M73.34,690.6 v3.5 M106.18,690.6 v3.5 M139.02,690.6 v3.5 M171.86,690.6 v3.5 M204.70,690.6 v3.5 M237.54,690.6 v3.5 M270.38,690.6 v3.5 M303.22,690.6 v3.5 M336.06,690.6 v3.5 M56.92,690.6 v1.7 M89.76,690.6 v1.7 M122.60,690.6 v1.7 M155.44,690.6 v1.7 M188.28,690.6 v1.7 M221.12,690.6 v1.7 M253.96,690.6 v1.7 M286.80,690.6 v1.7 M319.64,690.6 v1.7 M40.5,690.60 h-1.7 M40.5,678.61 h-3.5 M40.5,666.62 h-1.7 M40.5,654.62 h-3.5 M40.5,642.63 h-1.7 M40.5,630.64 h-3.5 M40.5,618.65 h-1.7 M40.5,606.65 h-3.5 M40.5,594.66 h-1.7 M40.5,582.67 h-3.5 M40.5,570.68 h-1.7 M40.5,558.68 h-3.5 M40.5,546.69 h-1.7 M40.5,534.70 h-3.5" stroke="#333" stroke-width="1.0" fill="none"/>
<text x="40.50" y="704.7" font-size="10.0" text-anchor="middle">0</text>
<text x="73.34" y="704.7" font-size="10.0" text-anchor="middle">1</text>
<text x="106.18" y="704.7" font-size="10.0" text-anchor="middle">2</text>
<text x="139.02" y="704.7" font-size="10.0" text-anchor="middle">3</text>
<text x="171.86" y="704.7" font-size="10.0" text-anchor="middle">4</text>
<text x="204.70" y="704.7" font-size="10.0" text-anchor="middle">5</text>
<text x="237.54" y="704.7" font-size="10.0" text-anchor="middle">6</text>
<text x="270.38" y="704.7" font-size="10.0" text-anchor="middle">7</text>
<text x="303.22" y="704.7" font-size="10.0" text-anchor="middle">8</text>
<text x="336.06" y="704.7" font-size="10.0" text-anchor="middle">9</text>
<text x="34.70" y="682.31" font-size="10.0" text-anchor="end">-0.2</text>
<text x="34.70" y="658.32" font-size="10.0" text-anchor="end">0.0</text>
<text x="34.70" y="634.34" font-size="10.0" text-anchor="end">0.2</text>
<text x="34.70" y="610.35" font-size="10.0" text-anchor="end">0.4</text>
<text x="34.70" y="586.37" font-size="10.0" text-anchor="end">0.6</text>
<text x="34.70" y="562.38" font-size="10.0" text-anchor="end">0.8</text>
<text x="34.70" y="538.40" font-size="10.0" text-anchor="end">1.0</text>
<text class="s" transform="translate(188.3,726.9) scale(1,0.91)" font-size="18" text-anchor="middle">LAI</text>
<text class="s" transform="translate(11.7,612.7) rotate(-90) scale(1,1.07)" x="0" y="0" font-size="17.6" text-anchor="middle">WDRVI</text>
<text class="s" x="27.7" y="513.7" font-size="18" font-weight="bold">(e)</text>
<g fill="rgba(0,128,0,0.74)"><circle cx="564.3" cy="546.0" r="2.2"/><circle cx="433.7" cy="548.8" r="2.2"/><circle cx="438.7" cy="554.1" r="2.2"/><circle cx="461.1" cy="551.1" r="2.2"/><circle cx="521.0" cy="546.6" r="2.2"/><circle cx="593.3" cy="545.0" r="2.2"/><circle cx="490.6" cy="547.9" r="2.2"/><circle cx="509.2" cy="549.7" r="2.2"/><circle cx="453.9" cy="542.9" r="2.2"/><circle cx="563.1" cy="538.8" r="2.2"/><circle cx="463.6" cy="546.9" r="2.2"/><circle cx="506.7" cy="546.9" r="2.2"/><circle cx="487.0" cy="547.7" r="2.2"/><circle cx="409.9" cy="654.5" r="2.2"/><circle cx="545.9" cy="538.6" r="2.2"/><circle cx="406.7" cy="667.7" r="2.2"/><circle cx="491.0" cy="543.5" r="2.2"/><circle cx="455.8" cy="552.1" r="2.2"/><circle cx="448.2" cy="551.3" r="2.2"/><circle cx="526.6" cy="545.5" r="2.2"/><circle cx="537.2" cy="544.7" r="2.2"/><circle cx="586.8" cy="541.8" r="2.2"/><circle cx="515.8" cy="539.0" r="2.2"/><circle cx="502.5" cy="548.3" r="2.2"/><circle cx="430.0" cy="557.0" r="2.2"/><circle cx="533.2" cy="545.4" r="2.2"/><circle cx="444.9" cy="548.5" r="2.2"/><circle cx="500.2" cy="547.2" r="2.2"/><circle cx="547.7" cy="542.9" r="2.2"/><circle cx="592.4" cy="543.5" r="2.2"/><circle cx="438.4" cy="550.0" r="2.2"/><circle cx="561.9" cy="544.4" r="2.2"/><circle cx="440.6" cy="554.5" r="2.2"/><circle cx="513.0" cy="545.1" r="2.2"/><circle cx="466.3" cy="551.0" r="2.2"/><circle cx="454.3" cy="552.6" r="2.2"/><circle cx="509.2" cy="546.3" r="2.2"/><circle cx="558.7" cy="542.8" r="2.2"/><circle cx="453.0" cy="546.1" r="2.2"/><circle cx="575.0" cy="545.4" r="2.2"/><circle cx="543.6" cy="547.0" r="2.2"/><circle cx="439.2" cy="554.3" r="2.2"/><circle cx="523.5" cy="548.4" r="2.2"/><circle cx="497.9" cy="546.1" r="2.2"/><circle cx="473.9" cy="552.4" r="2.2"/><circle cx="495.5" cy="547.8" r="2.2"/><circle cx="494.4" cy="545.7" r="2.2"/><circle cx="512.8" cy="549.8" r="2.2"/><circle cx="560.5" cy="543.4" r="2.2"/><circle cx="579.1" cy="542.2" r="2.2"/><circle cx="441.8" cy="542.6" r="2.2"/><circle cx="565.9" cy="544.1" r="2.2"/><circle cx="461.7" cy="554.3" r="2.2"/><circle cx="442.4" cy="553.6" r="2.2"/><circle cx="465.7" cy="550.9" r="2.2"/><circle cx="464.4" cy="548.8" r="2.2"/><circle cx="509.8" cy="548.3" r="2.2"/><circle cx="523.4" cy="545.2" r="2.2"/><circle cx="544.4" cy="544.0" r="2.2"/><circle cx="507.2" cy="546.1" r="2.2"/><circle cx="575.7" cy="544.6" r="2.2"/><circle cx="517.3" cy="549.5" r="2.2"/><circle cx="503.1" cy="547.2" r="2.2"/><circle cx="405.6" cy="659.7" r="2.2"/><circle cx="411.0" cy="619.8" r="2.2"/><circle cx="496.1" cy="545.0" r="2.2"/><circle cx="441.7" cy="562.7" r="2.2"/><circle cx="454.3" cy="551.7" r="2.2"/><circle cx="519.2" cy="546.3" r="2.2"/><circle cx="516.8" cy="545.4" r="2.2"/><circle cx="515.9" cy="546.2" r="2.2"/><circle cx="513.0" cy="546.1" r="2.2"/><circle cx="530.7" cy="538.3" r="2.2"/><circle cx="545.4" cy="538.0" r="2.2"/><circle cx="490.5" cy="548.1" r="2.2"/><circle cx="444.6" cy="555.6" r="2.2"/><circle cx="509.2" cy="549.2" r="2.2"/><circle cx="454.0" cy="549.7" r="2.2"/><circle cx="472.5" cy="552.0" r="2.2"/><circle cx="440.7" cy="548.2" r="2.2"/><circle cx="436.7" cy="555.4" r="2.2"/><circle cx="529.4" cy="544.9" r="2.2"/><circle cx="505.2" cy="545.9" r="2.2"/><circle cx="502.1" cy="545.9" r="2.2"/><circle cx="477.9" cy="550.0" r="2.2"/><circle cx="544.9" cy="547.4" r="2.2"/><circle cx="542.4" cy="546.4" r="2.2"/><circle cx="582.7" cy="547.0" r="2.2"/><circle cx="596.3" cy="546.0" r="2.2"/><circle cx="552.8" cy="544.8" r="2.2"/><circle cx="488.1" cy="550.2" r="2.2"/><circle cx="498.1" cy="547.5" r="2.2"/><circle cx="503.2" cy="547.4" r="2.2"/><circle cx="502.8" cy="546.4" r="2.2"/><circle cx="583.3" cy="546.3" r="2.2"/><circle cx="474.3" cy="547.5" r="2.2"/><circle cx="457.4" cy="557.2" r="2.2"/><circle cx="454.3" cy="555.4" r="2.2"/><circle cx="591.4" cy="540.3" r="2.2"/><circle cx="409.9" cy="639.8" r="2.2"/><circle cx="452.7" cy="544.0" r="2.2"/><circle cx="469.3" cy="551.4" r="2.2"/><circle cx="485.8" cy="550.1" r="2.2"/><circle cx="559.8" cy="546.2" r="2.2"/><circle cx="546.3" cy="544.2" r="2.2"/><circle cx="461.4" cy="546.2" r="2.2"/><circle cx="512.5" cy="544.2" r="2.2"/><circle cx="538.3" cy="546.6" r="2.2"/><circle cx="508.6" cy="542.6" r="2.2"/><circle cx="403.4" cy="655.2" r="2.2"/><circle cx="537.2" cy="546.9" r="2.2"/><circle cx="589.2" cy="541.5" r="2.2"/><circle cx="449.5" cy="548.8" r="2.2"/><circle cx="498.3" cy="543.1" r="2.2"/><circle cx="460.2" cy="556.2" r="2.2"/><circle cx="594.8" cy="545.3" r="2.2"/><circle cx="543.6" cy="543.2" r="2.2"/><circle cx="433.5" cy="554.9" r="2.2"/><circle cx="442.3" cy="549.8" r="2.2"/><circle cx="496.7" cy="546.5" r="2.2"/><circle cx="440.9" cy="550.8" r="2.2"/><circle cx="576.0" cy="543.1" r="2.2"/><circle cx="485.4" cy="547.8" r="2.2"/><circle cx="559.8" cy="547.2" r="2.2"/><circle cx="522.4" cy="545.8" r="2.2"/><circle cx="513.0" cy="547.4" r="2.2"/><circle cx="409.7" cy="660.0" r="2.2"/><circle cx="526.1" cy="547.1" r="2.2"/><circle cx="517.9" cy="546.6" r="2.2"/><circle cx="493.7" cy="547.7" r="2.2"/><circle cx="573.5" cy="544.5" r="2.2"/><circle cx="442.9" cy="559.5" r="2.2"/><circle cx="623.4" cy="548.9" r="2.2"/><circle cx="478.6" cy="547.9" r="2.2"/><circle cx="513.1" cy="545.2" r="2.2"/><circle cx="587.8" cy="542.0" r="2.2"/><circle cx="476.9" cy="544.5" r="2.2"/><circle cx="549.4" cy="546.4" r="2.2"/><circle cx="491.3" cy="542.6" r="2.2"/><circle cx="491.8" cy="549.3" r="2.2"/><circle cx="484.0" cy="551.3" r="2.2"/><circle cx="536.8" cy="538.6" r="2.2"/><circle cx="402.4" cy="655.2" r="2.2"/><circle cx="495.9" cy="541.8" r="2.2"/><circle cx="536.7" cy="543.2" r="2.2"/><circle cx="462.9" cy="549.8" r="2.2"/><circle cx="514.5" cy="548.2" r="2.2"/><circle cx="544.3" cy="549.4" r="2.2"/><circle cx="507.2" cy="543.5" r="2.2"/><circle cx="514.3" cy="546.0" r="2.2"/><circle cx="572.1" cy="543.8" r="2.2"/><circle cx="456.3" cy="559.5" r="2.2"/><circle cx="470.7" cy="551.5" r="2.2"/><circle cx="575.7" cy="543.4" r="2.2"/><circle cx="471.2" cy="546.8" r="2.2"/><circle cx="405.3" cy="662.4" r="2.2"/><circle cx="538.9" cy="543.6" r="2.2"/><circle cx="560.3" cy="544.6" r="2.2"/><circle cx="456.3" cy="547.8" r="2.2"/><circle cx="539.9" cy="543.4" r="2.2"/><circle cx="561.0" cy="539.8" r="2.2"/><circle cx="521.9" cy="545.0" r="2.2"/><circle cx="491.2" cy="547.1" r="2.2"/><circle cx="572.9" cy="545.7" r="2.2"/><circle cx="460.1" cy="554.2" r="2.2"/><circle cx="546.1" cy="542.6" r="2.2"/><circle cx="538.2" cy="547.7" r="2.2"/><circle cx="497.2" cy="547.9" r="2.2"/><circle cx="574.7" cy="540.4" r="2.2"/><circle cx="468.5" cy="551.2" r="2.2"/><circle cx="541.2" cy="546.5" r="2.2"/><circle cx="503.0" cy="549.5" r="2.2"/><circle cx="497.9" cy="545.2" r="2.2"/><circle cx="550.5" cy="545.9" r="2.2"/><circle cx="458.7" cy="553.1" r="2.2"/><circle cx="491.3" cy="548.1" r="2.2"/><circle cx="403.5" cy="674.4" r="2.2"/><circle cx="498.8" cy="544.9" r="2.2"/><circle cx="497.8" cy="545.7" r="2.2"/><circle cx="402.8" cy="646.9" r="2.2"/><circle cx="503.8" cy="549.5" r="2.2"/><circle cx="588.1" cy="543.1" r="2.2"/><circle cx="516.7" cy="545.0" r="2.2"/><circle cx="450.9" cy="549.5" r="2.2"/><circle cx="498.1" cy="547.3" r="2.2"/><circle cx="509.4" cy="548.3" r="2.2"/><circle cx="572.8" cy="538.5" r="2.2"/><circle cx="548.1" cy="543.2" r="2.2"/><circle cx="444.0" cy="552.9" r="2.2"/><circle cx="403.1" cy="667.4" r="2.2"/><circle cx="400.5" cy="597.1" r="2.2"/><circle cx="612.0" cy="549.8" r="2.2"/><circle cx="530.2" cy="545.9" r="2.2"/><circle cx="536.1" cy="542.8" r="2.2"/><circle cx="540.1" cy="543.4" r="2.2"/><circle cx="402.3" cy="655.7" r="2.2"/><circle cx="525.3" cy="543.5" r="2.2"/><circle cx="458.2" cy="556.3" r="2.2"/><circle cx="553.2" cy="540.8" r="2.2"/><circle cx="484.3" cy="554.0" r="2.2"/><circle cx="560.3" cy="544.0" r="2.2"/><circle cx="499.1" cy="550.1" r="2.2"/><circle cx="463.6" cy="551.4" r="2.2"/><circle cx="542.6" cy="544.8" r="2.2"/><circle cx="468.4" cy="552.9" r="2.2"/><circle cx="446.8" cy="552.5" r="2.2"/><circle cx="586.8" cy="542.4" r="2.2"/><circle cx="533.9" cy="540.3" r="2.2"/><circle cx="528.2" cy="543.2" r="2.2"/><circle cx="539.2" cy="538.5" r="2.2"/><circle cx="491.0" cy="542.6" r="2.2"/><circle cx="511.6" cy="548.4" r="2.2"/><circle cx="485.7" cy="545.5" r="2.2"/><circle cx="460.0" cy="552.7" r="2.2"/><circle cx="499.1" cy="549.4" r="2.2"/><circle cx="524.4" cy="546.7" r="2.2"/><circle cx="466.2" cy="552.5" r="2.2"/><circle cx="407.7" cy="654.5" r="2.2"/><circle cx="473.5" cy="551.6" r="2.2"/><circle cx="567.8" cy="544.4" r="2.2"/><circle cx="500.8" cy="551.0" r="2.2"/><circle cx="491.2" cy="546.0" r="2.2"/><circle cx="509.9" cy="546.6" r="2.2"/><circle cx="454.3" cy="553.5" r="2.2"/><circle cx="467.5" cy="545.5" r="2.2"/><circle cx="582.6" cy="544.6" r="2.2"/><circle cx="446.2" cy="552.8" r="2.2"/><circle cx="438.0" cy="562.3" r="2.2"/><circle cx="477.1" cy="550.5" r="2.2"/><circle cx="502.9" cy="547.8" r="2.2"/><circle cx="566.4" cy="545.9" r="2.2"/><circle cx="533.0" cy="548.4" r="2.2"/><circle cx="514.5" cy="543.3" r="2.2"/><circle cx="454.3" cy="556.3" r="2.2"/><circle cx="662.2" cy="546.8" r="2.2"/><circle cx="437.5" cy="547.1" r="2.2"/><circle cx="566.0" cy="541.9" r="2.2"/><circle cx="412.5" cy="618.1" r="2.2"/><circle cx="509.4" cy="543.7" r="2.2"/><circle cx="470.9" cy="552.1" r="2.2"/><circle cx="530.8" cy="544.0" r="2.2"/><circle cx="483.5" cy="547.5" r="2.2"/><circle cx="498.8" cy="548.2" r="2.2"/><circle cx="543.4" cy="542.9" r="2.2"/><circle cx="485.2" cy="547.9" r="2.2"/><circle cx="553.4" cy="546.5" r="2.2"/><circle cx="570.8" cy="543.4" r="2.2"/><circle cx="541.4" cy="544.3" r="2.2"/><circle cx="550.9" cy="547.3" r="2.2"/><circle cx="482.3" cy="548.1" r="2.2"/><circle cx="457.3" cy="555.7" r="2.2"/><circle cx="428.1" cy="558.8" r="2.2"/><circle cx="577.1" cy="544.3" r="2.2"/><circle cx="507.7" cy="548.0" r="2.2"/><circle cx="435.9" cy="539.0" r="2.2"/><circle cx="401.6" cy="643.0" r="2.2"/><circle cx="521.2" cy="547.3" r="2.2"/><circle cx="471.6" cy="548.9" r="2.2"/><circle cx="517.2" cy="546.8" r="2.2"/><circle cx="463.4" cy="553.3" r="2.2"/><circle cx="411.3" cy="656.2" r="2.2"/><circle cx="465.2" cy="552.3" r="2.2"/><circle cx="503.8" cy="542.7" r="2.2"/><circle cx="493.9" cy="540.2" r="2.2"/><circle cx="473.2" cy="546.0" r="2.2"/><circle cx="481.2" cy="549.0" r="2.2"/><circle cx="469.1" cy="551.0" r="2.2"/><circle cx="583.5" cy="547.4" r="2.2"/><circle cx="505.0" cy="541.0" r="2.2"/><circle cx="571.5" cy="543.9" r="2.2"/><circle cx="571.5" cy="539.5" r="2.2"/><circle cx="483.2" cy="550.9" r="2.2"/><circle cx="451.0" cy="547.6" r="2.2"/><circle cx="480.7" cy="552.3" r="2.2"/><circle cx="435.4" cy="533.8" r="2.2"/><circle cx="512.1" cy="544.0" r="2.2"/><circle cx="492.7" cy="545.1" r="2.2"/><circle cx="525.2" cy="544.7" r="2.2"/><circle cx="559.1" cy="545.3" r="2.2"/><circle cx="580.4" cy="542.8" r="2.2"/><circle cx="477.4" cy="547.4" r="2.2"/><circle cx="481.7" cy="546.9" r="2.2"/><circle cx="502.2" cy="547.1" r="2.2"/><circle cx="482.3" cy="548.1" r="2.2"/><circle cx="547.2" cy="547.7" r="2.2"/><circle cx="491.6" cy="546.9" r="2.2"/><circle cx="454.3" cy="555.7" r="2.2"/><circle cx="497.0" cy="547.6" r="2.2"/><circle cx="454.3" cy="555.6" r="2.2"/><circle cx="581.1" cy="540.9" r="2.2"/><circle cx="500.5" cy="547.9" r="2.2"/><circle cx="446.3" cy="554.1" r="2.2"/><circle cx="454.3" cy="551.0" r="2.2"/><circle cx="558.2" cy="543.7" r="2.2"/><circle cx="551.5" cy="545.6" r="2.2"/><circle cx="538.3" cy="544.0" r="2.2"/><circle cx="551.1" cy="544.4" r="2.2"/><circle cx="473.4" cy="550.6" r="2.2"/><circle cx="570.9" cy="543.0" r="2.2"/><circle cx="458.3" cy="554.0" r="2.2"/><circle cx="550.4" cy="544.4" r="2.2"/><circle cx="514.6" cy="544.2" r="2.2"/><circle cx="483.8" cy="547.1" r="2.2"/><circle cx="571.7" cy="549.4" r="2.2"/><circle cx="438.2" cy="559.8" r="2.2"/><circle cx="470.8" cy="546.5" r="2.2"/><circle cx="466.2" cy="551.4" r="2.2"/><circle cx="406.1" cy="653.5" r="2.2"/><circle cx="451.4" cy="558.8" r="2.2"/><circle cx="550.7" cy="545.0" r="2.2"/><circle cx="410.3" cy="638.4" r="2.2"/><circle cx="594.6" cy="544.2" r="2.2"/><circle cx="465.2" cy="552.3" r="2.2"/><circle cx="448.1" cy="558.3" r="2.2"/><circle cx="584.8" cy="545.2" r="2.2"/><circle cx="444.7" cy="557.1" r="2.2"/><circle cx="508.2" cy="546.1" r="2.2"/><circle cx="519.4" cy="545.6" r="2.2"/><circle cx="474.4" cy="542.6" r="2.2"/><circle cx="523.8" cy="545.5" r="2.2"/><circle cx="546.7" cy="545.2" r="2.2"/><circle cx="455.1" cy="557.2" r="2.2"/><circle cx="412.6" cy="620.0" r="2.2"/><circle cx="454.3" cy="554.6" r="2.2"/><circle cx="499.7" cy="542.4" r="2.2"/><circle cx="438.8" cy="538.2" r="2.2"/><circle cx="447.4" cy="554.7" r="2.2"/><circle cx="473.8" cy="552.0" r="2.2"/><circle cx="481.7" cy="550.3" r="2.2"/><circle cx="461.7" cy="550.0" r="2.2"/><circle cx="540.6" cy="548.4" r="2.2"/><circle cx="499.8" cy="549.1" r="2.2"/><circle cx="512.7" cy="546.6" r="2.2"/><circle cx="399.5" cy="656.6" r="2.2"/><circle cx="656.6" cy="547.0" r="2.2"/><circle cx="443.5" cy="555.9" r="2.2"/><circle cx="578.0" cy="545.3" r="2.2"/><circle cx="438.4" cy="555.4" r="2.2"/><circle cx="588.1" cy="545.0" r="2.2"/><circle cx="407.7" cy="639.8" r="2.2"/><circle cx="493.0" cy="549.1" r="2.2"/><circle cx="560.6" cy="544.8" r="2.2"/></g>
<g fill="rgba(255,128,0,0.74)"><circle cx="580.9" cy="541.8" r="2.2"/><circle cx="571.3" cy="562.4" r="2.2"/><circle cx="564.9" cy="546.0" r="2.2"/><circle cx="529.5" cy="553.2" r="2.2"/><circle cx="545.4" cy="558.9" r="2.2"/><circle cx="515.2" cy="556.4" r="2.2"/><circle cx="513.9" cy="554.4" r="2.2"/><circle cx="531.5" cy="568.0" r="2.2"/><circle cx="528.9" cy="546.6" r="2.2"/><circle cx="591.9" cy="548.3" r="2.2"/><circle cx="596.8" cy="553.0" r="2.2"/><circle cx="585.3" cy="569.7" r="2.2"/><circle cx="569.8" cy="547.6" r="2.2"/><circle cx="532.7" cy="556.2" r="2.2"/><circle cx="603.6" cy="545.8" r="2.2"/><circle cx="504.8" cy="546.0" r="2.2"/><circle cx="551.3" cy="557.8" r="2.2"/><circle cx="503.5" cy="553.2" r="2.2"/><circle cx="600.2" cy="548.6" r="2.2"/><circle cx="517.8" cy="549.2" r="2.2"/><circle cx="647.4" cy="550.6" r="2.2"/><circle cx="524.0" cy="554.3" r="2.2"/><circle cx="604.3" cy="544.7" r="2.2"/><circle cx="511.8" cy="550.6" r="2.2"/><circle cx="527.7" cy="550.9" r="2.2"/><circle cx="541.4" cy="558.0" r="2.2"/><circle cx="501.0" cy="593.1" r="2.2"/><circle cx="616.9" cy="548.0" r="2.2"/><circle cx="505.6" cy="557.7" r="2.2"/><circle cx="576.9" cy="550.0" r="2.2"/><circle cx="521.4" cy="546.0" r="2.2"/><circle cx="547.5" cy="548.8" r="2.2"/><circle cx="579.6" cy="552.5" r="2.2"/><circle cx="532.7" cy="546.2" r="2.2"/><circle cx="567.8" cy="560.1" r="2.2"/><circle cx="568.3" cy="548.8" r="2.2"/><circle cx="605.3" cy="552.2" r="2.2"/><circle cx="510.1" cy="561.0" r="2.2"/><circle cx="492.2" cy="553.7" r="2.2"/><circle cx="539.0" cy="599.6" r="2.2"/><circle cx="544.7" cy="546.5" r="2.2"/><circle cx="533.5" cy="549.2" r="2.2"/><circle cx="599.9" cy="549.3" r="2.2"/><circle cx="540.7" cy="553.1" r="2.2"/><circle cx="508.1" cy="549.7" r="2.2"/><circle cx="541.7" cy="541.5" r="2.2"/><circle cx="558.0" cy="560.2" r="2.2"/><circle cx="501.8" cy="553.4" r="2.2"/><circle cx="532.4" cy="549.0" r="2.2"/><circle cx="522.2" cy="552.2" r="2.2"/><circle cx="558.5" cy="553.6" r="2.2"/><circle cx="588.7" cy="552.2" r="2.2"/><circle cx="502.9" cy="544.6" r="2.2"/><circle cx="602.9" cy="556.2" r="2.2"/><circle cx="555.0" cy="549.7" r="2.2"/><circle cx="532.9" cy="553.1" r="2.2"/><circle cx="542.7" cy="564.0" r="2.2"/><circle cx="566.4" cy="547.3" r="2.2"/><circle cx="607.0" cy="553.3" r="2.2"/><circle cx="536.4" cy="550.5" r="2.2"/><circle cx="528.1" cy="549.5" r="2.2"/><circle cx="597.3" cy="547.2" r="2.2"/><circle cx="525.1" cy="552.9" r="2.2"/><circle cx="557.8" cy="550.0" r="2.2"/><circle cx="563.0" cy="549.3" r="2.2"/><circle cx="531.0" cy="556.5" r="2.2"/><circle cx="595.6" cy="555.0" r="2.2"/><circle cx="580.1" cy="550.1" r="2.2"/><circle cx="531.5" cy="550.4" r="2.2"/><circle cx="529.9" cy="550.7" r="2.2"/><circle cx="571.2" cy="567.8" r="2.2"/><circle cx="499.5" cy="556.4" r="2.2"/><circle cx="522.6" cy="566.8" r="2.2"/><circle cx="533.7" cy="570.4" r="2.2"/><circle cx="520.4" cy="549.5" r="2.2"/><circle cx="589.2" cy="550.1" r="2.2"/><circle cx="561.5" cy="551.4" r="2.2"/><circle cx="512.9" cy="550.2" r="2.2"/><circle cx="526.7" cy="557.6" r="2.2"/><circle cx="568.7" cy="552.1" r="2.2"/><circle cx="582.7" cy="563.8" r="2.2"/><circle cx="581.5" cy="565.5" r="2.2"/><circle cx="603.2" cy="548.5" r="2.2"/><circle cx="560.5" cy="565.2" r="2.2"/><circle cx="569.4" cy="557.6" r="2.2"/><circle cx="542.2" cy="554.6" r="2.2"/><circle cx="555.8" cy="567.0" r="2.2"/><circle cx="534.7" cy="551.2" r="2.2"/><circle cx="590.7" cy="555.2" r="2.2"/><circle cx="520.5" cy="550.2" r="2.2"/><circle cx="541.0" cy="553.2" r="2.2"/><circle cx="539.3" cy="552.3" r="2.2"/><circle cx="536.2" cy="552.2" r="2.2"/><circle cx="562.8" cy="550.6" r="2.2"/><circle cx="523.1" cy="564.3" r="2.2"/><circle cx="527.4" cy="547.6" r="2.2"/><circle cx="524.8" cy="571.7" r="2.2"/><circle cx="573.9" cy="546.2" r="2.2"/><circle cx="575.9" cy="558.6" r="2.2"/><circle cx="526.6" cy="551.0" r="2.2"/><circle cx="558.2" cy="570.8" r="2.2"/><circle cx="507.6" cy="558.4" r="2.2"/><circle cx="552.9" cy="552.6" r="2.2"/><circle cx="503.8" cy="552.7" r="2.2"/><circle cx="526.9" cy="550.3" r="2.2"/><circle cx="533.7" cy="558.3" r="2.2"/><circle cx="596.6" cy="560.0" r="2.2"/><circle cx="562.5" cy="569.6" r="2.2"/><circle cx="577.6" cy="541.4" r="2.2"/><circle cx="551.8" cy="552.5" r="2.2"/><circle cx="518.2" cy="548.4" r="2.2"/><circle cx="564.1" cy="557.2" r="2.2"/><circle cx="548.7" cy="557.3" r="2.2"/><circle cx="553.3" cy="543.9" r="2.2"/><circle cx="579.3" cy="563.8" r="2.2"/><circle cx="631.7" cy="551.1" r="2.2"/><circle cx="554.2" cy="554.0" r="2.2"/><circle cx="586.6" cy="561.7" r="2.2"/><circle cx="606.2" cy="546.1" r="2.2"/><circle cx="520.7" cy="569.6" r="2.2"/><circle cx="523.8" cy="553.4" r="2.2"/><circle cx="552.6" cy="552.9" r="2.2"/><circle cx="557.7" cy="549.2" r="2.2"/><circle cx="569.6" cy="545.3" r="2.2"/><circle cx="550.9" cy="555.6" r="2.2"/><circle cx="578.0" cy="550.3" r="2.2"/><circle cx="574.3" cy="565.5" r="2.2"/><circle cx="536.2" cy="558.7" r="2.2"/><circle cx="544.0" cy="551.3" r="2.2"/><circle cx="584.3" cy="547.2" r="2.2"/><circle cx="544.0" cy="568.4" r="2.2"/><circle cx="551.3" cy="551.3" r="2.2"/><circle cx="481.9" cy="601.3" r="2.2"/><circle cx="575.9" cy="560.8" r="2.2"/><circle cx="594.2" cy="560.5" r="2.2"/><circle cx="551.2" cy="578.9" r="2.2"/><circle cx="579.0" cy="559.8" r="2.2"/><circle cx="543.4" cy="569.8" r="2.2"/><circle cx="577.7" cy="550.3" r="2.2"/><circle cx="569.3" cy="562.0" r="2.2"/><circle cx="542.6" cy="565.6" r="2.2"/><circle cx="602.6" cy="552.2" r="2.2"/><circle cx="504.9" cy="548.3" r="2.2"/><circle cx="549.1" cy="552.6" r="2.2"/><circle cx="577.2" cy="548.3" r="2.2"/><circle cx="535.6" cy="551.6" r="2.2"/><circle cx="572.1" cy="546.1" r="2.2"/><circle cx="584.6" cy="549.6" r="2.2"/><circle cx="516.3" cy="553.6" r="2.2"/><circle cx="595.2" cy="561.6" r="2.2"/><circle cx="589.0" cy="552.0" r="2.2"/><circle cx="545.7" cy="553.9" r="2.2"/><circle cx="511.9" cy="559.0" r="2.2"/><circle cx="553.9" cy="543.0" r="2.2"/><circle cx="552.6" cy="568.9" r="2.2"/><circle cx="533.5" cy="558.3" r="2.2"/><circle cx="543.5" cy="551.9" r="2.2"/><circle cx="600.6" cy="552.2" r="2.2"/><circle cx="552.9" cy="547.0" r="2.2"/><circle cx="546.7" cy="546.4" r="2.2"/><circle cx="536.0" cy="561.9" r="2.2"/><circle cx="584.9" cy="546.1" r="2.2"/><circle cx="521.3" cy="560.3" r="2.2"/><circle cx="572.4" cy="545.8" r="2.2"/><circle cx="532.4" cy="551.8" r="2.2"/><circle cx="477.7" cy="556.6" r="2.2"/><circle cx="564.2" cy="561.1" r="2.2"/><circle cx="544.8" cy="560.6" r="2.2"/><circle cx="516.5" cy="550.3" r="2.2"/><circle cx="533.7" cy="549.7" r="2.2"/><circle cx="557.5" cy="559.6" r="2.2"/><circle cx="581.6" cy="546.7" r="2.2"/><circle cx="501.6" cy="577.8" r="2.2"/><circle cx="522.4" cy="559.8" r="2.2"/><circle cx="531.5" cy="551.8" r="2.2"/><circle cx="557.6" cy="552.0" r="2.2"/><circle cx="564.5" cy="557.2" r="2.2"/><circle cx="585.1" cy="567.7" r="2.2"/><circle cx="548.0" cy="554.5" r="2.2"/><circle cx="511.9" cy="553.0" r="2.2"/><circle cx="513.4" cy="551.7" r="2.2"/><circle cx="572.3" cy="550.6" r="2.2"/><circle cx="542.7" cy="548.3" r="2.2"/><circle cx="571.7" cy="551.2" r="2.2"/><circle cx="571.1" cy="548.7" r="2.2"/><circle cx="595.8" cy="550.6" r="2.2"/><circle cx="576.3" cy="552.4" r="2.2"/><circle cx="514.6" cy="564.4" r="2.2"/><circle cx="547.0" cy="555.7" r="2.2"/><circle cx="563.2" cy="547.6" r="2.2"/><circle cx="528.6" cy="556.2" r="2.2"/><circle cx="537.7" cy="551.9" r="2.2"/><circle cx="554.5" cy="542.1" r="2.2"/><circle cx="666.1" cy="557.4" r="2.2"/><circle cx="518.8" cy="549.1" r="2.2"/><circle cx="564.9" cy="552.7" r="2.2"/><circle cx="544.3" cy="549.9" r="2.2"/><circle cx="501.5" cy="564.3" r="2.2"/><circle cx="497.7" cy="549.7" r="2.2"/><circle cx="527.8" cy="557.3" r="2.2"/><circle cx="571.6" cy="559.2" r="2.2"/><circle cx="527.7" cy="552.7" r="2.2"/><circle cx="594.2" cy="559.2" r="2.2"/><circle cx="595.7" cy="553.8" r="2.2"/><circle cx="554.2" cy="570.6" r="2.2"/><circle cx="552.4" cy="556.0" r="2.2"/><circle cx="552.1" cy="551.2" r="2.2"/><circle cx="523.0" cy="547.8" r="2.2"/><circle cx="536.9" cy="565.5" r="2.2"/><circle cx="555.4" cy="549.1" r="2.2"/><circle cx="527.4" cy="559.6" r="2.2"/><circle cx="539.4" cy="553.7" r="2.2"/><circle cx="572.1" cy="560.5" r="2.2"/><circle cx="534.0" cy="555.1" r="2.2"/><circle cx="580.7" cy="574.8" r="2.2"/><circle cx="545.4" cy="556.6" r="2.2"/><circle cx="543.9" cy="549.7" r="2.2"/><circle cx="555.5" cy="565.3" r="2.2"/><circle cx="592.6" cy="553.0" r="2.2"/><circle cx="581.2" cy="550.5" r="2.2"/><circle cx="576.6" cy="546.8" r="2.2"/><circle cx="542.2" cy="568.6" r="2.2"/><circle cx="536.6" cy="552.6" r="2.2"/><circle cx="531.4" cy="555.6" r="2.2"/><circle cx="493.9" cy="548.3" r="2.2"/><circle cx="504.4" cy="553.0" r="2.2"/><circle cx="588.6" cy="547.6" r="2.2"/><circle cx="526.5" cy="561.5" r="2.2"/><circle cx="525.3" cy="553.5" r="2.2"/><circle cx="564.7" cy="549.3" r="2.2"/><circle cx="631.0" cy="549.1" r="2.2"/><circle cx="504.5" cy="577.0" r="2.2"/><circle cx="598.2" cy="550.4" r="2.2"/><circle cx="543.7" cy="561.4" r="2.2"/><circle cx="566.8" cy="549.3" r="2.2"/><circle cx="551.8" cy="547.3" r="2.2"/><circle cx="531.3" cy="558.1" r="2.2"/><circle cx="562.6" cy="547.2" r="2.2"/><circle cx="631.0" cy="546.9" r="2.2"/><circle cx="527.4" cy="551.2" r="2.2"/><circle cx="631.7" cy="561.7" r="2.2"/><circle cx="545.4" cy="563.0" r="2.2"/><circle cx="589.6" cy="551.4" r="2.2"/><circle cx="499.8" cy="549.4" r="2.2"/><circle cx="595.0" cy="553.5" r="2.2"/><circle cx="579.4" cy="549.8" r="2.2"/><circle cx="506.1" cy="567.4" r="2.2"/><circle cx="576.2" cy="548.8" r="2.2"/><circle cx="546.9" cy="591.4" r="2.2"/><circle cx="559.6" cy="556.7" r="2.2"/><circle cx="545.3" cy="545.6" r="2.2"/><circle cx="541.8" cy="546.2" r="2.2"/></g>
<polyline points="400.14,684.91 401.45,669.42 402.77,656.27 404.09,645.01 405.40,635.27 406.72,626.81 408.04,619.40 409.35,612.88 410.67,607.11 411.99,601.98 413.31,597.41 414.62,593.32 415.94,589.65 417.26,586.34 418.57,583.34 419.89,580.63 421.21,578.17 422.52,575.92 423.84,573.88 425.16,572.00 426.47,570.29 427.79,568.71 429.11,567.27 430.42,565.93 431.74,564.70 433.06,563.57 434.38,562.52 435.69,561.54 437.01,560.64 438.33,559.80 439.64,559.02 440.96,558.29 442.28,557.62 443.59,556.99 444.91,556.40 446.23,555.85 447.54,555.33 448.86,554.85 450.18,554.40 451.50,553.98 452.81,553.58 454.13,553.20 455.45,552.85 456.76,552.52 458.08,552.21 459.40,551.92 460.71,551.64 462.03,551.38 463.35,551.14 464.66,550.90 465.98,550.68 467.30,550.48 468.61,550.28 469.93,550.10 471.25,549.92 472.57,549.75 473.88,549.60 475.20,549.45 476.52,549.30 477.83,549.17 479.15,549.04 480.47,548.92 481.78,548.80 483.10,548.69 484.42,548.59 485.73,548.49 487.05,548.39 488.37,548.30 489.69,548.22 491.00,548.14 492.32,548.06 493.64,547.98 494.95,547.91 496.27,547.84 497.59,547.78 498.90,547.72 500.22,547.66 501.54,547.60 502.85,547.55 504.17,547.49 505.49,547.45 506.80,547.40 508.12,547.35 509.44,547.31 510.76,547.27 512.07,547.23 513.39,547.19 514.71,547.15 516.02,547.12 517.34,547.08 518.66,547.05 519.97,547.02 521.29,546.99 522.61,546.96 523.92,546.94 525.24,546.91 526.56,546.88 527.88,546.86 529.19,546.84 530.51,546.81 531.83,546.79 533.14,546.77 534.46,546.75 535.78,546.73 537.09,546.71 538.41,546.70 539.73,546.68 541.04,546.66 542.36,546.65 543.68,546.63 545.00,546.62 546.31,546.60 547.63,546.59 548.95,546.58 550.26,546.56 551.58,546.55 552.90,546.54 554.21,546.53 555.53,546.52 556.85,546.51 558.16,546.50 559.48,546.49 560.80,546.48 562.11,546.47 563.43,546.46 564.75,546.45 566.07,546.44 567.38,546.44 568.70,546.43 570.02,546.42 571.33,546.41 572.65,546.41 573.97,546.40 575.28,546.39 576.60,546.39 577.92,546.38 579.23,546.37 580.55,546.37 581.87,546.36 583.19,546.36 584.50,546.35 585.82,546.35 587.14,546.34 588.45,546.34 589.77,546.33 591.09,546.33 592.40,546.33 593.72,546.32 595.04,546.32 596.35,546.31 597.67,546.31 598.99,546.31 600.30,546.30 601.62,546.30 602.94,546.30 604.26,546.29 605.57,546.29 606.89,546.29 608.21,546.28 609.52,546.28 610.84,546.28 612.16,546.28 613.47,546.27 614.79,546.27 616.11,546.27 617.42,546.27 618.74,546.26 620.06,546.26 621.38,546.26 622.69,546.26 624.01,546.25 625.33,546.25 626.64,546.25 627.96,546.25 629.28,546.25 630.59,546.25 631.91,546.24 633.23,546.24 634.54,546.24 635.86,546.24 637.18,546.24 638.49,546.24 639.81,546.23 641.13,546.23 642.45,546.23 643.76,546.23 645.08,546.23 646.40,546.23 647.71,546.23 649.03,546.23 650.35,546.22 651.66,546.22 652.98,546.22 654.30,546.22 655.61,546.22 656.93,546.22 658.25,546.22 659.57,546.22 660.88,546.22 662.20,546.22" fill="none" stroke="#000" stroke-width="1.7" stroke-linejoin="round"/>
<path d="M387.0,534.7 V690.6 M387.0,690.6 H682.5600000000001" stroke="#333" stroke-width="1.1" fill="none"/>
<path d="M387.00,690.6 v3.5 M419.84,690.6 v3.5 M452.68,690.6 v3.5 M485.52,690.6 v3.5 M518.36,690.6 v3.5 M551.20,690.6 v3.5 M584.04,690.6 v3.5 M616.88,690.6 v3.5 M649.72,690.6 v3.5 M682.56,690.6 v3.5 M403.42,690.6 v1.7 M436.26,690.6 v1.7 M469.10,690.6 v1.7 M501.94,690.6 v1.7 M534.78,690.6 v1.7 M567.62,690.6 v1.7 M600.46,690.6 v1.7 M633.30,690.6 v1.7 M666.14,690.6 v1.7 M387.0,690.60 h-1.7 M387.0,676.43 h-3.5 M387.0,662.25 h-1.7 M387.0,648.08 h-3.5 M387.0,633.91 h-1.7 M387.0,619.74 h-3.5 M387.0,605.56 h-1.7 M387.0,591.39 h-3.5 M387.0,577.22 h-1.7 M387.0,563.05 h-3.5 M387.0,548.87 h-1.7 M387.0,534.70 h-3.5" stroke="#333" stroke-width="1.0" fill="none"/>
<text x="387.00" y="704.7" font-size="10.0" text-anchor="middle">0</text>
<text x="419.84" y="704.7" font-size="10.0" text-anchor="middle">1</text>
<text x="452.68" y="704.7" font-size="10.0" text-anchor="middle">2</text>
<text x="485.52" y="704.7" font-size="10.0" text-anchor="middle">3</text>
<text x="518.36" y="704.7" font-size="10.0" text-anchor="middle">4</text>
<text x="551.20" y="704.7" font-size="10.0" text-anchor="middle">5</text>
<text x="584.04" y="704.7" font-size="10.0" text-anchor="middle">6</text>
<text x="616.88" y="704.7" font-size="10.0" text-anchor="middle">7</text>
<text x="649.72" y="704.7" font-size="10.0" text-anchor="middle">8</text>
<text x="682.56" y="704.7" font-size="10.0" text-anchor="middle">9</text>
<text x="381.20" y="680.13" font-size="10.0" text-anchor="end">0.5</text>
<text x="381.20" y="651.78" font-size="10.0" text-anchor="end">0.6</text>
<text x="381.20" y="623.44" font-size="10.0" text-anchor="end">0.7</text>
<text x="381.20" y="595.09" font-size="10.0" text-anchor="end">0.8</text>
<text x="381.20" y="566.75" font-size="10.0" text-anchor="end">0.9</text>
<text x="381.20" y="538.40" font-size="10.0" text-anchor="end">1.0</text>
<text class="s" transform="translate(534.8,726.9) scale(1,0.91)" font-size="18" text-anchor="middle">LAI</text>
<text class="s" transform="translate(361.3,612.7) rotate(-90) scale(1,1.07)" x="0" y="0" font-size="17.6" text-anchor="middle">NDVI</text>
<text class="s" x="362.7" y="509.2" font-size="18" font-weight="bold">(f)</text>
<g fill="rgba(0,128,0,0.74)"><circle cx="198.4" cy="796.7" r="2.2"/><circle cx="310.1" cy="790.8" r="2.2"/><circle cx="213.8" cy="788.8" r="2.2"/><circle cx="101.7" cy="825.3" r="2.2"/><circle cx="124.2" cy="808.4" r="2.2"/><circle cx="113.5" cy="812.2" r="2.2"/><circle cx="214.1" cy="789.4" r="2.2"/><circle cx="176.9" cy="788.4" r="2.2"/><circle cx="152.6" cy="803.7" r="2.2"/><circle cx="145.1" cy="793.5" r="2.2"/><circle cx="146.2" cy="787.5" r="2.2"/><circle cx="153.3" cy="800.5" r="2.2"/><circle cx="147.2" cy="795.9" r="2.2"/><circle cx="189.6" cy="781.1" r="2.2"/><circle cx="54.0" cy="886.1" r="2.2"/><circle cx="204.2" cy="789.2" r="2.2"/><circle cx="91.9" cy="843.4" r="2.2"/><circle cx="315.7" cy="790.0" r="2.2"/><circle cx="134.7" cy="800.3" r="2.2"/><circle cx="115.2" cy="803.4" r="2.2"/><circle cx="107.8" cy="808.1" r="2.2"/><circle cx="116.4" cy="802.9" r="2.2"/><circle cx="141.6" cy="804.0" r="2.2"/><circle cx="160.2" cy="793.5" r="2.2"/><circle cx="91.5" cy="842.9" r="2.2"/><circle cx="154.3" cy="806.5" r="2.2"/><circle cx="241.6" cy="792.6" r="2.2"/><circle cx="194.1" cy="799.6" r="2.2"/><circle cx="97.0" cy="848.6" r="2.2"/><circle cx="135.8" cy="797.3" r="2.2"/><circle cx="229.5" cy="785.3" r="2.2"/><circle cx="216.6" cy="770.4" r="2.2"/><circle cx="156.3" cy="791.6" r="2.2"/><circle cx="221.3" cy="788.7" r="2.2"/><circle cx="219.4" cy="787.5" r="2.2"/><circle cx="160.7" cy="790.9" r="2.2"/><circle cx="107.8" cy="811.0" r="2.2"/><circle cx="95.9" cy="846.6" r="2.2"/><circle cx="154.0" cy="796.5" r="2.2"/><circle cx="136.7" cy="806.4" r="2.2"/><circle cx="200.7" cy="797.8" r="2.2"/><circle cx="151.4" cy="787.8" r="2.2"/><circle cx="124.3" cy="792.5" r="2.2"/><circle cx="206.9" cy="794.3" r="2.2"/><circle cx="240.3" cy="783.9" r="2.2"/><circle cx="144.5" cy="779.4" r="2.2"/><circle cx="57.0" cy="913.8" r="2.2"/><circle cx="98.4" cy="824.5" r="2.2"/><circle cx="134.2" cy="810.9" r="2.2"/><circle cx="144.7" cy="794.1" r="2.2"/><circle cx="225.0" cy="787.5" r="2.2"/><circle cx="228.2" cy="776.3" r="2.2"/><circle cx="113.6" cy="816.8" r="2.2"/><circle cx="99.7" cy="828.0" r="2.2"/><circle cx="122.0" cy="807.6" r="2.2"/><circle cx="211.7" cy="785.6" r="2.2"/><circle cx="230.6" cy="789.2" r="2.2"/><circle cx="199.8" cy="786.3" r="2.2"/><circle cx="119.8" cy="806.8" r="2.2"/><circle cx="166.5" cy="791.0" r="2.2"/><circle cx="179.6" cy="794.7" r="2.2"/><circle cx="152.3" cy="797.5" r="2.2"/><circle cx="144.7" cy="790.4" r="2.2"/><circle cx="95.2" cy="854.7" r="2.2"/><circle cx="63.2" cy="906.8" r="2.2"/><circle cx="137.5" cy="807.8" r="2.2"/><circle cx="88.9" cy="810.0" r="2.2"/><circle cx="236.8" cy="796.2" r="2.2"/><circle cx="124.7" cy="793.4" r="2.2"/><circle cx="116.9" cy="814.1" r="2.2"/><circle cx="61.2" cy="897.4" r="2.2"/><circle cx="83.5" cy="849.5" r="2.2"/><circle cx="127.3" cy="810.2" r="2.2"/><circle cx="155.7" cy="794.0" r="2.2"/><circle cx="98.2" cy="833.2" r="2.2"/><circle cx="212.6" cy="791.0" r="2.2"/><circle cx="130.4" cy="785.7" r="2.2"/><circle cx="197.1" cy="783.0" r="2.2"/><circle cx="152.6" cy="801.4" r="2.2"/><circle cx="117.1" cy="793.6" r="2.2"/><circle cx="101.6" cy="832.3" r="2.2"/><circle cx="177.3" cy="789.2" r="2.2"/><circle cx="94.1" cy="833.3" r="2.2"/><circle cx="63.4" cy="904.2" r="2.2"/><circle cx="55.8" cy="905.0" r="2.2"/><circle cx="109.8" cy="833.6" r="2.2"/><circle cx="121.0" cy="789.0" r="2.2"/><circle cx="213.3" cy="797.2" r="2.2"/><circle cx="97.5" cy="822.0" r="2.2"/><circle cx="165.6" cy="784.2" r="2.2"/><circle cx="161.7" cy="790.7" r="2.2"/><circle cx="201.2" cy="782.2" r="2.2"/><circle cx="197.8" cy="803.0" r="2.2"/><circle cx="158.7" cy="790.2" r="2.2"/><circle cx="226.4" cy="793.4" r="2.2"/><circle cx="191.8" cy="785.1" r="2.2"/><circle cx="59.1" cy="906.8" r="2.2"/><circle cx="107.8" cy="814.1" r="2.2"/><circle cx="186.7" cy="789.5" r="2.2"/><circle cx="139.3" cy="803.8" r="2.2"/><circle cx="140.5" cy="795.9" r="2.2"/><circle cx="66.0" cy="887.0" r="2.2"/><circle cx="151.8" cy="780.9" r="2.2"/><circle cx="87.0" cy="847.7" r="2.2"/><circle cx="111.8" cy="816.2" r="2.2"/><circle cx="150.2" cy="792.1" r="2.2"/><circle cx="172.7" cy="791.6" r="2.2"/><circle cx="166.3" cy="802.7" r="2.2"/><circle cx="100.9" cy="847.5" r="2.2"/><circle cx="157.3" cy="779.9" r="2.2"/><circle cx="197.9" cy="785.7" r="2.2"/><circle cx="98.1" cy="823.9" r="2.2"/><circle cx="169.4" cy="791.2" r="2.2"/><circle cx="196.1" cy="788.0" r="2.2"/><circle cx="107.8" cy="820.2" r="2.2"/><circle cx="170.8" cy="802.1" r="2.2"/><circle cx="217.8" cy="793.4" r="2.2"/><circle cx="64.5" cy="887.9" r="2.2"/><circle cx="205.0" cy="791.1" r="2.2"/><circle cx="64.8" cy="905.0" r="2.2"/><circle cx="144.0" cy="797.3" r="2.2"/><circle cx="204.4" cy="796.6" r="2.2"/><circle cx="121.9" cy="813.1" r="2.2"/><circle cx="228.5" cy="792.5" r="2.2"/><circle cx="240.3" cy="782.1" r="2.2"/><circle cx="229.2" cy="789.9" r="2.2"/><circle cx="193.6" cy="783.5" r="2.2"/><circle cx="241.6" cy="786.5" r="2.2"/><circle cx="56.3" cy="900.8" r="2.2"/><circle cx="177.0" cy="798.6" r="2.2"/><circle cx="163.3" cy="798.0" r="2.2"/><circle cx="137.3" cy="794.1" r="2.2"/><circle cx="175.4" cy="787.5" r="2.2"/><circle cx="103.0" cy="821.9" r="2.2"/><circle cx="144.1" cy="796.5" r="2.2"/><circle cx="53.0" cy="905.5" r="2.2"/><circle cx="110.9" cy="826.3" r="2.2"/><circle cx="104.9" cy="830.9" r="2.2"/><circle cx="127.0" cy="808.8" r="2.2"/><circle cx="127.9" cy="779.9" r="2.2"/><circle cx="110.8" cy="821.4" r="2.2"/><circle cx="122.8" cy="808.1" r="2.2"/><circle cx="193.4" cy="783.2" r="2.2"/><circle cx="204.6" cy="787.5" r="2.2"/><circle cx="248.3" cy="794.1" r="2.2"/><circle cx="151.6" cy="794.8" r="2.2"/><circle cx="58.8" cy="908.0" r="2.2"/><circle cx="118.7" cy="811.0" r="2.2"/><circle cx="245.9" cy="788.1" r="2.2"/><circle cx="192.4" cy="783.8" r="2.2"/><circle cx="144.5" cy="782.3" r="2.2"/><circle cx="117.1" cy="808.1" r="2.2"/><circle cx="177.9" cy="793.3" r="2.2"/><circle cx="191.7" cy="797.2" r="2.2"/><circle cx="183.7" cy="790.9" r="2.2"/><circle cx="137.8" cy="816.4" r="2.2"/><circle cx="233.9" cy="784.6" r="2.2"/><circle cx="107.8" cy="817.7" r="2.2"/><circle cx="113.7" cy="823.5" r="2.2"/><circle cx="212.2" cy="782.9" r="2.2"/><circle cx="55.1" cy="899.0" r="2.2"/><circle cx="203.9" cy="787.3" r="2.2"/><circle cx="126.9" cy="805.5" r="2.2"/><circle cx="135.8" cy="797.3" r="2.2"/><circle cx="195.9" cy="793.4" r="2.2"/><circle cx="81.6" cy="851.2" r="2.2"/><circle cx="225.6" cy="787.1" r="2.2"/><circle cx="92.3" cy="813.4" r="2.2"/><circle cx="107.8" cy="823.0" r="2.2"/><circle cx="115.2" cy="817.4" r="2.2"/><circle cx="63.4" cy="897.3" r="2.2"/><circle cx="155.6" cy="790.0" r="2.2"/><circle cx="191.8" cy="793.6" r="2.2"/><circle cx="214.0" cy="784.8" r="2.2"/><circle cx="200.2" cy="789.8" r="2.2"/><circle cx="219.9" cy="793.3" r="2.2"/><circle cx="149.6" cy="787.2" r="2.2"/><circle cx="178.7" cy="786.9" r="2.2"/><circle cx="167.8" cy="790.5" r="2.2"/><circle cx="165.1" cy="798.3" r="2.2"/><circle cx="168.1" cy="785.0" r="2.2"/><circle cx="224.3" cy="785.7" r="2.2"/><circle cx="149.0" cy="796.4" r="2.2"/><circle cx="190.7" cy="794.4" r="2.2"/><circle cx="145.3" cy="801.0" r="2.2"/><circle cx="170.2" cy="787.6" r="2.2"/><circle cx="168.0" cy="797.8" r="2.2"/><circle cx="119.2" cy="806.5" r="2.2"/><circle cx="90.2" cy="848.1" r="2.2"/><circle cx="152.3" cy="787.0" r="2.2"/><circle cx="236.1" cy="790.7" r="2.2"/><circle cx="190.2" cy="782.6" r="2.2"/><circle cx="127.8" cy="795.6" r="2.2"/><circle cx="59.6" cy="903.9" r="2.2"/><circle cx="147.9" cy="789.5" r="2.2"/><circle cx="124.4" cy="810.5" r="2.2"/><circle cx="135.2" cy="793.5" r="2.2"/><circle cx="174.7" cy="795.2" r="2.2"/><circle cx="122.6" cy="806.7" r="2.2"/><circle cx="166.5" cy="787.7" r="2.2"/><circle cx="153.2" cy="778.8" r="2.2"/><circle cx="66.1" cy="887.9" r="2.2"/><circle cx="162.7" cy="800.8" r="2.2"/><circle cx="107.8" cy="821.1" r="2.2"/><circle cx="56.6" cy="910.5" r="2.2"/><circle cx="236.2" cy="798.6" r="2.2"/><circle cx="194.7" cy="793.5" r="2.2"/><circle cx="234.6" cy="778.5" r="2.2"/><circle cx="184.3" cy="784.8" r="2.2"/><circle cx="118.7" cy="811.0" r="2.2"/><circle cx="163.4" cy="792.6" r="2.2"/><circle cx="186.5" cy="799.0" r="2.2"/><circle cx="131.4" cy="803.7" r="2.2"/><circle cx="87.2" cy="842.3" r="2.2"/><circle cx="162.9" cy="797.9" r="2.2"/><circle cx="153.7" cy="794.3" r="2.2"/><circle cx="99.8" cy="829.2" r="2.2"/><circle cx="232.6" cy="782.7" r="2.2"/><circle cx="126.7" cy="790.9" r="2.2"/><circle cx="107.4" cy="813.4" r="2.2"/><circle cx="149.4" cy="776.9" r="2.2"/><circle cx="238.3" cy="792.9" r="2.2"/><circle cx="202.9" cy="793.8" r="2.2"/><circle cx="119.7" cy="808.2" r="2.2"/><circle cx="168.0" cy="781.9" r="2.2"/><circle cx="138.9" cy="796.3" r="2.2"/><circle cx="156.7" cy="795.0" r="2.2"/><circle cx="63.8" cy="896.6" r="2.2"/><circle cx="135.2" cy="804.3" r="2.2"/><circle cx="225.2" cy="805.3" r="2.2"/><circle cx="166.6" cy="788.0" r="2.2"/><circle cx="180.1" cy="789.5" r="2.2"/><circle cx="156.4" cy="796.1" r="2.2"/><circle cx="166.2" cy="792.5" r="2.2"/><circle cx="190.7" cy="787.4" r="2.2"/><circle cx="56.9" cy="904.7" r="2.2"/><circle cx="147.4" cy="771.7" r="2.2"/><circle cx="156.0" cy="797.7" r="2.2"/><circle cx="139.2" cy="789.1" r="2.2"/><circle cx="146.5" cy="800.5" r="2.2"/><circle cx="174.5" cy="792.8" r="2.2"/><circle cx="111.7" cy="823.6" r="2.2"/><circle cx="242.7" cy="781.3" r="2.2"/><circle cx="108.6" cy="827.1" r="2.2"/><circle cx="150.5" cy="795.7" r="2.2"/><circle cx="231.5" cy="792.6" r="2.2"/><circle cx="138.7" cy="796.8" r="2.2"/><circle cx="215.4" cy="788.2" r="2.2"/><circle cx="181.7" cy="782.0" r="2.2"/><circle cx="130.9" cy="795.1" r="2.2"/><circle cx="229.2" cy="786.1" r="2.2"/><circle cx="170.7" cy="793.3" r="2.2"/><circle cx="178.8" cy="783.0" r="2.2"/><circle cx="162.1" cy="779.4" r="2.2"/><circle cx="117.9" cy="799.8" r="2.2"/><circle cx="130.6" cy="805.3" r="2.2"/><circle cx="94.4" cy="829.4" r="2.2"/><circle cx="170.3" cy="788.6" r="2.2"/><circle cx="95.3" cy="817.6" r="2.2"/><circle cx="104.5" cy="841.2" r="2.2"/><circle cx="107.8" cy="805.9" r="2.2"/><circle cx="127.4" cy="811.3" r="2.2"/><circle cx="244.9" cy="777.8" r="2.2"/><circle cx="109.8" cy="817.1" r="2.2"/><circle cx="213.3" cy="793.9" r="2.2"/><circle cx="276.9" cy="797.2" r="2.2"/><circle cx="119.7" cy="811.6" r="2.2"/><circle cx="92.7" cy="847.2" r="2.2"/><circle cx="114.6" cy="807.0" r="2.2"/><circle cx="265.5" cy="800.0" r="2.2"/><circle cx="227.0" cy="789.4" r="2.2"/><circle cx="144.8" cy="797.3" r="2.2"/><circle cx="162.7" cy="791.5" r="2.2"/><circle cx="95.8" cy="843.2" r="2.2"/><circle cx="248.1" cy="790.4" r="2.2"/><circle cx="237.0" cy="799.8" r="2.2"/><circle cx="107.8" cy="820.8" r="2.2"/><circle cx="241.3" cy="782.8" r="2.2"/><circle cx="166.0" cy="784.7" r="2.2"/><circle cx="100.3" cy="845.6" r="2.2"/><circle cx="194.9" cy="786.3" r="2.2"/><circle cx="224.4" cy="784.3" r="2.2"/><circle cx="144.8" cy="779.6" r="2.2"/><circle cx="150.7" cy="796.6" r="2.2"/><circle cx="106.5" cy="817.1" r="2.2"/><circle cx="225.0" cy="773.4" r="2.2"/><circle cx="157.3" cy="801.6" r="2.2"/><circle cx="213.8" cy="786.9" r="2.2"/><circle cx="204.0" cy="792.2" r="2.2"/><circle cx="112.2" cy="813.2" r="2.2"/><circle cx="187.4" cy="773.2" r="2.2"/><circle cx="156.5" cy="801.7" r="2.2"/><circle cx="160.7" cy="782.5" r="2.2"/><circle cx="246.8" cy="793.0" r="2.2"/><circle cx="91.7" cy="840.2" r="2.2"/><circle cx="104.4" cy="821.9" r="2.2"/><circle cx="206.7" cy="776.0" r="2.2"/><circle cx="196.9" cy="782.0" r="2.2"/><circle cx="89.4" cy="812.1" r="2.2"/><circle cx="182.9" cy="787.6" r="2.2"/><circle cx="55.9" cy="904.8" r="2.2"/><circle cx="156.6" cy="794.4" r="2.2"/><circle cx="125.1" cy="800.2" r="2.2"/><circle cx="107.5" cy="820.2" r="2.2"/><circle cx="161.2" cy="796.8" r="2.2"/><circle cx="96.4" cy="851.8" r="2.2"/><circle cx="114.9" cy="791.2" r="2.2"/><circle cx="175.9" cy="790.2" r="2.2"/><circle cx="61.2" cy="904.3" r="2.2"/><circle cx="126.0" cy="810.2" r="2.2"/><circle cx="249.8" cy="796.7" r="2.2"/><circle cx="162.9" cy="783.2" r="2.2"/><circle cx="151.4" cy="790.7" r="2.2"/><circle cx="166.5" cy="795.1" r="2.2"/><circle cx="158.5" cy="774.5" r="2.2"/><circle cx="172.9" cy="789.5" r="2.2"/><circle cx="137.0" cy="795.4" r="2.2"/><circle cx="219.5" cy="780.4" r="2.2"/><circle cx="214.5" cy="773.4" r="2.2"/><circle cx="162.7" cy="802.5" r="2.2"/><circle cx="94.2" cy="818.0" r="2.2"/><circle cx="151.3" cy="789.4" r="2.2"/><circle cx="60.2" cy="910.5" r="2.2"/><circle cx="106.2" cy="815.2" r="2.2"/><circle cx="92.2" cy="847.0" r="2.2"/><circle cx="91.9" cy="848.1" r="2.2"/><circle cx="91.0" cy="840.8" r="2.2"/><circle cx="171.4" cy="792.6" r="2.2"/><circle cx="109.3" cy="821.6" r="2.2"/><circle cx="201.6" cy="783.5" r="2.2"/><circle cx="132.1" cy="796.9" r="2.2"/><circle cx="206.3" cy="788.8" r="2.2"/><circle cx="199.6" cy="781.4" r="2.2"/><circle cx="197.1" cy="795.3" r="2.2"/><circle cx="151.6" cy="795.4" r="2.2"/></g>
<g fill="rgba(255,128,0,0.74)"><circle cx="158.0" cy="864.4" r="2.2"/><circle cx="197.8" cy="795.9" r="2.2"/><circle cx="237.8" cy="808.1" r="2.2"/><circle cx="217.6" cy="830.6" r="2.2"/><circle cx="216.3" cy="796.3" r="2.2"/><circle cx="205.9" cy="828.5" r="2.2"/><circle cx="147.4" cy="814.5" r="2.2"/><circle cx="204.4" cy="827.7" r="2.2"/><circle cx="198.8" cy="787.9" r="2.2"/><circle cx="189.1" cy="820.1" r="2.2"/><circle cx="189.5" cy="839.8" r="2.2"/><circle cx="231.5" cy="815.9" r="2.2"/><circle cx="234.2" cy="860.3" r="2.2"/><circle cx="195.2" cy="780.6" r="2.2"/><circle cx="248.7" cy="837.8" r="2.2"/><circle cx="181.6" cy="796.3" r="2.2"/><circle cx="183.4" cy="798.3" r="2.2"/><circle cx="185.0" cy="797.7" r="2.2"/><circle cx="180.4" cy="797.9" r="2.2"/><circle cx="156.4" cy="790.3" r="2.2"/><circle cx="186.4" cy="802.5" r="2.2"/><circle cx="187.5" cy="806.2" r="2.2"/><circle cx="178.6" cy="802.8" r="2.2"/><circle cx="215.0" cy="797.8" r="2.2"/><circle cx="175.9" cy="836.5" r="2.2"/><circle cx="225.1" cy="834.0" r="2.2"/><circle cx="199.2" cy="824.6" r="2.2"/><circle cx="207.4" cy="782.6" r="2.2"/><circle cx="218.2" cy="814.2" r="2.2"/><circle cx="218.4" cy="821.5" r="2.2"/><circle cx="174.2" cy="853.0" r="2.2"/><circle cx="245.4" cy="810.6" r="2.2"/><circle cx="216.1" cy="809.0" r="2.2"/><circle cx="185.9" cy="820.8" r="2.2"/><circle cx="246.1" cy="821.2" r="2.2"/><circle cx="242.7" cy="794.7" r="2.2"/><circle cx="191.2" cy="800.1" r="2.2"/><circle cx="217.7" cy="837.6" r="2.2"/><circle cx="211.0" cy="835.1" r="2.2"/><circle cx="208.0" cy="780.9" r="2.2"/><circle cx="249.2" cy="801.4" r="2.2"/><circle cx="223.1" cy="786.2" r="2.2"/><circle cx="172.3" cy="815.4" r="2.2"/><circle cx="227.8" cy="845.3" r="2.2"/><circle cx="200.4" cy="888.1" r="2.2"/><circle cx="184.9" cy="807.4" r="2.2"/><circle cx="251.7" cy="795.1" r="2.2"/><circle cx="205.3" cy="790.6" r="2.2"/><circle cx="192.8" cy="800.5" r="2.2"/><circle cx="230.1" cy="788.9" r="2.2"/><circle cx="165.4" cy="804.5" r="2.2"/><circle cx="232.9" cy="814.7" r="2.2"/><circle cx="131.2" cy="831.8" r="2.2"/><circle cx="181.2" cy="798.9" r="2.2"/><circle cx="159.6" cy="849.8" r="2.2"/><circle cx="186.2" cy="807.5" r="2.2"/><circle cx="238.4" cy="805.0" r="2.2"/><circle cx="163.6" cy="838.8" r="2.2"/><circle cx="189.9" cy="797.6" r="2.2"/><circle cx="206.8" cy="784.3" r="2.2"/><circle cx="195.7" cy="826.1" r="2.2"/><circle cx="204.8" cy="831.9" r="2.2"/><circle cx="208.9" cy="813.9" r="2.2"/><circle cx="206.1" cy="851.3" r="2.2"/><circle cx="200.5" cy="828.1" r="2.2"/><circle cx="195.3" cy="789.2" r="2.2"/><circle cx="232.8" cy="842.2" r="2.2"/><circle cx="204.7" cy="866.7" r="2.2"/><circle cx="182.4" cy="791.0" r="2.2"/><circle cx="154.5" cy="887.2" r="2.2"/><circle cx="174.9" cy="807.3" r="2.2"/><circle cx="209.3" cy="848.1" r="2.2"/><circle cx="229.4" cy="836.9" r="2.2"/><circle cx="187.0" cy="795.4" r="2.2"/><circle cx="196.2" cy="793.1" r="2.2"/><circle cx="236.2" cy="842.1" r="2.2"/><circle cx="234.7" cy="795.5" r="2.2"/><circle cx="198.3" cy="837.3" r="2.2"/><circle cx="208.5" cy="815.3" r="2.2"/><circle cx="250.1" cy="834.9" r="2.2"/><circle cx="158.3" cy="808.2" r="2.2"/><circle cx="145.7" cy="826.0" r="2.2"/><circle cx="153.0" cy="812.6" r="2.2"/><circle cx="214.0" cy="845.0" r="2.2"/><circle cx="222.8" cy="839.2" r="2.2"/><circle cx="222.9" cy="808.9" r="2.2"/><circle cx="257.1" cy="786.4" r="2.2"/><circle cx="206.1" cy="822.4" r="2.2"/><circle cx="198.9" cy="841.6" r="2.2"/><circle cx="284.5" cy="805.6" r="2.2"/><circle cx="168.1" cy="844.6" r="2.2"/><circle cx="155.1" cy="865.5" r="2.2"/><circle cx="177.5" cy="805.5" r="2.2"/><circle cx="151.2" cy="817.6" r="2.2"/><circle cx="171.7" cy="795.2" r="2.2"/><circle cx="161.1" cy="815.0" r="2.2"/><circle cx="171.3" cy="796.9" r="2.2"/><circle cx="185.9" cy="795.0" r="2.2"/><circle cx="260.5" cy="800.2" r="2.2"/><circle cx="197.5" cy="819.3" r="2.2"/><circle cx="242.1" cy="809.1" r="2.2"/><circle cx="213.1" cy="807.7" r="2.2"/><circle cx="225.9" cy="787.1" r="2.2"/><circle cx="221.8" cy="812.9" r="2.2"/><circle cx="181.2" cy="802.3" r="2.2"/><circle cx="231.1" cy="778.9" r="2.2"/><circle cx="229.7" cy="792.5" r="2.2"/><circle cx="225.6" cy="805.7" r="2.2"/><circle cx="185.0" cy="850.3" r="2.2"/><circle cx="201.0" cy="793.6" r="2.2"/><circle cx="231.2" cy="795.3" r="2.2"/><circle cx="285.2" cy="837.2" r="2.2"/><circle cx="167.4" cy="806.8" r="2.2"/><circle cx="250.8" cy="789.1" r="2.2"/><circle cx="192.9" cy="824.3" r="2.2"/><circle cx="159.1" cy="833.1" r="2.2"/><circle cx="183.0" cy="823.7" r="2.2"/><circle cx="221.3" cy="835.7" r="2.2"/><circle cx="319.6" cy="830.5" r="2.2"/><circle cx="247.7" cy="833.5" r="2.2"/><circle cx="173.9" cy="816.3" r="2.2"/><circle cx="225.8" cy="795.9" r="2.2"/><circle cx="284.5" cy="811.1" r="2.2"/><circle cx="238.1" cy="793.8" r="2.2"/><circle cx="225.2" cy="818.1" r="2.2"/><circle cx="166.4" cy="818.0" r="2.2"/><circle cx="197.4" cy="795.5" r="2.2"/><circle cx="177.3" cy="803.9" r="2.2"/><circle cx="257.8" cy="784.4" r="2.2"/><circle cx="209.0" cy="845.3" r="2.2"/><circle cx="186.2" cy="829.4" r="2.2"/><circle cx="174.0" cy="817.7" r="2.2"/><circle cx="165.4" cy="835.3" r="2.2"/><circle cx="188.2" cy="798.9" r="2.2"/><circle cx="190.1" cy="822.2" r="2.2"/><circle cx="190.4" cy="846.0" r="2.2"/><circle cx="192.5" cy="884.7" r="2.2"/><circle cx="168.7" cy="830.4" r="2.2"/><circle cx="254.1" cy="798.3" r="2.2"/><circle cx="235.1" cy="806.9" r="2.2"/><circle cx="249.3" cy="795.5" r="2.2"/><circle cx="256.7" cy="791.4" r="2.2"/><circle cx="189.7" cy="821.4" r="2.2"/><circle cx="250.3" cy="799.8" r="2.2"/><circle cx="197.2" cy="838.8" r="2.2"/><circle cx="224.8" cy="839.9" r="2.2"/><circle cx="184.5" cy="830.1" r="2.2"/><circle cx="229.4" cy="832.9" r="2.2"/><circle cx="212.0" cy="802.0" r="2.2"/><circle cx="211.5" cy="836.2" r="2.2"/><circle cx="233.6" cy="815.4" r="2.2"/><circle cx="248.5" cy="800.8" r="2.2"/><circle cx="166.9" cy="821.2" r="2.2"/><circle cx="180.9" cy="792.8" r="2.2"/><circle cx="238.8" cy="852.1" r="2.2"/><circle cx="180.1" cy="819.2" r="2.2"/><circle cx="180.9" cy="819.7" r="2.2"/><circle cx="242.5" cy="798.2" r="2.2"/><circle cx="243.1" cy="797.0" r="2.2"/><circle cx="157.0" cy="824.5" r="2.2"/><circle cx="202.6" cy="821.7" r="2.2"/><circle cx="204.8" cy="798.1" r="2.2"/><circle cx="211.3" cy="795.4" r="2.2"/><circle cx="202.2" cy="831.1" r="2.2"/><circle cx="229.8" cy="799.1" r="2.2"/><circle cx="196.1" cy="846.1" r="2.2"/><circle cx="253.4" cy="792.9" r="2.2"/><circle cx="220.3" cy="793.7" r="2.2"/><circle cx="184.8" cy="833.1" r="2.2"/><circle cx="211.1" cy="799.0" r="2.2"/><circle cx="155.3" cy="825.0" r="2.2"/><circle cx="135.4" cy="894.1" r="2.2"/><circle cx="300.9" cy="795.1" r="2.2"/><circle cx="197.5" cy="850.7" r="2.2"/><circle cx="205.3" cy="821.5" r="2.2"/><circle cx="176.5" cy="793.6" r="2.2"/><circle cx="180.0" cy="839.3" r="2.2"/><circle cx="174.8" cy="837.3" r="2.2"/><circle cx="201.5" cy="804.2" r="2.2"/><circle cx="227.4" cy="805.8" r="2.2"/><circle cx="222.2" cy="798.9" r="2.2"/><circle cx="170.0" cy="799.0" r="2.2"/><circle cx="195.7" cy="851.1" r="2.2"/><circle cx="187.2" cy="812.2" r="2.2"/><circle cx="233.1" cy="820.6" r="2.2"/><circle cx="230.4" cy="794.6" r="2.2"/><circle cx="207.7" cy="854.0" r="2.2"/><circle cx="178.8" cy="804.0" r="2.2"/><circle cx="216.0" cy="852.2" r="2.2"/><circle cx="182.1" cy="829.7" r="2.2"/><circle cx="219.9" cy="809.1" r="2.2"/><circle cx="187.0" cy="833.3" r="2.2"/><circle cx="253.7" cy="791.7" r="2.2"/><circle cx="194.2" cy="823.1" r="2.2"/><circle cx="247.7" cy="835.9" r="2.2"/><circle cx="165.3" cy="800.1" r="2.2"/><circle cx="218.0" cy="830.5" r="2.2"/><circle cx="194.5" cy="823.4" r="2.2"/><circle cx="249.1" cy="825.2" r="2.2"/><circle cx="259.7" cy="787.1" r="2.2"/><circle cx="157.3" cy="823.5" r="2.2"/><circle cx="175.7" cy="821.9" r="2.2"/><circle cx="206.4" cy="809.0" r="2.2"/><circle cx="216.5" cy="793.9" r="2.2"/><circle cx="211.2" cy="793.8" r="2.2"/><circle cx="225.6" cy="836.4" r="2.2"/><circle cx="230.7" cy="791.6" r="2.2"/><circle cx="158.4" cy="796.9" r="2.2"/><circle cx="176.6" cy="844.2" r="2.2"/><circle cx="187.2" cy="796.2" r="2.2"/><circle cx="224.7" cy="849.2" r="2.2"/><circle cx="234.4" cy="779.5" r="2.2"/><circle cx="285.2" cy="815.7" r="2.2"/><circle cx="157.9" cy="805.6" r="2.2"/><circle cx="218.4" cy="787.6" r="2.2"/><circle cx="185.0" cy="820.8" r="2.2"/><circle cx="180.9" cy="836.0" r="2.2"/><circle cx="242.2" cy="798.5" r="2.2"/><circle cx="200.2" cy="789.3" r="2.2"/><circle cx="161.6" cy="817.1" r="2.2"/><circle cx="206.4" cy="800.4" r="2.2"/><circle cx="238.6" cy="848.8" r="2.2"/><circle cx="235.0" cy="845.2" r="2.2"/><circle cx="196.9" cy="853.0" r="2.2"/><circle cx="176.1" cy="848.5" r="2.2"/><circle cx="197.0" cy="799.6" r="2.2"/><circle cx="198.9" cy="834.3" r="2.2"/><circle cx="155.0" cy="844.8" r="2.2"/><circle cx="232.5" cy="835.0" r="2.2"/><circle cx="224.6" cy="812.5" r="2.2"/><circle cx="205.6" cy="818.8" r="2.2"/><circle cx="196.2" cy="843.3" r="2.2"/><circle cx="244.2" cy="825.7" r="2.2"/><circle cx="223.3" cy="790.5" r="2.2"/><circle cx="207.7" cy="824.5" r="2.2"/><circle cx="187.2" cy="854.1" r="2.2"/><circle cx="211.7" cy="854.4" r="2.2"/><circle cx="180.2" cy="811.3" r="2.2"/><circle cx="194.9" cy="832.6" r="2.2"/><circle cx="153.3" cy="799.8" r="2.2"/><circle cx="198.9" cy="830.0" r="2.2"/><circle cx="198.2" cy="789.5" r="2.2"/><circle cx="256.4" cy="827.4" r="2.2"/><circle cx="178.3" cy="856.2" r="2.2"/><circle cx="240.1" cy="838.2" r="2.2"/><circle cx="169.8" cy="805.1" r="2.2"/><circle cx="256.1" cy="819.2" r="2.2"/><circle cx="216.7" cy="810.0" r="2.2"/><circle cx="258.8" cy="798.3" r="2.2"/><circle cx="270.4" cy="809.1" r="2.2"/><circle cx="189.7" cy="834.1" r="2.2"/><circle cx="181.3" cy="831.7" r="2.2"/></g>
<polyline points="53.64,921.66 54.95,916.94 56.27,912.40 57.59,908.03 58.90,903.81 60.22,899.76 61.54,895.84 62.85,892.07 64.17,888.44 65.49,884.94 66.81,881.56 68.12,878.30 69.44,875.16 70.76,872.13 72.07,869.21 73.39,866.39 74.71,863.67 76.02,861.04 77.34,858.51 78.66,856.07 79.97,853.71 81.29,851.44 82.61,849.24 83.92,847.12 85.24,845.08 86.56,843.11 87.88,841.20 89.19,839.36 90.51,837.59 91.83,835.87 93.14,834.22 94.46,832.62 95.78,831.08 97.09,829.59 98.41,828.16 99.73,826.77 101.04,825.43 102.36,824.13 103.68,822.89 105.00,821.68 106.31,820.51 107.63,819.39 108.95,818.30 110.26,817.25 111.58,816.24 112.90,815.26 114.21,814.32 115.53,813.40 116.85,812.52 118.16,811.67 119.48,810.85 120.80,810.05 122.11,809.28 123.43,808.54 124.75,807.83 126.07,807.14 127.38,806.47 128.70,805.82 130.02,805.20 131.33,804.60 132.65,804.01 133.97,803.45 135.28,802.91 136.60,802.38 137.92,801.88 139.23,801.39 140.55,800.91 141.87,800.45 143.19,800.01 144.50,799.59 145.82,799.17 147.14,798.77 148.45,798.39 149.77,798.02 151.09,797.66 152.40,797.31 153.72,796.97 155.04,796.65 156.35,796.34 157.67,796.03 158.99,795.74 160.30,795.46 161.62,795.18 162.94,794.92 164.26,794.66 165.57,794.42 166.89,794.18 168.21,793.95 169.52,793.73 170.84,793.51 172.16,793.30 173.47,793.10 174.79,792.91 176.11,792.72 177.42,792.54 178.74,792.36 180.06,792.19 181.38,792.03 182.69,791.87 184.01,791.72 185.33,791.57 186.64,791.43 187.96,791.29 189.28,791.15 190.59,791.03 191.91,790.90 193.23,790.78 194.54,790.66 195.86,790.55 197.18,790.44 198.50,790.34 199.81,790.23 201.13,790.14 202.45,790.04 203.76,789.95 205.08,789.86 206.40,789.77 207.71,789.69 209.03,789.61 210.35,789.53 211.66,789.46 212.98,789.38 214.30,789.31 215.61,789.25 216.93,789.18 218.25,789.12 219.57,789.06 220.88,789.00 222.20,788.94 223.52,788.88 224.83,788.83 226.15,788.78 227.47,788.73 228.78,788.68 230.10,788.63 231.42,788.59 232.73,788.54 234.05,788.50 235.37,788.46 236.69,788.42 238.00,788.38 239.32,788.35 240.64,788.31 241.95,788.28 243.27,788.24 244.59,788.21 245.90,788.18 247.22,788.15 248.54,788.12 249.85,788.09 251.17,788.07 252.49,788.04 253.80,788.01 255.12,787.99 256.44,787.96 257.76,787.94 259.07,787.92 260.39,787.90 261.71,787.88 263.02,787.86 264.34,787.84 265.66,787.82 266.97,787.80 268.29,787.78 269.61,787.77 270.92,787.75 272.24,787.73 273.56,787.72 274.88,787.70 276.19,787.69 277.51,787.67 278.83,787.66 280.14,787.65 281.46,787.64 282.78,787.62 284.09,787.61 285.41,787.60 286.73,787.59 288.04,787.58 289.36,787.57 290.68,787.56 291.99,787.55 293.31,787.54 294.63,787.53 295.95,787.52 297.26,787.51 298.58,787.50 299.90,787.50 301.21,787.49 302.53,787.48 303.85,787.47 305.16,787.47 306.48,787.46 307.80,787.45 309.11,787.45 310.43,787.44 311.75,787.44 313.07,787.43 314.38,787.43 315.70,787.42" fill="none" stroke="#000" stroke-width="1.7" stroke-linejoin="round"/>
<path d="M40.5,773.4 V930.3 M40.5,930.3 H336.06000000000006" stroke="#333" stroke-width="1.1" fill="none"/>
<path d="M40.50,930.3 v3.5 M73.34,930.3 v3.5 M106.18,930.3 v3.5 M139.02,930.3 v3.5 M171.86,930.3 v3.5 M204.70,930.3 v3.5 M237.54,930.3 v3.5 M270.38,930.3 v3.5 M303.22,930.3 v3.5 M336.06,930.3 v3.5 M56.92,930.3 v1.7 M89.76,930.3 v1.7 M122.60,930.3 v1.7 M155.44,930.3 v1.7 M188.28,930.3 v1.7 M221.12,930.3 v1.7 M253.96,930.3 v1.7 M286.80,930.3 v1.7 M319.64,930.3 v1.7 M40.5,930.30 h-1.7 M40.5,916.04 h-3.5 M40.5,901.77 h-1.7 M40.5,887.51 h-3.5 M40.5,873.25 h-1.7 M40.5,858.98 h-3.5 M40.5,844.72 h-1.7 M40.5,830.45 h-3.5 M40.5,816.19 h-1.7 M40.5,801.93 h-3.5 M40.5,787.66 h-1.7 M40.5,773.40 h-3.5" stroke="#333" stroke-width="1.0" fill="none"/>
<text x="40.50" y="944.4" font-size="10.0" text-anchor="middle">0</text>
<text x="73.34" y="944.4" font-size="10.0" text-anchor="middle">1</text>
<text x="106.18" y="944.4" font-size="10.0" text-anchor="middle">2</text>
<text x="139.02" y="944.4" font-size="10.0" text-anchor="middle">3</text>
<text x="171.86" y="944.4" font-size="10.0" text-anchor="middle">4</text>
<text x="204.70" y="944.4" font-size="10.0" text-anchor="middle">5</text>
<text x="237.54" y="944.4" font-size="10.0" text-anchor="middle">6</text>
<text x="270.38" y="944.4" font-size="10.0" text-anchor="middle">7</text>
<text x="303.22" y="944.4" font-size="10.0" text-anchor="middle">8</text>
<text x="336.06" y="944.4" font-size="10.0" text-anchor="middle">9</text>
<text x="34.70" y="919.74" font-size="10.0" text-anchor="end">0.1</text>
<text x="34.70" y="891.21" font-size="10.0" text-anchor="end">0.2</text>
<text x="34.70" y="862.68" font-size="10.0" text-anchor="end">0.3</text>
<text x="34.70" y="834.15" font-size="10.0" text-anchor="end">0.4</text>
<text x="34.70" y="805.63" font-size="10.0" text-anchor="end">0.5</text>
<text x="34.70" y="777.10" font-size="10.0" text-anchor="end">0.6</text>
<text class="s" transform="translate(188.3,966.6) scale(1,0.91)" font-size="18" text-anchor="middle">LAI</text>
<text class="s" transform="translate(14.8,851.8) rotate(-90) scale(1,1.07)" x="0" y="0" font-size="17.6" text-anchor="middle">OSAVI</text>
<text class="s" x="33.7" y="746.4" font-size="18" font-weight="bold">(g)</text>
<g fill="rgba(0,128,0,0.74)"><circle cx="570.8" cy="795.0" r="2.2"/><circle cx="480.7" cy="824.7" r="2.2"/><circle cx="542.6" cy="799.5" r="2.2"/><circle cx="428.1" cy="844.7" r="2.2"/><circle cx="451.0" cy="835.6" r="2.2"/><circle cx="503.0" cy="815.6" r="2.2"/><circle cx="457.4" cy="838.2" r="2.2"/><circle cx="472.5" cy="823.2" r="2.2"/><circle cx="515.9" cy="804.1" r="2.2"/><circle cx="509.2" cy="814.6" r="2.2"/><circle cx="558.2" cy="795.9" r="2.2"/><circle cx="525.2" cy="799.2" r="2.2"/><circle cx="435.4" cy="818.5" r="2.2"/><circle cx="498.1" cy="808.7" r="2.2"/><circle cx="533.2" cy="801.7" r="2.2"/><circle cx="541.4" cy="797.7" r="2.2"/><circle cx="500.5" cy="809.9" r="2.2"/><circle cx="412.6" cy="888.8" r="2.2"/><circle cx="538.3" cy="805.8" r="2.2"/><circle cx="502.2" cy="807.2" r="2.2"/><circle cx="596.3" cy="805.0" r="2.2"/><circle cx="592.4" cy="795.9" r="2.2"/><circle cx="516.8" cy="801.3" r="2.2"/><circle cx="497.2" cy="810.0" r="2.2"/><circle cx="499.1" cy="817.8" r="2.2"/><circle cx="524.4" cy="806.2" r="2.2"/><circle cx="438.4" cy="837.5" r="2.2"/><circle cx="515.8" cy="778.9" r="2.2"/><circle cx="485.4" cy="809.2" r="2.2"/><circle cx="454.3" cy="830.9" r="2.2"/><circle cx="507.7" cy="810.3" r="2.2"/><circle cx="444.9" cy="823.4" r="2.2"/><circle cx="588.1" cy="801.2" r="2.2"/><circle cx="497.0" cy="809.0" r="2.2"/><circle cx="483.2" cy="820.1" r="2.2"/><circle cx="463.4" cy="826.1" r="2.2"/><circle cx="540.6" cy="812.3" r="2.2"/><circle cx="551.5" cy="802.4" r="2.2"/><circle cx="406.1" cy="902.7" r="2.2"/><circle cx="410.3" cy="896.5" r="2.2"/><circle cx="498.8" cy="811.0" r="2.2"/><circle cx="505.2" cy="803.2" r="2.2"/><circle cx="575.7" cy="799.3" r="2.2"/><circle cx="550.7" cy="800.3" r="2.2"/><circle cx="539.9" cy="794.5" r="2.2"/><circle cx="460.0" cy="823.4" r="2.2"/><circle cx="507.2" cy="794.7" r="2.2"/><circle cx="570.9" cy="793.6" r="2.2"/><circle cx="551.1" cy="798.4" r="2.2"/><circle cx="436.7" cy="841.9" r="2.2"/><circle cx="513.0" cy="803.9" r="2.2"/><circle cx="402.4" cy="903.5" r="2.2"/><circle cx="546.1" cy="792.1" r="2.2"/><circle cx="526.1" cy="807.6" r="2.2"/><circle cx="553.4" cy="805.7" r="2.2"/><circle cx="509.2" cy="816.5" r="2.2"/><circle cx="456.3" cy="819.2" r="2.2"/><circle cx="548.1" cy="794.2" r="2.2"/><circle cx="403.4" cy="903.4" r="2.2"/><circle cx="485.7" cy="801.3" r="2.2"/><circle cx="584.8" cy="801.8" r="2.2"/><circle cx="491.0" cy="791.0" r="2.2"/><circle cx="464.4" cy="810.7" r="2.2"/><circle cx="492.7" cy="799.9" r="2.2"/><circle cx="409.9" cy="897.0" r="2.2"/><circle cx="495.5" cy="809.7" r="2.2"/><circle cx="572.8" cy="777.9" r="2.2"/><circle cx="623.4" cy="812.5" r="2.2"/><circle cx="521.9" cy="799.9" r="2.2"/><circle cx="523.8" cy="801.7" r="2.2"/><circle cx="433.5" cy="841.5" r="2.2"/><circle cx="482.3" cy="810.0" r="2.2"/><circle cx="512.5" cy="797.2" r="2.2"/><circle cx="483.5" cy="808.0" r="2.2"/><circle cx="401.6" cy="898.4" r="2.2"/><circle cx="496.7" cy="805.1" r="2.2"/><circle cx="409.7" cy="905.4" r="2.2"/><circle cx="469.3" cy="820.5" r="2.2"/><circle cx="576.0" cy="794.3" r="2.2"/><circle cx="514.3" cy="803.4" r="2.2"/><circle cx="467.5" cy="799.4" r="2.2"/><circle cx="499.8" cy="814.3" r="2.2"/><circle cx="508.2" cy="803.7" r="2.2"/><circle cx="533.0" cy="812.0" r="2.2"/><circle cx="454.3" cy="815.3" r="2.2"/><circle cx="402.8" cy="900.0" r="2.2"/><circle cx="454.3" cy="817.7" r="2.2"/><circle cx="546.7" cy="801.2" r="2.2"/><circle cx="411.0" cy="888.7" r="2.2"/><circle cx="575.0" cy="802.2" r="2.2"/><circle cx="503.1" cy="807.7" r="2.2"/><circle cx="407.7" cy="897.0" r="2.2"/><circle cx="544.3" cy="815.7" r="2.2"/><circle cx="519.2" cy="804.5" r="2.2"/><circle cx="575.7" cy="795.1" r="2.2"/><circle cx="406.7" cy="908.6" r="2.2"/><circle cx="405.3" cy="906.4" r="2.2"/><circle cx="409.9" cy="903.1" r="2.2"/><circle cx="537.2" cy="799.2" r="2.2"/><circle cx="503.8" cy="791.9" r="2.2"/><circle cx="561.9" cy="798.4" r="2.2"/><circle cx="493.7" cy="809.2" r="2.2"/><circle cx="440.6" cy="831.5" r="2.2"/><circle cx="454.3" cy="824.2" r="2.2"/><circle cx="550.9" cy="808.3" r="2.2"/><circle cx="430.0" cy="843.2" r="2.2"/><circle cx="583.5" cy="809.4" r="2.2"/><circle cx="453.9" cy="814.2" r="2.2"/><circle cx="457.3" cy="832.9" r="2.2"/><circle cx="452.7" cy="815.9" r="2.2"/><circle cx="448.2" cy="825.6" r="2.2"/><circle cx="566.4" cy="803.7" r="2.2"/><circle cx="578.0" cy="802.0" r="2.2"/><circle cx="509.4" cy="795.6" r="2.2"/><circle cx="456.3" cy="846.0" r="2.2"/><circle cx="491.8" cy="814.6" r="2.2"/><circle cx="446.8" cy="839.6" r="2.2"/><circle cx="523.5" cy="812.0" r="2.2"/><circle cx="513.0" cy="800.4" r="2.2"/><circle cx="543.6" cy="807.4" r="2.2"/><circle cx="490.5" cy="810.6" r="2.2"/><circle cx="529.4" cy="799.7" r="2.2"/><circle cx="481.7" cy="805.9" r="2.2"/><circle cx="538.2" cy="809.8" r="2.2"/><circle cx="439.2" cy="841.1" r="2.2"/><circle cx="586.8" cy="789.9" r="2.2"/><circle cx="491.2" cy="803.1" r="2.2"/><circle cx="499.7" cy="790.7" r="2.2"/><circle cx="509.9" cy="805.7" r="2.2"/><circle cx="522.4" cy="802.9" r="2.2"/><circle cx="521.2" cy="808.3" r="2.2"/><circle cx="594.8" cy="802.3" r="2.2"/><circle cx="656.6" cy="805.6" r="2.2"/><circle cx="545.4" cy="775.7" r="2.2"/><circle cx="454.3" cy="831.6" r="2.2"/><circle cx="487.0" cy="808.9" r="2.2"/><circle cx="484.0" cy="821.6" r="2.2"/><circle cx="533.9" cy="783.8" r="2.2"/><circle cx="523.4" cy="800.9" r="2.2"/><circle cx="407.7" cy="903.2" r="2.2"/><circle cx="550.5" cy="803.6" r="2.2"/><circle cx="476.9" cy="797.0" r="2.2"/><circle cx="536.8" cy="777.8" r="2.2"/><circle cx="474.3" cy="807.5" r="2.2"/><circle cx="512.7" cy="805.6" r="2.2"/><circle cx="442.9" cy="845.3" r="2.2"/><circle cx="593.3" cy="801.2" r="2.2"/><circle cx="528.2" cy="793.7" r="2.2"/><circle cx="458.7" cy="824.2" r="2.2"/><circle cx="506.7" cy="806.7" r="2.2"/><circle cx="497.9" cy="803.7" r="2.2"/><circle cx="454.3" cy="831.9" r="2.2"/><circle cx="547.7" cy="792.9" r="2.2"/><circle cx="572.9" cy="803.3" r="2.2"/><circle cx="465.2" cy="823.0" r="2.2"/><circle cx="517.2" cy="806.4" r="2.2"/><circle cx="444.6" cy="829.0" r="2.2"/><circle cx="490.6" cy="809.7" r="2.2"/><circle cx="466.2" cy="820.1" r="2.2"/><circle cx="519.4" cy="802.2" r="2.2"/><circle cx="399.5" cy="904.0" r="2.2"/><circle cx="447.4" cy="841.4" r="2.2"/><circle cx="488.1" cy="817.7" r="2.2"/><circle cx="574.7" cy="784.6" r="2.2"/><circle cx="468.5" cy="819.8" r="2.2"/><circle cx="440.9" cy="827.1" r="2.2"/><circle cx="502.8" cy="804.7" r="2.2"/><circle cx="448.1" cy="833.6" r="2.2"/><circle cx="411.3" cy="903.9" r="2.2"/><circle cx="462.9" cy="813.8" r="2.2"/><circle cx="491.3" cy="810.6" r="2.2"/><circle cx="440.7" cy="824.9" r="2.2"/><circle cx="454.3" cy="820.9" r="2.2"/><circle cx="544.4" cy="797.0" r="2.2"/><circle cx="552.8" cy="799.7" r="2.2"/><circle cx="446.2" cy="827.9" r="2.2"/><circle cx="546.3" cy="797.4" r="2.2"/><circle cx="494.4" cy="802.2" r="2.2"/><circle cx="594.6" cy="798.3" r="2.2"/><circle cx="588.1" cy="794.6" r="2.2"/><circle cx="512.1" cy="796.6" r="2.2"/><circle cx="466.2" cy="823.8" r="2.2"/><circle cx="470.7" cy="820.9" r="2.2"/><circle cx="587.8" cy="790.6" r="2.2"/><circle cx="442.4" cy="840.5" r="2.2"/><circle cx="438.4" cy="841.9" r="2.2"/><circle cx="509.8" cy="811.6" r="2.2"/><circle cx="559.8" cy="804.8" r="2.2"/><circle cx="477.9" cy="816.6" r="2.2"/><circle cx="542.4" cy="805.4" r="2.2"/><circle cx="473.4" cy="818.1" r="2.2"/><circle cx="491.2" cy="807.0" r="2.2"/><circle cx="465.2" cy="822.9" r="2.2"/><circle cx="541.2" cy="805.5" r="2.2"/><circle cx="526.6" cy="802.0" r="2.2"/><circle cx="466.3" cy="818.6" r="2.2"/><circle cx="564.3" cy="804.0" r="2.2"/><circle cx="468.4" cy="825.8" r="2.2"/><circle cx="502.5" cy="811.3" r="2.2"/><circle cx="402.3" cy="903.7" r="2.2"/><circle cx="508.6" cy="791.4" r="2.2"/><circle cx="566.0" cy="789.6" r="2.2"/><circle cx="560.3" cy="797.1" r="2.2"/><circle cx="543.4" cy="792.9" r="2.2"/><circle cx="560.6" cy="799.8" r="2.2"/><circle cx="589.2" cy="788.8" r="2.2"/><circle cx="536.7" cy="794.0" r="2.2"/><circle cx="571.5" cy="797.0" r="2.2"/><circle cx="572.1" cy="796.6" r="2.2"/><circle cx="545.9" cy="778.0" r="2.2"/><circle cx="580.4" cy="793.1" r="2.2"/><circle cx="491.3" cy="791.3" r="2.2"/><circle cx="579.1" cy="791.2" r="2.2"/><circle cx="460.1" cy="828.4" r="2.2"/><circle cx="509.2" cy="804.5" r="2.2"/><circle cx="412.5" cy="888.0" r="2.2"/><circle cx="500.2" cy="807.6" r="2.2"/><circle cx="573.5" cy="798.9" r="2.2"/><circle cx="530.2" cy="803.3" r="2.2"/><circle cx="538.3" cy="796.6" r="2.2"/><circle cx="463.6" cy="803.8" r="2.2"/><circle cx="565.9" cy="797.4" r="2.2"/><circle cx="484.3" cy="831.0" r="2.2"/><circle cx="478.6" cy="809.3" r="2.2"/><circle cx="521.0" cy="805.7" r="2.2"/><circle cx="403.1" cy="908.5" r="2.2"/><circle cx="473.8" cy="823.2" r="2.2"/><circle cx="612.0" cy="815.6" r="2.2"/><circle cx="559.1" cy="801.7" r="2.2"/><circle cx="544.9" cy="808.8" r="2.2"/><circle cx="461.1" cy="818.0" r="2.2"/><circle cx="441.7" cy="847.9" r="2.2"/><circle cx="498.3" cy="793.0" r="2.2"/><circle cx="435.9" cy="820.5" r="2.2"/><circle cx="507.2" cy="803.9" r="2.2"/><circle cx="571.5" cy="781.7" r="2.2"/><circle cx="454.3" cy="828.2" r="2.2"/><circle cx="514.6" cy="797.4" r="2.2"/><circle cx="403.5" cy="911.4" r="2.2"/><circle cx="581.1" cy="786.4" r="2.2"/><circle cx="499.1" cy="815.3" r="2.2"/><circle cx="474.4" cy="790.3" r="2.2"/><circle cx="453.0" cy="818.1" r="2.2"/><circle cx="443.5" cy="842.4" r="2.2"/><circle cx="438.7" cy="840.9" r="2.2"/><circle cx="503.8" cy="815.5" r="2.2"/><circle cx="560.5" cy="794.9" r="2.2"/><circle cx="437.5" cy="835.2" r="2.2"/><circle cx="537.2" cy="806.8" r="2.2"/><circle cx="530.8" cy="796.7" r="2.2"/><circle cx="513.1" cy="800.7" r="2.2"/><circle cx="470.9" cy="823.3" r="2.2"/><circle cx="473.9" cy="824.5" r="2.2"/><circle cx="481.2" cy="813.2" r="2.2"/><circle cx="449.5" cy="822.3" r="2.2"/><circle cx="446.3" cy="829.3" r="2.2"/><circle cx="583.3" cy="805.5" r="2.2"/><circle cx="493.0" cy="814.1" r="2.2"/><circle cx="485.2" cy="809.7" r="2.2"/><circle cx="469.1" cy="818.9" r="2.2"/><circle cx="516.7" cy="800.2" r="2.2"/><circle cx="514.5" cy="811.4" r="2.2"/><circle cx="549.4" cy="805.5" r="2.2"/><circle cx="471.2" cy="804.6" r="2.2"/><circle cx="563.1" cy="779.0" r="2.2"/><circle cx="477.4" cy="807.3" r="2.2"/><circle cx="400.5" cy="874.4" r="2.2"/><circle cx="454.3" cy="834.0" r="2.2"/><circle cx="461.7" cy="829.4" r="2.2"/><circle cx="540.1" cy="794.8" r="2.2"/><circle cx="450.9" cy="822.7" r="2.2"/><circle cx="539.2" cy="777.4" r="2.2"/><circle cx="485.8" cy="817.3" r="2.2"/><circle cx="536.1" cy="792.4" r="2.2"/><circle cx="491.6" cy="806.4" r="2.2"/><circle cx="559.8" cy="808.4" r="2.2"/><circle cx="460.2" cy="835.7" r="2.2"/><circle cx="571.7" cy="816.3" r="2.2"/><circle cx="511.6" cy="812.0" r="2.2"/><circle cx="438.0" cy="841.2" r="2.2"/><circle cx="513.0" cy="808.4" r="2.2"/><circle cx="500.8" cy="820.9" r="2.2"/><circle cx="473.5" cy="821.7" r="2.2"/><circle cx="451.4" cy="833.3" r="2.2"/><circle cx="461.7" cy="814.1" r="2.2"/><circle cx="525.3" cy="795.0" r="2.2"/><circle cx="433.7" cy="836.6" r="2.2"/><circle cx="538.9" cy="795.2" r="2.2"/><circle cx="495.9" cy="788.5" r="2.2"/><circle cx="470.8" cy="803.6" r="2.2"/><circle cx="405.6" cy="905.3" r="2.2"/><circle cx="496.1" cy="799.7" r="2.2"/><circle cx="560.3" cy="799.2" r="2.2"/><circle cx="662.2" cy="804.8" r="2.2"/><circle cx="465.7" cy="818.1" r="2.2"/><circle cx="561.0" cy="782.4" r="2.2"/><circle cx="558.7" cy="792.9" r="2.2"/><circle cx="517.3" cy="815.9" r="2.2"/><circle cx="444.0" cy="827.6" r="2.2"/><circle cx="543.6" cy="794.0" r="2.2"/><circle cx="458.2" cy="835.4" r="2.2"/><circle cx="567.8" cy="798.6" r="2.2"/><circle cx="477.1" cy="818.3" r="2.2"/><circle cx="502.1" cy="803.0" r="2.2"/><circle cx="444.7" cy="833.2" r="2.2"/><circle cx="503.2" cy="808.4" r="2.2"/><circle cx="442.3" cy="837.4" r="2.2"/><circle cx="497.8" cy="802.1" r="2.2"/><circle cx="438.8" cy="820.8" r="2.2"/><circle cx="493.9" cy="782.8" r="2.2"/><circle cx="582.7" cy="808.2" r="2.2"/><circle cx="586.8" cy="791.8" r="2.2"/><circle cx="505.0" cy="786.0" r="2.2"/><circle cx="553.2" cy="785.8" r="2.2"/><circle cx="438.2" cy="838.3" r="2.2"/><circle cx="550.4" cy="798.3" r="2.2"/><circle cx="454.0" cy="822.0" r="2.2"/><circle cx="547.2" cy="809.9" r="2.2"/><circle cx="491.0" cy="794.2" r="2.2"/><circle cx="498.1" cy="808.0" r="2.2"/><circle cx="514.5" cy="794.0" r="2.2"/><circle cx="481.7" cy="817.6" r="2.2"/><circle cx="455.8" cy="824.3" r="2.2"/><circle cx="461.4" cy="800.8" r="2.2"/><circle cx="498.8" cy="799.6" r="2.2"/><circle cx="577.1" cy="798.4" r="2.2"/><circle cx="502.9" cy="809.5" r="2.2"/><circle cx="509.4" cy="811.5" r="2.2"/><circle cx="482.3" cy="810.0" r="2.2"/><circle cx="497.9" cy="800.5" r="2.2"/><circle cx="455.1" cy="830.3" r="2.2"/><circle cx="591.4" cy="784.8" r="2.2"/><circle cx="483.8" cy="806.6" r="2.2"/><circle cx="458.3" cy="827.4" r="2.2"/><circle cx="441.8" cy="823.5" r="2.2"/><circle cx="463.6" cy="819.5" r="2.2"/><circle cx="473.2" cy="802.2" r="2.2"/><circle cx="512.8" cy="816.7" r="2.2"/><circle cx="582.6" cy="799.6" r="2.2"/><circle cx="530.7" cy="776.9" r="2.2"/><circle cx="517.9" cy="805.6" r="2.2"/><circle cx="471.6" cy="812.2" r="2.2"/></g>
<g fill="rgba(255,128,0,0.74)"><circle cx="534.7" cy="801.9" r="2.2"/><circle cx="576.3" cy="804.5" r="2.2"/><circle cx="595.6" cy="813.7" r="2.2"/><circle cx="527.4" cy="791.7" r="2.2"/><circle cx="552.6" cy="828.3" r="2.2"/><circle cx="511.9" cy="818.8" r="2.2"/><circle cx="543.4" cy="829.0" r="2.2"/><circle cx="557.6" cy="803.6" r="2.2"/><circle cx="631.0" cy="804.0" r="2.2"/><circle cx="503.8" cy="810.3" r="2.2"/><circle cx="481.9" cy="840.5" r="2.2"/><circle cx="572.1" cy="796.7" r="2.2"/><circle cx="562.6" cy="799.8" r="2.2"/><circle cx="602.9" cy="815.3" r="2.2"/><circle cx="571.6" cy="819.0" r="2.2"/><circle cx="544.0" cy="808.1" r="2.2"/><circle cx="631.7" cy="821.7" r="2.2"/><circle cx="508.1" cy="805.3" r="2.2"/><circle cx="549.1" cy="810.2" r="2.2"/><circle cx="528.6" cy="815.4" r="2.2"/><circle cx="504.8" cy="796.2" r="2.2"/><circle cx="544.0" cy="827.9" r="2.2"/><circle cx="512.9" cy="806.2" r="2.2"/><circle cx="567.8" cy="820.0" r="2.2"/><circle cx="533.7" cy="797.6" r="2.2"/><circle cx="542.7" cy="793.4" r="2.2"/><circle cx="547.5" cy="794.6" r="2.2"/><circle cx="595.0" cy="807.4" r="2.2"/><circle cx="555.4" cy="804.0" r="2.2"/><circle cx="557.8" cy="798.0" r="2.2"/><circle cx="542.2" cy="828.1" r="2.2"/><circle cx="537.7" cy="804.0" r="2.2"/><circle cx="525.3" cy="809.0" r="2.2"/><circle cx="578.0" cy="806.4" r="2.2"/><circle cx="531.3" cy="817.7" r="2.2"/><circle cx="503.5" cy="811.1" r="2.2"/><circle cx="551.8" cy="810.1" r="2.2"/><circle cx="501.8" cy="811.4" r="2.2"/><circle cx="529.9" cy="800.5" r="2.2"/><circle cx="543.9" cy="797.4" r="2.2"/><circle cx="606.2" cy="786.2" r="2.2"/><circle cx="576.9" cy="797.5" r="2.2"/><circle cx="595.8" cy="799.2" r="2.2"/><circle cx="514.6" cy="824.4" r="2.2"/><circle cx="552.6" cy="810.7" r="2.2"/><circle cx="568.3" cy="803.6" r="2.2"/><circle cx="631.0" cy="799.1" r="2.2"/><circle cx="602.6" cy="809.6" r="2.2"/><circle cx="568.7" cy="803.9" r="2.2"/><circle cx="552.9" cy="805.5" r="2.2"/><circle cx="572.4" cy="785.6" r="2.2"/><circle cx="577.2" cy="792.7" r="2.2"/><circle cx="525.1" cy="807.0" r="2.2"/><circle cx="516.5" cy="800.0" r="2.2"/><circle cx="547.0" cy="814.7" r="2.2"/><circle cx="545.3" cy="785.5" r="2.2"/><circle cx="546.7" cy="787.8" r="2.2"/><circle cx="516.3" cy="809.5" r="2.2"/><circle cx="518.2" cy="794.3" r="2.2"/><circle cx="564.7" cy="804.6" r="2.2"/><circle cx="551.2" cy="834.7" r="2.2"/><circle cx="666.1" cy="806.7" r="2.2"/><circle cx="545.7" cy="812.2" r="2.2"/><circle cx="604.3" cy="782.0" r="2.2"/><circle cx="562.8" cy="799.5" r="2.2"/><circle cx="576.6" cy="788.5" r="2.2"/><circle cx="501.5" cy="824.3" r="2.2"/><circle cx="581.5" cy="825.5" r="2.2"/><circle cx="579.4" cy="805.4" r="2.2"/><circle cx="539.0" cy="832.2" r="2.2"/><circle cx="572.3" cy="799.3" r="2.2"/><circle cx="585.1" cy="827.3" r="2.2"/><circle cx="552.1" cy="807.9" r="2.2"/><circle cx="523.1" cy="824.3" r="2.2"/><circle cx="560.5" cy="825.2" r="2.2"/><circle cx="536.2" cy="809.5" r="2.2"/><circle cx="577.7" cy="798.6" r="2.2"/><circle cx="511.8" cy="801.1" r="2.2"/><circle cx="536.2" cy="818.5" r="2.2"/><circle cx="543.5" cy="803.7" r="2.2"/><circle cx="504.9" cy="794.7" r="2.2"/><circle cx="532.9" cy="807.4" r="2.2"/><circle cx="531.5" cy="799.8" r="2.2"/><circle cx="584.6" cy="796.3" r="2.2"/><circle cx="518.8" cy="804.1" r="2.2"/><circle cx="592.6" cy="810.8" r="2.2"/><circle cx="594.2" cy="819.0" r="2.2"/><circle cx="597.3" cy="789.2" r="2.2"/><circle cx="566.8" cy="795.7" r="2.2"/><circle cx="520.4" cy="805.0" r="2.2"/><circle cx="616.9" cy="801.8" r="2.2"/><circle cx="531.5" cy="827.6" r="2.2"/><circle cx="577.6" cy="772.9" r="2.2"/><circle cx="541.7" cy="773.8" r="2.2"/><circle cx="545.4" cy="818.7" r="2.2"/><circle cx="531.5" cy="809.0" r="2.2"/><circle cx="524.0" cy="811.1" r="2.2"/><circle cx="492.2" cy="812.0" r="2.2"/><circle cx="533.5" cy="796.3" r="2.2"/><circle cx="544.3" cy="798.0" r="2.2"/><circle cx="523.0" cy="792.4" r="2.2"/><circle cx="585.3" cy="828.9" r="2.2"/><circle cx="533.5" cy="817.9" r="2.2"/><circle cx="573.9" cy="796.9" r="2.2"/><circle cx="599.9" cy="795.2" r="2.2"/><circle cx="541.0" cy="811.2" r="2.2"/><circle cx="564.1" cy="816.7" r="2.2"/><circle cx="526.7" cy="820.5" r="2.2"/><circle cx="539.4" cy="811.9" r="2.2"/><circle cx="527.7" cy="806.5" r="2.2"/><circle cx="544.7" cy="788.0" r="2.2"/><circle cx="574.3" cy="825.4" r="2.2"/><circle cx="551.3" cy="801.8" r="2.2"/><circle cx="561.5" cy="801.8" r="2.2"/><circle cx="548.0" cy="811.2" r="2.2"/><circle cx="551.8" cy="790.2" r="2.2"/><circle cx="504.4" cy="808.3" r="2.2"/><circle cx="631.7" cy="807.7" r="2.2"/><circle cx="528.1" cy="797.3" r="2.2"/><circle cx="555.5" cy="825.2" r="2.2"/><circle cx="582.7" cy="823.9" r="2.2"/><circle cx="600.6" cy="803.6" r="2.2"/><circle cx="477.7" cy="815.8" r="2.2"/><circle cx="588.6" cy="800.9" r="2.2"/><circle cx="527.4" cy="808.0" r="2.2"/><circle cx="535.6" cy="808.5" r="2.2"/><circle cx="557.7" cy="795.5" r="2.2"/><circle cx="497.7" cy="805.4" r="2.2"/><circle cx="553.9" cy="777.8" r="2.2"/><circle cx="545.4" cy="815.9" r="2.2"/><circle cx="580.1" cy="806.1" r="2.2"/><circle cx="526.5" cy="821.5" r="2.2"/><circle cx="531.4" cy="814.9" r="2.2"/><circle cx="589.6" cy="801.5" r="2.2"/><circle cx="529.5" cy="811.1" r="2.2"/><circle cx="647.4" cy="798.9" r="2.2"/><circle cx="554.2" cy="829.6" r="2.2"/><circle cx="532.4" cy="795.7" r="2.2"/><circle cx="548.7" cy="816.7" r="2.2"/><circle cx="539.3" cy="804.9" r="2.2"/><circle cx="552.4" cy="815.1" r="2.2"/><circle cx="499.8" cy="798.2" r="2.2"/><circle cx="586.6" cy="821.7" r="2.2"/><circle cx="558.0" cy="820.1" r="2.2"/><circle cx="511.9" cy="808.0" r="2.2"/><circle cx="513.9" cy="811.8" r="2.2"/><circle cx="543.7" cy="821.4" r="2.2"/><circle cx="591.9" cy="802.3" r="2.2"/><circle cx="505.6" cy="817.3" r="2.2"/><circle cx="569.3" cy="822.1" r="2.2"/><circle cx="563.0" cy="795.8" r="2.2"/><circle cx="569.6" cy="784.0" r="2.2"/><circle cx="550.9" cy="814.5" r="2.2"/><circle cx="575.9" cy="818.3" r="2.2"/><circle cx="598.2" cy="798.5" r="2.2"/><circle cx="571.7" cy="807.9" r="2.2"/><circle cx="589.0" cy="803.3" r="2.2"/><circle cx="554.2" cy="812.3" r="2.2"/><circle cx="552.9" cy="799.4" r="2.2"/><circle cx="596.6" cy="820.0" r="2.2"/><circle cx="569.8" cy="790.8" r="2.2"/><circle cx="517.8" cy="796.8" r="2.2"/><circle cx="536.0" cy="821.9" r="2.2"/><circle cx="579.6" cy="810.1" r="2.2"/><circle cx="533.7" cy="822.6" r="2.2"/><circle cx="507.6" cy="823.6" r="2.2"/><circle cx="545.4" cy="823.1" r="2.2"/><circle cx="571.3" cy="822.5" r="2.2"/><circle cx="564.9" cy="786.2" r="2.2"/><circle cx="501.0" cy="837.1" r="2.2"/><circle cx="554.5" cy="775.1" r="2.2"/><circle cx="564.5" cy="816.6" r="2.2"/><circle cx="551.3" cy="817.3" r="2.2"/><circle cx="546.9" cy="832.8" r="2.2"/><circle cx="562.5" cy="828.8" r="2.2"/><circle cx="571.2" cy="827.4" r="2.2"/><circle cx="605.3" cy="803.7" r="2.2"/><circle cx="506.1" cy="827.1" r="2.2"/><circle cx="564.2" cy="821.1" r="2.2"/><circle cx="522.6" cy="826.6" r="2.2"/><circle cx="527.7" cy="801.2" r="2.2"/><circle cx="527.4" cy="819.5" r="2.2"/><circle cx="603.6" cy="785.1" r="2.2"/><circle cx="528.9" cy="789.0" r="2.2"/><circle cx="595.7" cy="808.3" r="2.2"/><circle cx="499.5" cy="818.1" r="2.2"/><circle cx="594.2" cy="820.5" r="2.2"/><circle cx="580.7" cy="832.4" r="2.2"/><circle cx="504.5" cy="833.7" r="2.2"/><circle cx="531.0" cy="815.7" r="2.2"/><circle cx="596.8" cy="805.9" r="2.2"/><circle cx="523.8" cy="808.6" r="2.2"/><circle cx="569.4" cy="819.5" r="2.2"/><circle cx="572.1" cy="820.5" r="2.2"/><circle cx="558.2" cy="829.8" r="2.2"/><circle cx="527.8" cy="816.8" r="2.2"/><circle cx="521.3" cy="820.2" r="2.2"/><circle cx="526.9" cy="799.5" r="2.2"/><circle cx="584.3" cy="799.7" r="2.2"/><circle cx="555.0" cy="805.2" r="2.2"/><circle cx="563.2" cy="800.7" r="2.2"/><circle cx="522.4" cy="819.7" r="2.2"/><circle cx="579.0" cy="819.7" r="2.2"/><circle cx="595.2" cy="821.6" r="2.2"/><circle cx="590.7" cy="814.0" r="2.2"/><circle cx="515.2" cy="815.6" r="2.2"/><circle cx="502.9" cy="784.0" r="2.2"/><circle cx="580.9" cy="773.9" r="2.2"/><circle cx="581.6" cy="798.4" r="2.2"/><circle cx="581.2" cy="798.9" r="2.2"/><circle cx="533.7" cy="829.5" r="2.2"/><circle cx="540.7" cy="811.0" r="2.2"/><circle cx="541.8" cy="787.3" r="2.2"/><circle cx="558.5" cy="808.2" r="2.2"/><circle cx="589.2" cy="797.8" r="2.2"/><circle cx="557.5" cy="819.5" r="2.2"/><circle cx="584.9" cy="796.4" r="2.2"/><circle cx="532.7" cy="796.9" r="2.2"/><circle cx="532.4" cy="809.0" r="2.2"/><circle cx="532.7" cy="815.3" r="2.2"/><circle cx="579.3" cy="823.8" r="2.2"/><circle cx="501.6" cy="834.1" r="2.2"/><circle cx="576.2" cy="794.0" r="2.2"/><circle cx="575.9" cy="820.8" r="2.2"/><circle cx="541.4" cy="817.6" r="2.2"/><circle cx="510.1" cy="821.0" r="2.2"/><circle cx="571.1" cy="803.3" r="2.2"/><circle cx="524.8" cy="830.4" r="2.2"/><circle cx="542.7" cy="824.0" r="2.2"/><circle cx="555.8" cy="826.7" r="2.2"/><circle cx="566.4" cy="800.0" r="2.2"/><circle cx="559.6" cy="817.3" r="2.2"/><circle cx="588.7" cy="803.7" r="2.2"/><circle cx="603.2" cy="792.9" r="2.2"/><circle cx="522.2" cy="809.6" r="2.2"/><circle cx="544.8" cy="820.6" r="2.2"/><circle cx="564.9" cy="810.3" r="2.2"/><circle cx="520.7" cy="828.9" r="2.2"/><circle cx="513.4" cy="808.8" r="2.2"/><circle cx="536.4" cy="800.0" r="2.2"/><circle cx="526.6" cy="807.6" r="2.2"/><circle cx="536.6" cy="810.2" r="2.2"/><circle cx="607.0" cy="806.8" r="2.2"/><circle cx="493.9" cy="802.4" r="2.2"/><circle cx="600.2" cy="793.4" r="2.2"/><circle cx="520.5" cy="806.2" r="2.2"/><circle cx="521.4" cy="796.0" r="2.2"/><circle cx="542.6" cy="825.5" r="2.2"/><circle cx="534.0" cy="813.3" r="2.2"/><circle cx="553.3" cy="780.4" r="2.2"/><circle cx="536.9" cy="825.5" r="2.2"/><circle cx="542.2" cy="813.2" r="2.2"/></g>
<polyline points="400.14,917.84 401.45,911.92 402.77,906.41 404.09,901.27 405.40,896.46 406.72,891.95 408.04,887.71 409.35,883.72 410.67,879.97 411.99,876.42 413.31,873.07 414.62,869.91 415.94,866.90 417.26,864.06 418.57,861.36 419.89,858.80 421.21,856.36 422.52,854.05 423.84,851.84 425.16,849.75 426.47,847.74 427.79,845.84 429.11,844.02 430.42,842.28 431.74,840.62 433.06,839.04 434.38,837.52 435.69,836.07 437.01,834.69 438.33,833.36 439.64,832.09 440.96,830.87 442.28,829.70 443.59,828.59 444.91,827.51 446.23,826.49 447.54,825.50 448.86,824.55 450.18,823.64 451.50,822.77 452.81,821.93 454.13,821.13 455.45,820.35 456.76,819.61 458.08,818.89 459.40,818.20 460.71,817.54 462.03,816.90 463.35,816.29 464.66,815.70 465.98,815.13 467.30,814.58 468.61,814.06 469.93,813.55 471.25,813.06 472.57,812.59 473.88,812.13 475.20,811.69 476.52,811.27 477.83,810.86 479.15,810.47 480.47,810.09 481.78,809.73 483.10,809.37 484.42,809.03 485.73,808.70 487.05,808.38 488.37,808.08 489.69,807.78 491.00,807.49 492.32,807.22 493.64,806.95 494.95,806.69 496.27,806.44 497.59,806.20 498.90,805.97 500.22,805.74 501.54,805.53 502.85,805.32 504.17,805.11 505.49,804.92 506.80,804.73 508.12,804.54 509.44,804.36 510.76,804.19 512.07,804.02 513.39,803.86 514.71,803.71 516.02,803.55 517.34,803.41 518.66,803.27 519.97,803.13 521.29,803.00 522.61,802.87 523.92,802.74 525.24,802.62 526.56,802.50 527.88,802.39 529.19,802.28 530.51,802.17 531.83,802.07 533.14,801.97 534.46,801.88 535.78,801.78 537.09,801.69 538.41,801.60 539.73,801.52 541.04,801.43 542.36,801.35 543.68,801.28 545.00,801.20 546.31,801.13 547.63,801.06 548.95,800.99 550.26,800.92 551.58,800.85 552.90,800.79 554.21,800.73 555.53,800.67 556.85,800.61 558.16,800.56 559.48,800.50 560.80,800.45 562.11,800.40 563.43,800.35 564.75,800.30 566.07,800.26 567.38,800.21 568.70,800.17 570.02,800.12 571.33,800.08 572.65,800.04 573.97,800.00 575.28,799.96 576.60,799.93 577.92,799.89 579.23,799.86 580.55,799.82 581.87,799.79 583.19,799.76 584.50,799.73 585.82,799.70 587.14,799.67 588.45,799.64 589.77,799.61 591.09,799.58 592.40,799.56 593.72,799.53 595.04,799.51 596.35,799.48 597.67,799.46 598.99,799.44 600.30,799.42 601.62,799.39 602.94,799.37 604.26,799.35 605.57,799.33 606.89,799.31 608.21,799.30 609.52,799.28 610.84,799.26 612.16,799.24 613.47,799.23 614.79,799.21 616.11,799.19 617.42,799.18 618.74,799.16 620.06,799.15 621.38,799.14 622.69,799.12 624.01,799.11 625.33,799.10 626.64,799.08 627.96,799.07 629.28,799.06 630.59,799.05 631.91,799.04 633.23,799.02 634.54,799.01 635.86,799.00 637.18,798.99 638.49,798.98 639.81,798.97 641.13,798.96 642.45,798.96 643.76,798.95 645.08,798.94 646.40,798.93 647.71,798.92 649.03,798.91 650.35,798.90 651.66,798.90 652.98,798.89 654.30,798.88 655.61,798.88 656.93,798.87 658.25,798.86 659.57,798.86 660.88,798.85 662.20,798.84" fill="none" stroke="#000" stroke-width="1.7" stroke-linejoin="round"/>
<path d="M387.0,773.4 V930.3 M387.0,930.3 H682.5600000000001" stroke="#333" stroke-width="1.1" fill="none"/>
<path d="M387.00,930.3 v3.5 M419.84,930.3 v3.5 M452.68,930.3 v3.5 M485.52,930.3 v3.5 M518.36,930.3 v3.5 M551.20,930.3 v3.5 M584.04,930.3 v3.5 M616.88,930.3 v3.5 M649.72,930.3 v3.5 M682.56,930.3 v3.5 M403.42,930.3 v1.7 M436.26,930.3 v1.7 M469.10,930.3 v1.7 M501.94,930.3 v1.7 M534.78,930.3 v1.7 M567.62,930.3 v1.7 M600.46,930.3 v1.7 M633.30,930.3 v1.7 M666.14,930.3 v1.7 M387.0,930.30 h-3.5 M387.0,920.49 h-1.7 M387.0,910.69 h-3.5 M387.0,900.88 h-1.7 M387.0,891.07 h-3.5 M387.0,881.27 h-1.7 M387.0,871.46 h-3.5 M387.0,861.66 h-1.7 M387.0,851.85 h-3.5 M387.0,842.04 h-1.7 M387.0,832.24 h-3.5 M387.0,822.43 h-1.7 M387.0,812.62 h-3.5 M387.0,802.82 h-1.7 M387.0,793.01 h-3.5 M387.0,783.21 h-1.7 M387.0,773.40 h-3.5" stroke="#333" stroke-width="1.0" fill="none"/>
<text x="387.00" y="944.4" font-size="10.0" text-anchor="middle">0</text>
<text x="419.84" y="944.4" font-size="10.0" text-anchor="middle">1</text>
<text x="452.68" y="944.4" font-size="10.0" text-anchor="middle">2</text>
<text x="485.52" y="944.4" font-size="10.0" text-anchor="middle">3</text>
<text x="518.36" y="944.4" font-size="10.0" text-anchor="middle">4</text>
<text x="551.20" y="944.4" font-size="10.0" text-anchor="middle">5</text>
<text x="584.04" y="944.4" font-size="10.0" text-anchor="middle">6</text>
<text x="616.88" y="944.4" font-size="10.0" text-anchor="middle">7</text>
<text x="649.72" y="944.4" font-size="10.0" text-anchor="middle">8</text>
<text x="682.56" y="944.4" font-size="10.0" text-anchor="middle">9</text>
<text x="381.20" y="934.00" font-size="10.0" text-anchor="end">0.1</text>
<text x="381.20" y="914.39" font-size="10.0" text-anchor="end">0.2</text>
<text x="381.20" y="894.77" font-size="10.0" text-anchor="end">0.3</text>
<text x="381.20" y="875.16" font-size="10.0" text-anchor="end">0.4</text>
<text x="381.20" y="855.55" font-size="10.0" text-anchor="end">0.5</text>
<text x="381.20" y="835.94" font-size="10.0" text-anchor="end">0.6</text>
<text x="381.20" y="816.33" font-size="10.0" text-anchor="end">0.7</text>
<text x="381.20" y="796.71" font-size="10.0" text-anchor="end">0.8</text>
<text x="381.20" y="777.10" font-size="10.0" text-anchor="end">0.9</text>
<text class="s" transform="translate(534.8,966.6) scale(1,0.91)" font-size="18" text-anchor="middle">LAI</text>
<text class="s" transform="translate(361.3,851.8) rotate(-90) scale(1,1.07)" x="0" y="0" font-size="17.6" text-anchor="middle">EVI2</text>
<text class="s" x="367.7" y="746.4" font-size="18" font-weight="bold">(h)</text>
</svg></body></html>
